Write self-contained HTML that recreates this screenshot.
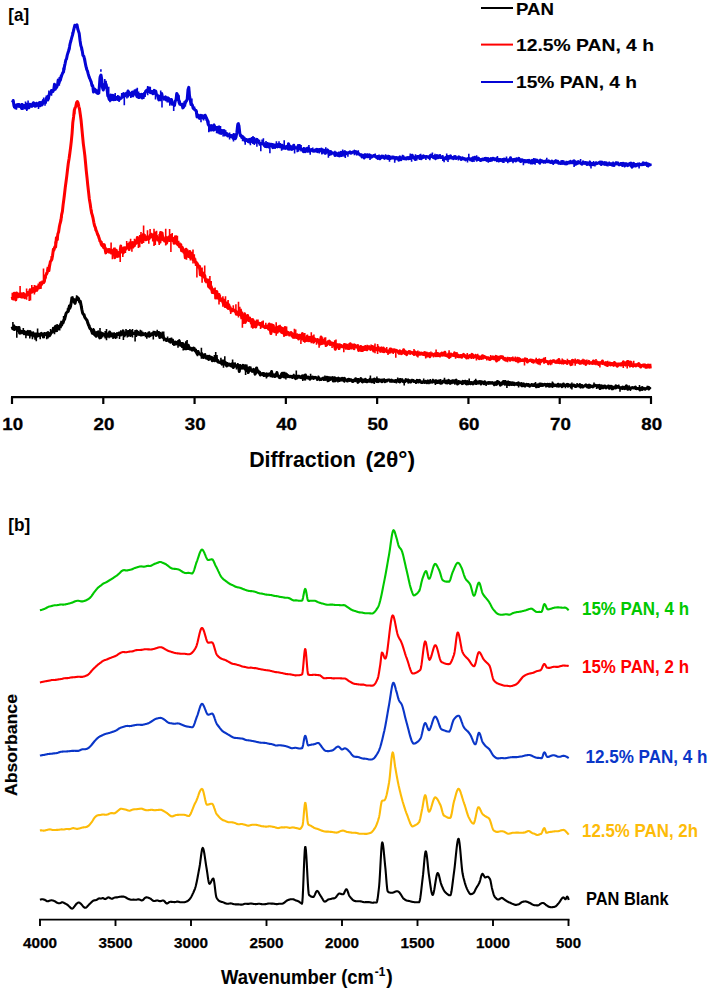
<!DOCTYPE html><html><head><meta charset="utf-8"><style>html,body{margin:0;padding:0;background:#fff;width:708px;height:989px;overflow:hidden}svg{display:block}</style></head><body><svg width="708" height="989" viewBox="0 0 708 989">
<rect width="708" height="989" fill="#fff"/>
<path d="M12.1,326.6 L12.8,328.8 L13.6,328.9 L14.3,326.7 L15.1,327.3 L15.8,327.4 L16.6,329.4 L17.4,329.0 L18.1,330.7 L18.9,327.5 L19.6,332.9 L20.4,331.0 L21.1,332.5 L21.9,331.6 L22.6,331.5 L23.4,333.0 L24.1,333.7 L24.9,332.5 L25.6,332.8 L26.4,334.2 L27.1,332.1 L27.9,331.4 L28.6,334.3 L29.4,333.0 L30.1,331.5 L30.9,333.3 L31.6,334.0 L32.4,333.1 L33.1,332.8 L33.9,335.0 L34.6,336.3 L35.4,334.6 L36.1,333.8 L36.9,335.3 L37.6,335.7 L38.4,334.2 L39.1,335.3 L39.9,335.9 L40.6,334.1 L41.4,333.3 L42.1,335.0 L42.9,335.1 L43.6,336.6 L44.4,333.5 L45.1,334.6 L45.9,334.5 L46.6,333.3 L47.4,335.8 L48.1,336.0 L48.9,333.5 L49.6,335.7 L50.4,334.1 L51.1,332.9 L51.9,331.8 L52.6,332.0 L53.4,328.3 L54.1,330.6 L54.9,330.1 L55.6,326.3 L56.4,328.9 L57.1,327.6 L57.9,328.5 L58.6,326.2 L59.4,326.2 L60.1,326.1 L60.9,323.7 L61.6,325.1 L62.4,323.2 L63.1,322.9 L63.9,319.9 L64.6,319.5 L65.3,316.4 L66.1,313.3 L66.8,312.4 L67.6,311.8 L68.3,311.3 L69.1,307.0 L69.8,308.2 L70.6,306.1 L71.3,302.0 L72.1,298.0 L72.8,300.7 L73.6,299.3 L74.3,302.2 L75.1,303.3 L75.8,299.8 L76.6,299.7 L77.3,297.4 L78.1,297.9 L78.8,299.3 L79.6,302.1 L80.3,301.4 L81.1,305.2 L81.8,309.3 L82.6,313.0 L83.3,314.2 L84.1,314.8 L84.8,317.4 L85.6,318.4 L86.3,319.6 L87.1,320.5 L87.8,323.1 L88.6,325.0 L89.3,326.8 L90.1,328.7 L90.8,328.9 L91.6,330.5 L92.3,333.2 L93.1,331.8 L93.8,330.4 L94.6,334.7 L95.3,333.8 L96.1,336.3 L96.8,333.6 L97.6,333.0 L98.3,331.8 L99.1,335.9 L99.8,337.9 L100.6,333.2 L101.3,333.6 L102.1,335.5 L102.8,333.6 L103.6,334.5 L104.3,334.4 L105.1,335.3 L105.8,336.5 L106.6,335.0 L107.3,336.3 L108.1,334.4 L108.8,335.5 L109.6,332.0 L110.3,333.0 L111.1,336.1 L111.8,334.2 L112.6,335.8 L113.3,335.8 L114.1,336.9 L114.8,336.1 L115.6,336.4 L116.3,334.8 L117.1,333.9 L117.8,333.7 L118.6,334.0 L119.3,332.9 L120.1,333.6 L120.8,334.0 L121.6,334.3 L122.3,333.3 L123.1,330.9 L123.8,333.3 L124.6,333.6 L125.3,334.6 L126.1,333.7 L126.8,331.9 L127.6,331.7 L128.3,335.4 L129.1,333.6 L129.8,335.0 L130.6,335.5 L131.3,331.4 L132.1,333.1 L132.8,333.3 L133.6,333.5 L134.3,333.6 L135.1,333.2 L135.8,333.3 L136.6,331.1 L137.3,333.0 L138.1,332.4 L138.8,333.7 L139.6,333.0 L140.3,334.7 L141.1,335.1 L141.8,334.5 L142.6,334.7 L143.3,334.5 L144.1,333.9 L144.8,334.4 L145.6,334.0 L146.3,335.3 L147.1,334.9 L147.8,335.7 L148.6,333.1 L149.3,336.2 L150.1,334.0 L150.8,333.9 L151.6,334.5 L152.3,333.7 L153.1,334.6 L153.8,333.2 L154.6,332.3 L155.3,332.6 L156.1,335.5 L156.8,333.9 L157.6,332.4 L158.3,334.3 L159.1,332.5 L159.8,337.5 L160.6,333.4 L161.3,336.6 L162.1,337.1 L162.8,334.9 L163.6,337.8 L164.3,339.2 L165.1,338.9 L165.8,339.1 L166.6,340.4 L167.3,339.7 L168.1,340.2 L168.8,339.9 L169.6,341.2 L170.3,339.4 L171.1,342.0 L171.8,340.6 L172.6,340.1 L173.3,342.3 L174.1,344.4 L174.8,343.7 L175.6,342.0 L176.3,343.9 L177.1,342.6 L177.8,343.4 L178.6,344.0 L179.3,341.0 L180.1,344.7 L180.8,343.4 L181.6,344.1 L182.3,343.4 L183.1,343.6 L183.8,344.7 L184.6,347.3 L185.3,348.8 L186.1,346.8 L186.8,348.6 L187.6,347.1 L188.3,345.2 L189.1,348.3 L189.8,349.0 L190.6,348.1 L191.3,349.4 L192.1,350.1 L192.8,348.5 L193.6,348.0 L194.3,350.0 L195.1,350.4 L195.8,350.5 L196.6,352.7 L197.3,354.0 L198.1,351.5 L198.8,353.4 L199.6,354.1 L200.3,354.2 L201.1,355.0 L201.8,353.5 L202.6,355.4 L203.3,357.5 L204.1,356.3 L204.8,354.8 L205.6,356.8 L206.3,358.1 L207.1,357.3 L207.8,356.4 L208.6,359.5 L209.3,356.2 L210.1,358.9 L210.8,358.5 L211.6,357.3 L212.3,360.7 L213.1,359.9 L213.8,358.2 L214.6,360.8 L215.3,359.7 L216.1,358.1 L216.8,360.0 L217.6,361.5 L218.3,362.2 L219.1,361.9 L219.8,362.0 L220.6,362.8 L221.3,362.1 L222.1,364.2 L222.8,363.1 L223.6,363.5 L224.3,364.1 L225.1,362.2 L225.8,362.9 L226.6,366.0 L227.3,364.7 L228.1,364.1 L228.8,365.1 L229.6,364.2 L230.3,365.4 L231.1,364.4 L231.8,365.8 L232.6,363.5 L233.3,367.5 L234.1,365.2 L234.8,364.0 L235.6,365.9 L236.3,365.9 L237.1,366.7 L237.8,365.2 L238.6,367.3 L239.3,371.6 L240.1,365.5 L240.8,367.7 L241.6,367.0 L242.3,367.8 L243.1,365.4 L243.8,366.4 L244.6,368.6 L245.3,368.1 L246.1,370.4 L246.8,367.6 L247.6,368.9 L248.3,372.6 L249.1,368.0 L249.8,368.1 L250.6,369.4 L251.3,369.6 L252.1,370.9 L252.8,370.3 L253.6,369.4 L254.3,370.8 L255.1,374.1 L255.8,372.7 L256.6,367.9 L257.4,371.4 L258.1,370.8 L258.9,372.9 L259.6,372.1 L260.4,375.0 L261.1,374.0 L261.9,374.2 L262.6,373.5 L263.4,373.5 L264.1,374.1 L264.9,375.5 L265.6,374.7 L266.4,373.8 L267.1,375.9 L267.9,374.7 L268.6,374.5 L269.4,373.8 L270.1,374.1 L270.9,374.1 L271.6,371.7 L272.4,376.2 L273.1,375.7 L273.9,374.9 L274.6,376.4 L275.4,375.8 L276.1,375.8 L276.9,372.5 L277.6,375.2 L278.4,376.1 L279.1,377.4 L279.9,377.7 L280.6,377.3 L281.4,374.4 L282.1,373.3 L282.9,376.4 L283.6,375.9 L284.4,377.0 L285.1,375.8 L285.9,376.3 L286.6,374.4 L287.4,376.6 L288.1,375.7 L288.9,376.6 L289.6,376.8 L290.4,376.2 L291.1,376.7 L291.9,376.4 L292.6,377.3 L293.4,377.1 L294.1,376.0 L294.9,376.0 L295.6,378.6 L296.4,376.6 L297.1,377.9 L297.9,377.3 L298.6,376.3 L299.4,376.2 L300.1,377.1 L300.9,377.3 L301.6,377.7 L302.4,375.8 L303.1,376.6 L303.9,377.1 L304.6,378.9 L305.4,374.9 L306.1,377.8 L306.9,376.9 L307.6,377.9 L308.4,377.0 L309.1,377.9 L309.9,379.2 L310.6,378.0 L311.4,378.1 L312.1,378.1 L312.9,377.1 L313.6,378.4 L314.4,377.7 L315.1,377.2 L315.9,378.0 L316.6,377.8 L317.4,378.8 L318.1,378.1 L318.9,377.7 L319.6,379.6 L320.4,379.2 L321.1,379.5 L321.9,378.9 L322.6,378.3 L323.4,378.1 L324.1,378.2 L324.9,379.4 L325.6,378.7 L326.4,377.3 L327.1,378.6 L327.9,377.4 L328.6,378.9 L329.4,377.7 L330.1,377.7 L330.9,379.0 L331.6,378.9 L332.4,377.5 L333.1,379.7 L333.9,381.0 L334.6,377.8 L335.4,380.8 L336.1,378.6 L336.9,378.8 L337.6,379.2 L338.4,378.1 L339.1,380.5 L339.9,379.9 L340.6,378.8 L341.4,379.3 L342.1,378.3 L342.9,379.3 L343.6,380.5 L344.4,378.3 L345.1,379.4 L345.9,379.9 L346.6,380.7 L347.4,381.0 L348.1,379.5 L348.9,379.3 L349.6,380.4 L350.4,379.7 L351.1,379.8 L351.9,381.0 L352.6,381.5 L353.4,380.4 L354.1,380.0 L354.9,380.7 L355.6,378.7 L356.4,380.3 L357.1,379.5 L357.9,382.4 L358.6,381.0 L359.4,380.6 L360.1,380.3 L360.9,378.5 L361.6,381.2 L362.4,381.9 L363.1,380.0 L363.9,381.2 L364.6,381.3 L365.4,379.4 L366.1,381.5 L366.9,381.8 L367.6,380.9 L368.4,380.6 L369.1,381.3 L369.9,379.4 L370.6,380.8 L371.4,381.6 L372.1,379.7 L372.9,381.5 L373.6,380.4 L374.4,379.0 L375.1,380.6 L375.9,379.9 L376.6,381.0 L377.4,379.7 L378.1,381.6 L378.9,380.1 L379.6,381.0 L380.4,380.2 L381.1,380.4 L381.9,381.7 L382.6,380.9 L383.4,380.4 L384.1,379.7 L384.9,381.6 L385.6,381.3 L386.4,380.4 L387.1,380.9 L387.9,379.9 L388.6,379.9 L389.4,380.0 L390.1,381.0 L390.9,380.9 L391.6,380.1 L392.4,381.3 L393.1,381.3 L393.9,380.8 L394.6,381.5 L395.4,380.5 L396.1,380.6 L396.9,381.1 L397.6,380.7 L398.4,381.3 L399.1,379.7 L399.9,381.9 L400.6,380.1 L401.4,380.6 L402.1,379.7 L402.9,381.3 L403.6,381.8 L404.4,381.7 L405.1,381.5 L405.9,379.6 L406.6,380.3 L407.4,380.6 L408.1,380.2 L408.9,381.9 L409.6,381.2 L410.4,381.0 L411.1,381.5 L411.9,380.4 L412.6,380.4 L413.4,380.5 L414.1,381.6 L414.9,381.5 L415.6,381.7 L416.4,382.2 L417.1,380.3 L417.9,380.9 L418.6,381.5 L419.4,380.4 L420.1,381.0 L420.9,382.3 L421.6,382.4 L422.4,382.4 L423.1,381.6 L423.9,381.4 L424.6,382.5 L425.4,381.3 L426.1,381.9 L426.9,382.7 L427.6,381.4 L428.4,381.2 L429.1,381.7 L429.9,382.2 L430.6,382.1 L431.4,381.9 L432.1,382.2 L432.9,380.5 L433.6,381.1 L434.4,381.9 L435.1,381.1 L435.9,380.7 L436.6,380.9 L437.4,381.1 L438.1,381.7 L438.9,381.1 L439.6,382.1 L440.4,383.2 L441.1,381.8 L441.9,382.9 L442.6,382.1 L443.4,381.0 L444.1,381.7 L444.9,381.2 L445.6,382.6 L446.4,381.1 L447.1,383.0 L447.9,382.5 L448.6,380.4 L449.4,382.7 L450.1,383.3 L450.9,381.4 L451.6,382.8 L452.4,380.7 L453.1,382.3 L453.9,380.8 L454.6,382.5 L455.4,380.7 L456.1,380.1 L456.9,382.5 L457.6,384.0 L458.4,381.7 L459.1,382.9 L459.9,382.3 L460.6,382.0 L461.4,382.7 L462.1,383.6 L462.9,381.3 L463.6,382.7 L464.4,382.6 L465.1,381.2 L465.9,383.6 L466.6,383.9 L467.4,381.6 L468.1,383.8 L468.9,382.5 L469.6,382.3 L470.4,383.6 L471.1,382.6 L471.9,382.7 L472.6,383.7 L473.4,383.5 L474.1,383.2 L474.9,381.5 L475.6,381.3 L476.4,383.5 L477.1,381.9 L477.9,382.7 L478.6,381.8 L479.4,382.5 L480.1,381.7 L480.9,384.0 L481.6,381.9 L482.4,382.6 L483.1,382.6 L483.9,383.7 L484.6,381.7 L485.4,382.8 L486.1,382.7 L486.9,383.3 L487.6,383.2 L488.4,382.5 L489.1,383.1 L489.9,382.6 L490.6,383.3 L491.4,382.9 L492.1,382.5 L492.9,383.0 L493.6,383.3 L494.4,384.8 L495.1,382.7 L495.9,383.3 L496.6,384.3 L497.4,381.5 L498.1,381.8 L498.9,382.3 L499.6,383.1 L500.4,385.1 L501.1,383.6 L501.9,384.2 L502.6,383.2 L503.4,381.5 L504.1,381.6 L504.9,384.2 L505.6,383.6 L506.4,382.5 L507.1,384.4 L507.9,382.4 L508.6,384.4 L509.4,384.7 L510.1,383.0 L510.9,382.8 L511.6,384.4 L512.4,382.9 L513.1,384.5 L513.9,383.0 L514.6,384.6 L515.4,384.1 L516.1,383.7 L516.9,383.5 L517.6,384.4 L518.4,382.8 L519.1,384.1 L519.9,384.1 L520.6,385.0 L521.4,383.6 L522.1,385.9 L522.9,384.4 L523.6,383.9 L524.4,385.8 L525.1,386.1 L525.9,384.7 L526.6,384.2 L527.4,385.0 L528.1,384.4 L528.9,384.8 L529.6,386.2 L530.4,385.3 L531.1,385.1 L531.9,385.3 L532.6,384.9 L533.4,385.6 L534.1,385.6 L534.9,384.7 L535.6,385.0 L536.4,386.8 L537.1,385.3 L537.9,384.8 L538.6,386.5 L539.4,384.9 L540.1,384.1 L540.9,385.4 L541.6,384.2 L542.4,384.5 L543.1,385.1 L543.9,384.7 L544.6,384.3 L545.4,384.4 L546.1,384.4 L546.9,385.7 L547.6,384.3 L548.4,384.4 L549.1,386.3 L549.9,384.4 L550.6,385.9 L551.4,385.8 L552.1,384.7 L552.9,383.8 L553.6,385.2 L554.4,385.4 L555.1,385.6 L555.9,385.0 L556.6,385.9 L557.4,386.0 L558.1,384.2 L558.9,386.1 L559.6,385.2 L560.4,384.7 L561.1,385.0 L561.9,386.6 L562.6,386.0 L563.4,384.0 L564.1,385.4 L564.9,385.3 L565.6,385.3 L566.4,385.1 L567.1,384.4 L567.9,386.2 L568.6,384.9 L569.4,385.3 L570.1,385.2 L570.9,385.1 L571.6,386.2 L572.4,386.0 L573.1,385.2 L573.9,385.0 L574.6,385.4 L575.4,386.5 L576.1,385.9 L576.9,386.0 L577.6,385.6 L578.4,385.7 L579.1,386.0 L579.9,384.5 L580.6,387.1 L581.4,385.4 L582.1,385.5 L582.9,387.0 L583.6,386.2 L584.4,386.1 L585.1,385.6 L585.9,384.9 L586.6,386.2 L587.4,387.0 L588.1,385.5 L588.9,387.2 L589.6,385.4 L590.4,385.7 L591.1,386.6 L591.9,386.3 L592.6,386.9 L593.4,385.8 L594.1,385.7 L594.9,385.1 L595.6,385.6 L596.4,385.8 L597.1,385.5 L597.9,386.9 L598.6,386.2 L599.4,385.3 L600.1,388.6 L600.9,386.2 L601.6,385.9 L602.4,387.8 L603.1,387.8 L603.9,386.1 L604.6,385.9 L605.4,386.3 L606.1,387.9 L606.9,386.9 L607.6,386.6 L608.4,387.2 L609.1,388.1 L609.9,386.2 L610.6,387.0 L611.4,386.3 L612.1,388.9 L612.9,388.7 L613.6,388.1 L614.4,387.3 L615.1,387.9 L615.9,385.9 L616.6,387.7 L617.4,386.5 L618.1,386.6 L618.9,387.0 L619.6,387.3 L620.4,388.0 L621.1,388.1 L621.9,387.8 L622.6,387.0 L623.4,388.2 L624.1,387.6 L624.9,388.6 L625.6,387.1 L626.4,385.7 L627.1,387.4 L627.9,389.3 L628.6,388.1 L629.4,387.7 L630.1,388.5 L630.9,388.2 L631.6,388.2 L632.4,387.5 L633.1,387.9 L633.9,388.1 L634.6,387.5 L635.4,387.1 L636.1,388.1 L636.9,388.7 L637.6,388.4 L638.4,388.4 L639.1,388.4 L639.9,389.9 L640.6,388.2 L641.4,388.8 L642.1,389.5 L642.9,388.1 L643.6,388.3 L644.4,388.9 L645.1,389.3 L645.9,388.4 L646.6,388.4 L647.4,388.2 L648.1,387.3 L648.9,389.0 L649.6,388.0 L650.4,387.0" fill="none" stroke="#000" stroke-width="3.0" stroke-linejoin="round"/>
<path d="M12.9,322.0V329.0 M14.2,324.5V331.0 M15.5,327.9V330.3 M16.8,326.1V337.7 M18.1,326.6V330.5 M19.4,326.4V334.2 M20.7,330.6V334.6 M22.0,330.3V333.4 M23.3,328.1V332.6 M24.6,330.1V333.5 M25.9,332.4V338.2 M27.2,333.1V335.3 M28.5,333.6V335.6 M29.8,330.8V338.6 M31.1,332.7V336.4 M32.4,333.3V339.3 M33.7,334.8V335.0 M35.0,334.3V339.8 M36.3,334.1V341.2 M37.6,328.6V337.5 M38.9,332.7V336.3 M40.2,333.7V339.3 M41.5,333.6V336.0 M42.8,333.0V338.2 M44.1,333.9V338.2 M45.4,334.4V335.8 M46.7,333.0V339.3 M48.0,331.0V338.4 M49.3,334.0V335.2 M50.6,329.1V335.3 M51.9,330.5V332.0 M53.2,326.9V332.1 M54.5,326.8V334.2 M55.8,328.6V332.3 M57.1,323.9V332.0 M58.4,325.3V330.5 M59.7,325.1V330.6 M61.0,320.8V328.3 M62.3,320.7V324.3 M63.6,316.0V321.4 M64.9,316.2V319.5 M66.2,312.6V316.3 M67.5,308.3V312.9 M68.8,304.7V309.0 M70.1,304.2V309.0 M71.4,296.7V303.2 M72.7,296.3V300.6 M74.0,299.5V302.5 M75.3,301.1V302.5 M76.6,295.2V300.3 M77.9,297.7V300.4 M79.2,297.9V299.4 M80.5,303.4V304.9 M81.8,305.9V310.6 M83.1,312.2V313.8 M84.4,316.1V316.5 M85.7,318.0V319.0 M87.0,320.3V321.9 M88.3,321.9V326.0 M89.6,324.8V328.3 M90.9,328.1V331.6 M92.2,329.2V334.2 M93.5,327.9V334.8 M94.8,331.8V336.3 M96.1,331.0V335.1 M97.4,333.5V335.0 M98.7,332.2V335.3 M100.0,328.1V335.6 M101.3,331.4V338.7 M102.6,334.5V337.6 M103.9,333.1V336.2 M105.2,330.9V338.5 M106.5,329.0V340.3 M107.8,332.6V336.5 M109.1,334.4V338.3 M110.4,333.3V336.0 M111.7,332.8V336.7 M113.0,332.6V339.1 M114.3,332.2V336.0 M115.6,332.9V338.9 M116.9,332.3V338.2 M118.2,334.4V335.9 M119.5,334.0V339.1 M120.8,330.2V336.6 M122.1,331.3V335.6 M123.4,333.2V340.1 M124.7,331.9V337.2 M126.0,328.9V335.1 M127.3,330.5V337.4 M128.6,330.1V335.5 M129.9,329.1V333.0 M131.2,330.5V333.3 M132.5,329.1V337.5 M133.8,331.7V334.3 M135.1,330.1V341.4 M136.4,331.0V336.9 M137.7,333.2V335.8 M139.0,332.4V335.7 M140.3,329.8V335.1 M141.6,330.4V334.8 M142.9,331.8V336.1 M144.2,334.0V335.1 M145.5,332.1V337.3 M146.8,333.3V338.7 M148.1,334.5V336.1 M149.4,331.2V335.0 M150.7,333.5V336.9 M152.0,332.6V336.0 M153.3,330.7V339.4 M154.6,333.1V334.5 M155.9,332.1V334.8 M157.2,329.8V334.9 M158.5,334.4V336.8 M159.8,332.5V338.2 M161.1,333.2V336.4 M162.4,331.4V337.6 M163.7,331.6V341.2 M165.0,337.9V339.5 M166.3,338.3V341.9 M167.6,336.5V341.0 M168.9,339.8V342.4 M170.2,339.2V343.4 M171.5,337.5V342.1 M172.8,341.1V344.9 M174.1,341.0V345.3 M175.4,341.2V344.5 M176.7,342.6V344.7 M178.0,339.9V347.8 M179.3,339.2V346.2 M180.6,341.9V346.7 M181.9,343.2V348.1 M183.2,344.5V350.5 M184.5,345.1V349.4 M185.8,341.3V349.8 M187.1,340.1V349.7 M188.4,346.1V350.1 M189.7,347.5V350.1 M191.0,347.3V349.8 M192.3,348.5V349.9 M193.6,349.6V350.9 M194.9,347.4V352.2 M196.2,348.8V352.9 M197.5,351.4V356.3 M198.8,352.2V352.6 M200.1,352.9V353.7 M201.4,347.8V358.7 M202.7,353.8V358.0 M204.0,354.9V357.0 M205.3,353.2V359.0 M206.6,355.6V357.1 M207.9,355.8V359.9 M209.2,356.3V358.9 M210.5,358.0V359.6 M211.8,357.9V360.2 M213.1,359.3V359.8 M214.4,355.0V361.4 M215.7,351.9V361.6 M217.0,354.9V361.7 M218.3,359.2V362.3 M219.6,361.7V363.8 M220.9,357.8V362.4 M222.2,359.4V363.1 M223.5,359.6V367.7 M224.8,356.3V363.6 M226.1,363.1V366.0 M227.4,362.0V364.4 M228.7,364.3V365.8 M230.0,363.0V366.1 M231.3,364.9V367.4 M232.6,359.4V365.6 M233.9,363.2V367.4 M235.2,362.6V367.2 M236.5,365.7V369.5 M237.8,363.0V367.0 M239.1,366.8V369.8 M240.4,364.5V367.9 M241.7,366.1V369.6 M243.0,364.6V369.3 M244.3,364.4V368.3 M245.6,364.2V375.0 M246.9,364.6V370.6 M248.2,367.7V371.4 M249.5,366.2V369.7 M250.8,366.5V371.7 M252.1,369.3V372.8 M253.4,368.8V372.4 M254.7,369.4V371.8 M256.0,367.6V373.2 M257.3,371.1V372.6 M258.6,372.0V372.5 M259.9,372.2V373.4 M261.2,372.8V373.4 M262.5,372.8V376.2 M263.8,372.2V377.1 M265.1,373.7V374.2 M266.4,373.7V378.4 M267.7,372.8V376.8 M269.0,373.7V376.3 M270.3,374.5V377.3 M271.6,370.0V375.5 M272.9,373.9V376.1 M274.2,374.6V375.4 M275.5,373.1V377.7 M276.8,375.0V377.1 M278.1,375.3V376.6 M279.4,375.1V376.4 M280.7,375.6V376.8 M282.0,374.7V376.5 M283.3,371.8V376.2 M284.6,371.8V376.2 M285.9,372.5V379.5 M287.2,375.4V377.1 M288.5,374.8V377.1 M289.8,375.5V377.2 M291.1,375.2V377.0 M292.4,374.8V379.1 M293.7,373.8V378.0 M295.0,376.0V377.2 M296.3,370.5V376.8 M297.6,374.7V376.9 M298.9,376.4V376.9 M300.2,376.2V379.0 M301.5,375.9V377.6 M302.8,376.6V381.0 M304.1,374.2V377.4 M305.4,375.9V380.5 M306.7,376.0V378.2 M308.0,376.0V378.9 M309.3,376.5V378.2 M310.6,373.7V378.7 M311.9,375.7V378.7 M313.2,377.4V378.5 M314.5,377.3V378.8 M315.8,377.6V378.9 M317.1,377.7V380.9 M318.4,375.5V379.3 M319.7,378.2V379.1 M321.0,378.0V380.7 M322.3,378.0V379.5 M323.6,377.7V381.0 M324.9,375.4V379.3 M326.2,377.3V380.8 M327.5,377.0V382.2 M328.8,377.7V382.0 M330.1,377.0V381.0 M331.4,378.4V380.3 M332.7,378.6V382.3 M334.0,378.5V379.6 M335.3,378.8V381.6 M336.6,377.6V381.2 M337.9,378.8V382.4 M339.2,377.7V380.4 M340.5,378.7V381.6 M341.8,378.4V381.4 M343.1,379.3V380.8 M344.4,377.7V382.7 M345.7,379.5V379.9 M347.0,378.7V380.3 M348.3,379.9V380.6 M349.6,378.5V381.0 M350.9,379.0V381.1 M352.2,379.9V381.7 M353.5,379.4V382.5 M354.8,378.9V382.1 M356.1,380.1V380.9 M357.4,378.2V381.0 M358.7,378.1V383.1 M360.0,380.0V381.2 M361.3,379.9V380.9 M362.6,380.1V382.6 M363.9,378.9V381.6 M365.2,380.1V382.4 M366.5,380.3V382.3 M367.8,379.0V381.0 M369.1,380.6V381.6 M370.4,375.6V382.1 M371.7,380.3V380.9 M373.0,380.1V383.2 M374.3,378.6V384.0 M375.6,379.5V382.3 M376.9,376.6V382.9 M378.2,378.4V381.3 M379.5,378.5V381.9 M380.8,379.2V381.2 M382.1,378.5V382.4 M383.4,379.3V381.7 M384.7,379.7V381.8 M386.0,379.8V381.0 M387.3,379.7V381.0 M388.6,380.0V380.9 M389.9,379.9V382.4 M391.2,380.5V382.6 M392.5,380.3V381.4 M393.8,380.3V381.7 M395.1,380.0V382.8 M396.4,379.8V383.4 M397.7,377.6V381.5 M399.0,380.3V380.8 M400.3,378.0V381.1 M401.6,380.0V380.9 M402.9,380.0V382.5 M404.2,380.8V385.4 M405.5,380.7V382.6 M406.8,380.8V381.7 M408.1,378.4V383.4 M409.4,379.2V381.8 M410.7,379.7V383.4 M412.0,378.7V381.2 M413.3,380.4V382.0 M414.6,381.0V382.1 M415.9,379.9V384.1 M417.2,381.0V381.5 M418.5,380.2V383.5 M419.8,379.5V382.6 M421.1,381.4V382.2 M422.4,380.9V382.4 M423.7,378.5V381.7 M425.0,381.3V381.9 M426.3,380.4V381.8 M427.6,379.5V383.2 M428.9,380.3V384.2 M430.2,379.0V383.2 M431.5,380.9V382.1 M432.8,378.7V382.1 M434.1,380.9V382.6 M435.4,381.1V385.1 M436.7,380.6V384.0 M438.0,380.4V384.0 M439.3,379.6V383.2 M440.6,379.1V382.6 M441.9,381.4V384.3 M443.2,380.0V382.9 M444.5,377.7V382.6 M445.8,381.4V382.4 M447.1,380.8V382.2 M448.4,381.4V383.1 M449.7,381.9V383.0 M451.0,381.5V382.2 M452.3,381.1V382.5 M453.6,381.7V382.4 M454.9,381.5V384.8 M456.2,379.4V382.4 M457.5,381.0V382.3 M458.8,379.9V383.3 M460.1,382.0V383.7 M461.4,381.3V384.0 M462.7,381.7V384.9 M464.0,380.7V384.0 M465.3,380.5V383.2 M466.6,382.0V384.3 M467.9,380.7V384.3 M469.2,378.6V382.6 M470.5,381.8V384.9 M471.8,381.5V382.9 M473.1,381.6V385.2 M474.4,380.9V384.0 M475.7,378.7V384.7 M477.0,382.2V383.3 M478.3,382.2V384.6 M479.6,380.3V384.1 M480.9,382.7V383.3 M482.2,380.8V382.9 M483.5,382.7V383.2 M484.8,382.3V384.5 M486.1,382.1V386.0 M487.4,382.2V383.1 M488.7,381.8V384.8 M490.0,381.6V383.6 M491.3,382.3V383.8 M492.6,382.5V384.6 M493.9,382.0V384.3 M495.2,382.6V383.6 M496.5,381.1V384.6 M497.8,382.2V384.4 M499.1,381.5V384.2 M500.4,381.9V383.3 M501.7,381.6V383.5 M503.0,382.1V384.0 M504.3,383.1V383.5 M505.6,380.0V385.0 M506.9,382.4V388.1 M508.2,380.4V385.5 M509.5,380.9V384.0 M510.8,382.8V384.0 M512.1,383.6V385.3 M513.4,383.1V384.2 M514.7,382.6V385.4 M516.0,384.0V384.3 M517.3,382.5V386.0 M518.6,383.2V387.5 M519.9,383.5V384.7 M521.2,382.5V385.1 M522.5,384.1V386.2 M523.8,384.4V385.4 M525.1,384.8V385.3 M526.4,384.1V385.5 M527.7,383.8V386.7 M529.0,384.2V387.1 M530.3,384.8V385.9 M531.6,382.9V385.5 M532.9,384.1V386.7 M534.2,382.9V385.4 M535.5,382.0V385.6 M536.8,384.9V386.1 M538.1,384.9V387.3 M539.4,382.7V385.3 M540.7,382.7V385.7 M542.0,384.4V387.1 M543.3,383.8V386.6 M544.6,383.7V386.3 M545.9,384.0V387.6 M547.2,383.5V385.2 M548.5,384.6V385.1 M549.8,384.6V385.3 M551.1,384.1V386.0 M552.4,381.6V387.9 M553.7,383.6V387.3 M555.0,384.4V386.8 M556.3,384.8V385.2 M557.6,384.4V386.4 M558.9,384.5V386.3 M560.2,384.1V386.4 M561.5,384.0V386.4 M562.8,384.1V387.2 M564.1,385.3V387.0 M565.4,384.9V388.2 M566.7,384.2V387.0 M568.0,383.3V385.8 M569.3,385.4V386.9 M570.6,384.3V388.6 M571.9,382.5V389.4 M573.2,385.5V385.8 M574.5,385.4V386.6 M575.8,385.2V388.1 M577.1,383.1V386.3 M578.4,384.4V386.0 M579.7,385.6V386.8 M581.0,384.8V386.9 M582.3,385.8V386.5 M583.6,385.9V387.0 M584.9,384.5V386.8 M586.2,384.0V386.2 M587.5,386.1V386.8 M588.8,383.8V388.4 M590.1,385.5V388.5 M591.4,386.0V387.8 M592.7,385.0V387.5 M594.0,382.5V387.5 M595.3,386.3V387.1 M596.6,384.9V388.9 M597.9,385.9V387.6 M599.2,384.0V388.1 M600.5,386.4V386.8 M601.8,386.8V386.9 M603.1,385.5V387.4 M604.4,385.7V388.5 M605.7,386.6V388.8 M607.0,386.6V387.8 M608.3,384.5V387.6 M609.6,385.6V389.6 M610.9,387.0V388.3 M612.2,385.8V387.5 M613.5,385.8V388.5 M614.8,387.0V388.1 M616.1,387.2V388.9 M617.4,386.2V387.6 M618.7,384.5V388.7 M620.0,387.4V391.7 M621.3,387.4V389.4 M622.6,386.0V389.9 M623.9,386.7V388.0 M625.2,387.6V388.1 M626.5,387.1V389.6 M627.8,386.6V387.9 M629.1,385.2V389.6 M630.4,386.7V391.1 M631.7,387.0V388.2 M633.0,387.7V388.4 M634.3,387.3V388.4 M635.6,387.5V390.0 M636.9,387.8V388.8 M638.2,387.2V388.4 M639.5,385.1V390.2 M640.8,386.9V389.5 M642.1,385.9V389.2 M643.4,387.6V389.8 M644.7,387.7V388.6 M646.0,387.8V388.9 M647.3,385.8V388.3 M648.6,386.5V390.0 M649.9,387.3V388.5" fill="none" stroke="#000" stroke-width="1.6"/>
<path d="M12.1,296.7 L12.8,298.7 L13.6,297.2 L14.3,293.2 L15.1,297.1 L15.8,299.9 L16.6,293.1 L17.4,295.3 L18.1,296.8 L18.9,294.0 L19.6,295.5 L20.4,296.6 L21.1,293.8 L21.9,296.9 L22.6,297.0 L23.4,293.5 L24.1,295.9 L24.9,297.7 L25.6,294.8 L26.4,295.4 L27.1,295.2 L27.9,292.8 L28.6,294.6 L29.4,292.9 L30.1,289.7 L30.9,292.2 L31.6,292.3 L32.4,291.7 L33.1,288.4 L33.9,290.1 L34.6,291.4 L35.4,288.8 L36.1,290.3 L36.9,290.1 L37.6,287.1 L38.4,287.9 L39.1,285.6 L39.9,287.6 L40.6,284.9 L41.4,283.4 L42.1,283.6 L42.9,282.7 L43.6,282.6 L44.4,281.4 L45.1,276.5 L45.9,274.9 L46.6,274.0 L47.4,271.6 L48.1,268.6 L48.9,270.7 L49.6,265.9 L50.4,261.6 L51.1,260.7 L51.9,259.3 L52.6,255.3 L53.4,249.3 L54.1,249.6 L54.9,246.7 L55.6,247.1 L56.4,237.7 L57.1,239.8 L57.9,233.8 L58.6,232.0 L59.4,226.5 L60.1,223.3 L60.9,220.5 L61.6,214.9 L62.4,211.3 L63.1,204.9 L63.9,199.0 L64.6,193.3 L65.3,187.1 L66.1,181.2 L66.8,175.9 L67.6,169.0 L68.3,163.3 L69.1,158.5 L69.8,153.5 L70.6,147.4 L71.3,141.4 L72.1,133.1 L72.8,122.6 L73.6,116.9 L74.3,110.2 L75.1,107.8 L75.8,106.4 L76.6,102.6 L77.3,101.5 L78.1,103.0 L78.8,106.3 L79.6,109.6 L80.3,114.5 L81.1,120.5 L81.8,127.9 L82.6,136.3 L83.3,143.6 L84.1,149.6 L84.8,155.1 L85.6,163.5 L86.3,171.1 L87.1,178.4 L87.8,185.3 L88.6,192.4 L89.3,198.7 L90.1,203.4 L90.8,208.3 L91.6,213.0 L92.3,215.1 L93.1,218.4 L93.8,222.3 L94.6,225.8 L95.3,227.4 L96.1,230.4 L96.8,231.8 L97.6,234.6 L98.3,235.5 L99.1,238.3 L99.8,240.0 L100.6,241.8 L101.3,244.4 L102.1,245.6 L102.8,244.9 L103.6,247.7 L104.3,244.8 L105.1,249.3 L105.8,252.9 L106.6,249.8 L107.3,250.3 L108.1,249.9 L108.8,251.9 L109.6,249.6 L110.3,252.4 L111.1,250.7 L111.8,250.7 L112.6,252.3 L113.3,252.3 L114.1,249.1 L114.8,257.8 L115.6,253.9 L116.3,250.2 L117.1,256.3 L117.8,253.8 L118.6,254.1 L119.3,254.9 L120.1,251.0 L120.8,246.1 L121.6,251.8 L122.3,251.9 L123.1,253.0 L123.8,248.5 L124.6,248.9 L125.3,249.7 L126.1,247.6 L126.8,247.1 L127.6,247.7 L128.3,244.5 L129.1,249.6 L129.8,243.7 L130.6,245.2 L131.3,243.9 L132.1,242.6 L132.8,244.8 L133.6,245.3 L134.3,245.8 L135.1,243.4 L135.8,240.7 L136.6,243.1 L137.3,237.6 L138.1,240.5 L138.8,241.2 L139.6,240.9 L140.3,236.9 L141.1,235.8 L141.8,242.4 L142.6,237.3 L143.3,234.6 L144.1,235.1 L144.8,237.6 L145.6,239.8 L146.3,237.0 L147.1,239.4 L147.8,237.1 L148.6,237.5 L149.3,238.5 L150.1,235.4 L150.8,236.9 L151.6,235.4 L152.3,234.9 L153.1,237.8 L153.8,234.8 L154.6,236.9 L155.3,235.3 L156.1,237.0 L156.8,236.3 L157.6,240.1 L158.3,238.2 L159.1,238.4 L159.8,242.1 L160.6,232.4 L161.3,236.4 L162.1,233.0 L162.8,239.0 L163.6,240.1 L164.3,240.6 L165.1,239.9 L165.8,237.4 L166.6,243.2 L167.3,240.1 L168.1,238.9 L168.8,237.1 L169.6,240.5 L170.3,238.6 L171.1,238.8 L171.8,240.3 L172.6,240.5 L173.3,238.4 L174.1,243.3 L174.8,238.9 L175.6,239.4 L176.3,243.3 L177.1,243.8 L177.8,244.6 L178.6,244.6 L179.3,246.6 L180.1,246.2 L180.8,244.7 L181.6,250.7 L182.3,247.5 L183.1,249.8 L183.8,252.4 L184.6,251.4 L185.3,257.8 L186.1,249.2 L186.8,251.1 L187.6,253.3 L188.3,256.5 L189.1,253.6 L189.8,251.5 L190.6,257.7 L191.3,253.9 L192.1,256.2 L192.8,259.5 L193.6,257.2 L194.3,258.9 L195.1,262.2 L195.8,262.1 L196.6,264.7 L197.3,263.5 L198.1,266.7 L198.8,266.0 L199.6,266.3 L200.3,274.8 L201.1,273.2 L201.8,275.5 L202.6,272.7 L203.3,276.0 L204.1,276.9 L204.8,275.6 L205.6,281.0 L206.3,279.5 L207.1,281.7 L207.8,280.1 L208.6,286.5 L209.3,287.2 L210.1,287.5 L210.8,285.9 L211.6,287.7 L212.3,292.5 L213.1,290.4 L213.8,292.5 L214.6,293.2 L215.3,291.5 L216.1,297.9 L216.8,291.5 L217.6,296.9 L218.3,297.0 L219.1,294.5 L219.8,299.2 L220.6,300.3 L221.3,300.0 L222.1,298.8 L222.8,302.1 L223.6,304.0 L224.3,302.8 L225.1,306.5 L225.8,305.3 L226.6,305.7 L227.3,307.6 L228.1,304.1 L228.8,305.0 L229.6,307.8 L230.3,308.4 L231.1,311.1 L231.8,311.0 L232.6,309.7 L233.3,310.4 L234.1,310.0 L234.8,310.4 L235.6,310.9 L236.3,314.1 L237.1,312.0 L237.8,312.7 L238.6,314.3 L239.3,313.4 L240.1,314.4 L240.8,311.1 L241.6,316.5 L242.3,315.6 L243.1,317.0 L243.8,317.7 L244.6,313.8 L245.3,322.4 L246.1,318.5 L246.8,318.9 L247.6,315.4 L248.3,320.4 L249.1,320.4 L249.8,319.3 L250.6,320.8 L251.3,323.1 L252.1,320.4 L252.8,319.6 L253.6,324.2 L254.3,322.5 L255.1,322.0 L255.8,327.0 L256.6,323.3 L257.4,323.0 L258.1,324.1 L258.9,323.2 L259.6,324.6 L260.4,324.8 L261.1,323.6 L261.9,324.6 L262.6,325.9 L263.4,326.3 L264.1,326.9 L264.9,327.6 L265.6,326.8 L266.4,327.5 L267.1,326.1 L267.9,326.6 L268.6,329.2 L269.4,323.9 L270.1,328.4 L270.9,333.6 L271.6,324.8 L272.4,331.0 L273.1,325.4 L273.9,329.4 L274.6,331.8 L275.4,331.8 L276.1,327.8 L276.9,327.3 L277.6,327.3 L278.4,331.3 L279.1,329.6 L279.9,330.6 L280.6,331.3 L281.4,331.8 L282.1,332.3 L282.9,331.8 L283.6,329.1 L284.4,334.6 L285.1,327.6 L285.9,334.7 L286.6,331.8 L287.4,332.8 L288.1,332.5 L288.9,333.0 L289.6,333.8 L290.4,333.6 L291.1,332.5 L291.9,336.0 L292.6,333.8 L293.4,337.3 L294.1,335.0 L294.9,334.3 L295.6,336.5 L296.4,337.5 L297.1,334.7 L297.9,336.0 L298.6,339.0 L299.4,335.2 L300.1,335.7 L300.9,337.5 L301.6,335.5 L302.4,333.6 L303.1,335.1 L303.9,338.6 L304.6,339.2 L305.4,339.3 L306.1,339.1 L306.9,336.6 L307.6,339.8 L308.4,340.7 L309.1,337.9 L309.9,340.7 L310.6,338.7 L311.4,339.8 L312.1,340.2 L312.9,337.4 L313.6,342.2 L314.4,338.7 L315.1,340.0 L315.9,339.6 L316.6,341.2 L317.4,341.3 L318.1,340.8 L318.9,343.1 L319.6,341.5 L320.4,340.6 L321.1,337.0 L321.9,341.1 L322.6,341.2 L323.4,340.5 L324.1,340.7 L324.9,343.0 L325.6,343.8 L326.4,345.2 L327.1,344.3 L327.9,341.7 L328.6,343.3 L329.4,341.1 L330.1,344.4 L330.9,344.0 L331.6,342.8 L332.4,343.8 L333.1,343.8 L333.9,343.4 L334.6,346.4 L335.4,349.2 L336.1,346.1 L336.9,346.6 L337.6,345.5 L338.4,344.9 L339.1,348.6 L339.9,345.1 L340.6,346.3 L341.4,345.7 L342.1,346.8 L342.9,346.0 L343.6,346.9 L344.4,344.5 L345.1,346.1 L345.9,348.3 L346.6,345.0 L347.4,345.6 L348.1,348.5 L348.9,347.2 L349.6,348.2 L350.4,343.8 L351.1,347.0 L351.9,345.2 L352.6,345.1 L353.4,347.6 L354.1,348.7 L354.9,345.2 L355.6,345.7 L356.4,346.5 L357.1,347.2 L357.9,345.6 L358.6,350.4 L359.4,348.2 L360.1,347.1 L360.9,346.9 L361.6,350.6 L362.4,350.6 L363.1,347.2 L363.9,348.3 L364.6,349.5 L365.4,346.5 L366.1,347.3 L366.9,349.8 L367.6,347.3 L368.4,347.7 L369.1,346.7 L369.9,347.5 L370.6,349.4 L371.4,347.6 L372.1,347.1 L372.9,348.0 L373.6,351.0 L374.4,349.2 L375.1,348.4 L375.9,349.3 L376.6,349.8 L377.4,349.5 L378.1,347.3 L378.9,349.9 L379.6,349.3 L380.4,350.7 L381.1,348.2 L381.9,351.1 L382.6,349.4 L383.4,348.1 L384.1,351.7 L384.9,349.7 L385.6,350.8 L386.4,350.3 L387.1,351.8 L387.9,351.9 L388.6,352.0 L389.4,351.6 L390.1,349.1 L390.9,349.1 L391.6,351.3 L392.4,350.1 L393.1,351.8 L393.9,351.5 L394.6,349.9 L395.4,350.4 L396.1,350.3 L396.9,350.7 L397.6,351.5 L398.4,352.5 L399.1,353.3 L399.9,350.9 L400.6,351.4 L401.4,353.7 L402.1,353.1 L402.9,352.5 L403.6,349.8 L404.4,351.3 L405.1,352.6 L405.9,351.9 L406.6,354.7 L407.4,352.7 L408.1,353.0 L408.9,351.6 L409.6,351.7 L410.4,352.2 L411.1,352.3 L411.9,352.8 L412.6,353.5 L413.4,353.4 L414.1,354.3 L414.9,351.9 L415.6,353.6 L416.4,353.7 L417.1,355.1 L417.9,353.3 L418.6,353.9 L419.4,352.8 L420.1,354.1 L420.9,354.2 L421.6,353.1 L422.4,353.4 L423.1,353.9 L423.9,354.5 L424.6,352.8 L425.4,355.0 L426.1,353.7 L426.9,356.1 L427.6,355.7 L428.4,353.8 L429.1,353.6 L429.9,356.8 L430.6,355.0 L431.4,354.9 L432.1,353.9 L432.9,354.3 L433.6,355.3 L434.4,355.1 L435.1,353.7 L435.9,355.8 L436.6,354.9 L437.4,353.6 L438.1,355.7 L438.9,354.5 L439.6,355.5 L440.4,354.2 L441.1,355.1 L441.9,353.1 L442.6,355.2 L443.4,353.3 L444.1,355.0 L444.9,352.3 L445.6,354.9 L446.4,355.7 L447.1,355.5 L447.9,356.3 L448.6,354.0 L449.4,356.7 L450.1,356.8 L450.9,354.0 L451.6,354.4 L452.4,354.7 L453.1,355.3 L453.9,355.5 L454.6,352.9 L455.4,356.0 L456.1,355.2 L456.9,354.5 L457.6,356.5 L458.4,355.3 L459.1,356.8 L459.9,356.3 L460.6,355.5 L461.4,357.0 L462.1,356.7 L462.9,355.4 L463.6,354.4 L464.4,355.5 L465.1,356.7 L465.9,355.9 L466.6,358.0 L467.4,356.6 L468.1,356.5 L468.9,356.8 L469.6,355.6 L470.4,356.4 L471.1,355.9 L471.9,354.3 L472.6,354.9 L473.4,357.5 L474.1,356.4 L474.9,356.7 L475.6,355.4 L476.4,356.4 L477.1,357.8 L477.9,357.2 L478.6,356.6 L479.4,358.7 L480.1,357.2 L480.9,356.9 L481.6,358.5 L482.4,355.7 L483.1,358.0 L483.9,356.4 L484.6,356.7 L485.4,356.9 L486.1,357.7 L486.9,357.8 L487.6,358.0 L488.4,358.0 L489.1,359.2 L489.9,359.5 L490.6,358.6 L491.4,358.7 L492.1,357.6 L492.9,356.9 L493.6,358.6 L494.4,358.1 L495.1,359.0 L495.9,356.4 L496.6,360.9 L497.4,357.0 L498.1,358.3 L498.9,359.3 L499.6,357.0 L500.4,357.9 L501.1,356.5 L501.9,357.1 L502.6,356.7 L503.4,358.7 L504.1,358.9 L504.9,358.4 L505.6,360.0 L506.4,360.2 L507.1,358.8 L507.9,358.7 L508.6,358.7 L509.4,358.5 L510.1,360.3 L510.9,359.3 L511.6,358.8 L512.4,359.0 L513.1,359.8 L513.9,358.9 L514.6,359.7 L515.4,359.4 L516.1,360.8 L516.9,360.7 L517.6,358.2 L518.4,359.5 L519.1,360.4 L519.9,359.3 L520.6,360.6 L521.4,360.2 L522.1,360.5 L522.9,359.9 L523.6,360.4 L524.4,360.6 L525.1,358.8 L525.9,359.3 L526.6,359.3 L527.4,362.0 L528.1,360.7 L528.9,360.8 L529.6,360.6 L530.4,360.0 L531.1,359.9 L531.9,361.4 L532.6,360.3 L533.4,362.2 L534.1,360.9 L534.9,360.9 L535.6,360.6 L536.4,360.8 L537.1,360.9 L537.9,362.4 L538.6,363.2 L539.4,359.9 L540.1,361.3 L540.9,361.8 L541.6,360.3 L542.4,360.6 L543.1,360.8 L543.9,359.0 L544.6,361.9 L545.4,361.3 L546.1,361.3 L546.9,361.5 L547.6,361.7 L548.4,363.6 L549.1,361.7 L549.9,362.3 L550.6,361.0 L551.4,361.9 L552.1,361.3 L552.9,361.5 L553.6,360.8 L554.4,360.9 L555.1,362.1 L555.9,362.4 L556.6,362.2 L557.4,361.1 L558.1,362.1 L558.9,359.5 L559.6,362.7 L560.4,361.8 L561.1,362.1 L561.9,363.0 L562.6,361.5 L563.4,362.8 L564.1,361.6 L564.9,362.5 L565.6,361.6 L566.4,362.3 L567.1,363.4 L567.9,361.5 L568.6,361.5 L569.4,361.8 L570.1,362.4 L570.9,364.7 L571.6,361.6 L572.4,360.3 L573.1,361.6 L573.9,360.8 L574.6,361.7 L575.4,362.3 L576.1,361.4 L576.9,361.6 L577.6,360.6 L578.4,362.5 L579.1,361.6 L579.9,363.3 L580.6,363.3 L581.4,361.6 L582.1,362.0 L582.9,362.4 L583.6,363.1 L584.4,360.9 L585.1,362.4 L585.9,364.1 L586.6,362.4 L587.4,362.7 L588.1,362.5 L588.9,361.4 L589.6,363.4 L590.4,362.8 L591.1,362.7 L591.9,363.3 L592.6,363.4 L593.4,361.0 L594.1,363.2 L594.9,362.2 L595.6,362.9 L596.4,362.2 L597.1,362.1 L597.9,363.8 L598.6,362.9 L599.4,362.7 L600.1,362.8 L600.9,363.2 L601.6,363.1 L602.4,361.0 L603.1,362.4 L603.9,363.1 L604.6,364.0 L605.4,364.6 L606.1,362.6 L606.9,365.2 L607.6,363.6 L608.4,364.0 L609.1,363.1 L609.9,363.1 L610.6,364.9 L611.4,363.5 L612.1,363.6 L612.9,364.8 L613.6,365.3 L614.4,362.5 L615.1,363.7 L615.9,363.9 L616.6,365.6 L617.4,366.2 L618.1,364.0 L618.9,364.4 L619.6,364.9 L620.4,365.1 L621.1,363.9 L621.9,365.0 L622.6,363.6 L623.4,361.9 L624.1,363.1 L624.9,364.6 L625.6,365.1 L626.4,362.5 L627.1,362.9 L627.9,364.5 L628.6,361.6 L629.4,365.1 L630.1,365.6 L630.9,362.1 L631.6,365.4 L632.4,364.6 L633.1,366.1 L633.9,365.1 L634.6,364.7 L635.4,365.1 L636.1,365.9 L636.9,365.3 L637.6,365.2 L638.4,363.9 L639.1,365.7 L639.9,365.3 L640.6,367.0 L641.4,365.4 L642.1,365.4 L642.9,365.0 L643.6,366.2 L644.4,365.4 L645.1,365.1 L645.9,367.1 L646.6,367.3 L647.4,365.5 L648.1,365.0 L648.9,366.9 L649.6,365.3 L650.4,368.5" fill="none" stroke="#ff0000" stroke-width="3.0" stroke-linejoin="round"/>
<path d="M12.3,292.8V300.0 M13.6,292.6V300.4 M14.9,296.8V298.6 M16.2,291.9V301.0 M17.5,294.5V297.9 M18.8,295.2V297.5 M20.1,286.0V296.7 M21.4,292.9V298.3 M22.7,296.0V297.8 M24.0,294.2V296.4 M25.3,295.0V295.8 M26.6,288.5V299.7 M27.9,290.9V293.9 M29.2,291.7V301.1 M30.5,288.9V300.4 M31.8,285.1V292.0 M33.1,289.7V290.8 M34.4,285.1V294.4 M35.7,285.5V290.6 M37.0,286.0V291.5 M38.3,283.5V288.1 M39.6,281.7V287.3 M40.9,281.2V288.9 M42.2,280.5V285.4 M43.5,268.6V283.2 M44.8,279.1V279.8 M46.1,272.5V278.6 M47.4,266.7V274.0 M48.7,264.7V271.8 M50.0,261.4V264.2 M51.3,255.9V260.0 M52.6,254.5V257.1 M53.9,247.0V251.4 M55.2,241.4V247.3 M56.5,239.9V243.3 M57.8,231.8V240.2 M59.1,227.6V229.6 M60.4,219.3V223.7 M61.7,213.0V218.0 M63.0,205.8V209.8 M64.3,195.8V196.7 M65.6,184.7V186.8 M66.9,174.1V176.1 M68.2,164.4V166.9 M69.5,154.1V156.2 M70.8,144.0V145.9 M72.1,132.6V133.3 M73.4,118.4V119.7 M74.7,109.5V114.2 M76.0,104.1V106.3 M77.3,103.4V104.1 M78.6,105.3V105.4 M79.9,108.0V112.5 M81.2,120.2V121.1 M82.5,135.9V136.2 M83.8,146.0V147.4 M85.1,156.9V158.5 M86.4,171.5V171.8 M87.7,183.4V184.1 M89.0,194.9V195.7 M90.3,203.4V207.0 M91.6,210.0V212.4 M92.9,217.1V218.7 M94.2,223.1V223.8 M95.5,227.6V231.0 M96.8,230.8V232.9 M98.1,233.1V235.9 M99.4,238.2V241.9 M100.7,240.8V242.8 M102.0,241.2V245.6 M103.3,243.2V247.3 M104.6,245.4V248.1 M105.9,247.3V250.2 M107.2,248.6V249.7 M108.5,248.3V251.3 M109.8,248.8V253.0 M111.1,242.6V254.4 M112.4,249.2V259.2 M113.7,252.1V256.3 M115.0,247.6V255.9 M116.3,249.5V254.2 M117.6,253.1V257.7 M118.9,251.0V257.6 M120.2,248.4V262.0 M121.5,251.2V253.0 M122.8,247.3V256.9 M124.1,246.3V253.2 M125.4,247.6V253.0 M126.7,240.9V249.3 M128.0,243.3V247.4 M129.3,241.4V248.7 M130.6,238.8V248.7 M131.9,242.6V251.8 M133.2,241.2V248.4 M134.5,238.8V242.8 M135.8,241.2V242.3 M137.1,240.1V243.8 M138.4,236.8V248.0 M139.7,235.1V247.2 M141.0,232.1V241.5 M142.3,235.0V239.0 M143.6,225.5V242.9 M144.9,234.2V240.8 M146.2,236.2V239.1 M147.5,230.2V237.2 M148.8,235.8V243.8 M150.1,228.9V237.0 M151.4,232.7V236.1 M152.7,234.5V241.6 M154.0,228.7V245.9 M155.3,231.5V245.1 M156.6,230.7V239.9 M157.9,236.9V239.3 M159.2,233.9V245.0 M160.5,237.1V243.3 M161.8,234.0V240.7 M163.1,235.6V239.9 M164.4,238.2V242.5 M165.7,228.8V245.5 M167.0,236.4V239.6 M168.3,237.3V240.4 M169.6,228.9V242.0 M170.9,234.1V251.9 M172.2,232.9V240.2 M173.5,239.5V241.9 M174.8,235.5V241.0 M176.1,235.2V243.0 M177.4,235.8V245.3 M178.7,240.8V246.0 M180.0,242.6V247.5 M181.3,248.3V249.3 M182.6,247.7V251.8 M183.9,248.8V253.0 M185.2,249.7V255.9 M186.5,251.8V259.7 M187.8,249.6V254.1 M189.1,252.4V256.0 M190.4,254.9V260.5 M191.7,251.8V258.0 M193.0,249.4V263.4 M194.3,254.2V260.2 M195.6,258.6V265.9 M196.9,261.4V277.5 M198.2,265.3V268.6 M199.5,266.9V269.9 M200.8,267.7V274.3 M202.1,267.4V282.8 M203.4,272.6V276.1 M204.7,265.5V278.9 M206.0,278.4V283.3 M207.3,279.1V282.7 M208.6,278.7V284.5 M209.9,275.9V289.5 M211.2,280.9V290.6 M212.5,289.9V293.3 M213.8,288.3V293.9 M215.1,287.6V299.3 M216.4,294.3V299.1 M217.7,294.9V299.6 M219.0,297.6V304.5 M220.3,295.1V301.6 M221.6,299.7V301.1 M222.9,296.3V306.7 M224.2,298.7V303.6 M225.5,296.3V303.3 M226.8,301.5V305.1 M228.1,300.0V310.1 M229.4,305.2V309.3 M230.7,306.4V313.9 M232.0,308.0V310.1 M233.3,305.3V311.1 M234.6,310.8V312.7 M235.9,304.3V313.1 M237.2,311.6V315.7 M238.5,301.8V317.5 M239.8,306.7V316.0 M241.1,308.8V319.3 M242.4,311.7V327.7 M243.7,315.3V324.0 M245.0,317.5V323.1 M246.3,317.5V318.4 M247.6,314.5V319.3 M248.9,316.6V321.0 M250.2,316.8V321.4 M251.5,318.3V327.8 M252.8,320.3V328.7 M254.1,320.4V327.9 M255.4,321.0V322.5 M256.7,319.6V325.4 M258.0,319.6V325.1 M259.3,323.8V324.3 M260.6,322.0V329.1 M261.9,321.3V327.7 M263.2,320.4V326.3 M264.5,324.8V325.8 M265.8,322.7V326.5 M267.1,326.2V328.3 M268.4,323.5V329.6 M269.7,324.9V329.5 M271.0,324.3V332.4 M272.3,324.1V329.0 M273.6,324.8V329.1 M274.9,328.6V332.5 M276.2,322.3V335.7 M277.5,329.1V333.8 M278.8,325.3V330.3 M280.1,324.8V331.1 M281.4,326.3V333.8 M282.7,326.9V334.3 M284.0,328.9V337.1 M285.3,329.0V335.4 M286.6,326.6V333.5 M287.9,331.3V335.7 M289.2,333.1V336.5 M290.5,331.7V335.8 M291.8,333.5V335.3 M293.1,332.9V336.1 M294.4,328.7V338.7 M295.7,329.6V336.1 M297.0,334.6V336.7 M298.3,334.4V338.9 M299.6,335.6V337.1 M300.9,336.6V343.9 M302.2,336.9V340.6 M303.5,337.4V341.9 M304.8,332.9V342.7 M306.1,336.8V342.1 M307.4,334.5V341.4 M308.7,335.8V339.8 M310.0,335.9V341.9 M311.3,332.3V343.2 M312.6,335.5V340.4 M313.9,334.6V342.9 M315.2,339.9V341.2 M316.5,339.3V344.8 M317.8,338.0V341.1 M319.1,338.9V347.8 M320.4,341.1V345.4 M321.7,337.1V344.9 M323.0,339.6V344.7 M324.3,337.5V344.0 M325.6,337.2V346.9 M326.9,341.4V345.8 M328.2,342.4V343.5 M329.5,342.1V344.1 M330.8,343.2V345.8 M332.1,342.0V347.9 M333.4,342.5V344.5 M334.7,340.2V350.2 M336.0,339.5V348.1 M337.3,343.2V347.5 M338.6,344.1V345.8 M339.9,343.4V347.7 M341.2,344.3V347.8 M342.5,345.7V347.6 M343.8,343.8V352.2 M345.1,343.4V346.5 M346.4,345.4V347.8 M347.7,344.7V346.6 M349.0,343.2V350.0 M350.3,343.5V348.2 M351.6,346.5V349.4 M352.9,344.9V348.5 M354.2,343.5V349.7 M355.5,346.8V347.9 M356.8,346.8V348.0 M358.1,345.3V349.3 M359.4,347.0V349.5 M360.7,344.9V351.4 M362.0,346.9V348.2 M363.3,346.8V348.5 M364.6,347.4V348.5 M365.9,346.8V350.8 M367.2,344.8V351.0 M368.5,346.2V349.8 M369.8,346.5V349.5 M371.1,344.6V349.3 M372.4,344.9V350.3 M373.7,345.4V349.5 M375.0,343.5V353.2 M376.3,347.1V349.4 M377.6,343.9V354.1 M378.9,349.4V350.5 M380.2,347.8V352.8 M381.5,346.6V351.0 M382.8,348.5V352.7 M384.1,349.6V352.9 M385.4,348.6V350.9 M386.7,347.0V351.2 M388.0,349.9V355.1 M389.3,349.2V353.8 M390.6,350.6V353.5 M391.9,350.7V352.2 M393.2,348.5V354.1 M394.5,350.9V351.8 M395.8,351.5V357.8 M397.1,351.0V352.2 M398.4,350.4V353.0 M399.7,351.3V353.0 M401.0,350.6V353.0 M402.3,351.9V353.8 M403.6,349.9V354.3 M404.9,350.8V355.0 M406.2,352.4V353.5 M407.5,351.9V354.0 M408.8,351.9V353.7 M410.1,350.5V354.9 M411.4,352.2V353.8 M412.7,351.2V353.5 M414.0,349.1V355.8 M415.3,351.6V354.2 M416.6,351.2V355.8 M417.9,350.6V357.5 M419.2,352.2V355.5 M420.5,353.0V354.4 M421.8,353.2V354.7 M423.1,353.5V355.9 M424.4,351.3V355.5 M425.7,351.6V358.4 M427.0,351.8V355.3 M428.3,353.6V356.1 M429.6,353.6V356.8 M430.9,351.6V354.7 M432.2,353.0V354.8 M433.5,354.2V357.5 M434.8,353.6V354.5 M436.1,349.5V356.5 M437.4,351.9V354.8 M438.7,352.4V355.6 M440.0,353.9V357.6 M441.3,352.4V356.1 M442.6,352.3V355.5 M443.9,354.3V355.2 M445.2,354.8V356.6 M446.5,354.2V356.0 M447.8,354.8V356.9 M449.1,350.2V358.9 M450.4,354.5V357.5 M451.7,354.7V356.2 M453.0,354.9V356.6 M454.3,354.8V355.4 M455.6,353.0V358.8 M456.9,352.0V357.5 M458.2,354.4V358.0 M459.5,355.3V357.4 M460.8,354.2V356.7 M462.1,353.9V358.4 M463.4,354.1V356.1 M464.7,355.3V356.7 M466.0,355.9V357.0 M467.3,353.0V357.5 M468.6,355.3V359.2 M469.9,355.8V357.6 M471.2,356.3V359.1 M472.5,353.9V358.1 M473.8,356.0V356.9 M475.1,356.8V357.6 M476.4,355.5V360.4 M477.7,353.8V357.8 M479.0,355.9V359.4 M480.3,356.3V358.1 M481.6,357.0V359.1 M482.9,356.1V359.1 M484.2,355.7V357.8 M485.5,355.9V359.0 M486.8,357.4V360.5 M488.1,356.4V358.8 M489.4,356.7V358.4 M490.7,355.0V358.4 M492.0,356.5V359.0 M493.3,357.3V358.1 M494.6,355.9V358.5 M495.9,357.1V359.1 M497.2,357.5V359.9 M498.5,357.9V361.3 M499.8,358.1V359.1 M501.1,356.6V358.9 M502.4,357.6V358.8 M503.7,358.3V360.6 M505.0,358.6V361.3 M506.3,358.8V359.8 M507.6,356.8V362.3 M508.9,357.8V360.5 M510.2,357.6V360.1 M511.5,357.2V359.7 M512.8,356.5V360.5 M514.1,358.8V360.4 M515.4,356.4V360.1 M516.7,358.9V360.1 M518.0,359.0V363.2 M519.3,357.2V362.5 M520.6,359.5V360.7 M521.9,359.0V360.9 M523.2,359.9V361.9 M524.5,359.3V365.5 M525.8,359.7V360.4 M527.1,358.1V361.9 M528.4,360.2V360.7 M529.7,360.3V361.7 M531.0,360.5V360.8 M532.3,359.4V362.7 M533.6,360.2V360.9 M534.9,360.2V360.9 M536.2,357.7V363.6 M537.5,359.0V363.2 M538.8,360.8V363.2 M540.1,359.3V365.3 M541.4,360.2V361.4 M542.7,360.5V361.7 M544.0,359.7V363.8 M545.3,356.9V362.4 M546.6,360.9V363.0 M547.9,361.2V363.7 M549.2,360.8V362.6 M550.5,361.4V365.2 M551.8,360.8V364.6 M553.1,359.6V361.8 M554.4,359.8V363.1 M555.7,361.5V362.0 M557.0,359.4V363.5 M558.3,360.8V363.7 M559.6,361.4V362.6 M560.9,360.7V363.4 M562.2,358.4V363.9 M563.5,359.5V364.5 M564.8,360.6V363.9 M566.1,361.8V362.2 M567.4,358.7V362.2 M568.7,360.7V362.8 M570.0,360.2V362.3 M571.3,361.3V362.6 M572.6,359.3V365.6 M573.9,361.2V363.1 M575.2,358.5V365.7 M576.5,361.8V363.7 M577.8,360.9V362.3 M579.1,359.4V363.1 M580.4,360.6V363.0 M581.7,359.8V362.9 M583.0,358.8V362.6 M584.3,360.4V363.2 M585.6,360.2V365.7 M586.9,359.4V363.6 M588.2,361.0V363.8 M589.5,361.7V363.5 M590.8,362.1V363.9 M592.1,361.3V363.6 M593.4,361.9V363.7 M594.7,360.7V364.4 M596.0,359.1V365.3 M597.3,361.7V363.7 M598.6,361.4V366.0 M599.9,362.0V367.6 M601.2,361.3V363.4 M602.5,362.7V364.9 M603.8,362.4V363.5 M605.1,362.9V364.7 M606.4,363.1V364.9 M607.7,360.8V367.1 M609.0,363.0V365.8 M610.3,363.4V363.7 M611.6,363.2V364.6 M612.9,362.8V363.7 M614.2,362.8V364.0 M615.5,362.6V364.3 M616.8,362.7V366.8 M618.1,363.3V364.5 M619.4,362.6V364.6 M620.7,362.7V364.6 M622.0,362.6V365.7 M623.3,362.5V368.0 M624.6,364.1V365.4 M625.9,362.6V365.7 M627.2,360.0V368.5 M628.5,363.1V365.7 M629.8,363.2V367.4 M631.1,363.5V365.7 M632.4,363.9V365.4 M633.7,360.8V365.6 M635.0,364.6V366.9 M636.3,363.3V365.4 M637.6,364.1V365.2 M638.9,362.3V366.9 M640.2,363.6V367.3 M641.5,365.0V367.2 M642.8,365.2V366.2 M644.1,363.5V366.9 M645.4,364.3V368.4 M646.7,364.2V365.9 M648.0,365.6V368.1 M649.3,365.5V367.5 M650.6,363.8V367.2" fill="none" stroke="#ff0000" stroke-width="1.6"/>
<path d="M12.5,102.4 L13.2,100.5 L14.0,106.0 L14.8,104.9 L15.5,107.8 L16.2,107.3 L17.0,104.9 L17.8,105.8 L18.5,104.5 L19.2,104.4 L20.0,105.3 L20.8,106.6 L21.5,108.0 L22.2,104.5 L23.0,107.1 L23.8,106.1 L24.5,105.8 L25.2,108.0 L26.0,105.7 L26.8,108.6 L27.5,105.9 L28.2,105.1 L29.0,107.7 L29.8,104.2 L30.5,104.6 L31.2,106.0 L32.0,106.2 L32.8,105.5 L33.5,102.7 L34.2,103.5 L35.0,106.2 L35.8,106.0 L36.5,103.3 L37.2,105.1 L38.0,104.7 L38.8,105.7 L39.5,102.6 L40.2,105.7 L41.0,102.6 L41.8,105.0 L42.5,103.9 L43.2,100.6 L44.0,101.3 L44.8,101.9 L45.5,102.6 L46.2,98.4 L47.0,99.2 L47.8,99.9 L48.5,98.2 L49.2,94.3 L50.0,93.0 L50.8,93.7 L51.5,90.5 L52.2,91.4 L53.0,91.5 L53.8,89.3 L54.5,84.2 L55.2,89.0 L56.0,87.9 L56.8,87.1 L57.5,85.0 L58.2,79.9 L59.0,83.2 L59.8,80.3 L60.5,79.7 L61.2,76.6 L62.0,74.7 L62.8,72.6 L63.5,72.0 L64.2,67.6 L65.0,64.1 L65.8,60.0 L66.5,58.9 L67.2,55.4 L68.0,52.6 L68.8,50.4 L69.5,47.1 L70.2,43.3 L71.0,40.5 L71.8,37.4 L72.5,35.1 L73.2,32.2 L74.0,28.6 L74.8,25.3 L75.5,26.4 L76.2,26.2 L77.0,24.8 L77.8,29.0 L78.5,31.2 L79.2,33.4 L80.0,40.2 L80.8,45.5 L81.5,47.4 L82.2,50.7 L83.0,55.5 L83.8,56.1 L84.5,59.1 L85.2,62.7 L86.0,66.6 L86.8,69.5 L87.5,71.1 L88.2,73.9 L89.0,76.7 L89.8,78.5 L90.5,80.2 L91.2,81.9 L92.0,85.8 L92.8,86.2 L93.5,92.0 L94.2,90.2 L95.0,89.3 L95.8,91.3 L96.5,92.5 L97.2,93.1 L98.0,93.5 L98.8,93.0 L99.5,84.7 L100.2,76.6 L101.0,75.0 L101.8,79.8 L102.5,87.7 L103.2,89.9 L104.0,88.0 L104.8,84.1 L105.5,83.6 L106.2,84.4 L107.0,89.1 L107.8,95.0 L108.5,96.8 L109.2,99.4 L110.0,100.1 L110.8,95.1 L111.5,99.7 L112.2,97.6 L113.0,95.4 L113.8,99.7 L114.5,98.9 L115.2,98.7 L116.0,97.3 L116.8,97.8 L117.5,99.2 L118.2,97.1 L119.0,99.2 L119.8,99.2 L120.5,98.2 L121.2,98.2 L122.0,96.8 L122.8,94.3 L123.5,93.7 L124.2,95.0 L125.0,95.8 L125.8,94.2 L126.5,93.1 L127.2,94.2 L128.0,91.0 L128.8,92.3 L129.5,93.3 L130.2,93.8 L131.0,93.4 L131.8,93.5 L132.5,92.0 L133.2,93.0 L134.0,94.3 L134.8,90.9 L135.5,92.0 L136.2,93.5 L137.0,96.7 L137.8,95.7 L138.5,97.5 L139.2,97.5 L140.0,95.0 L140.8,95.9 L141.5,94.3 L142.2,98.0 L143.0,96.8 L143.8,95.6 L144.5,94.4 L145.2,92.7 L146.0,91.1 L146.8,90.3 L147.5,91.3 L148.2,88.2 L149.0,88.1 L149.8,90.2 L150.5,92.6 L151.2,91.7 L152.0,91.6 L152.8,93.8 L153.5,93.1 L154.2,90.4 L155.0,92.3 L155.8,91.2 L156.5,94.7 L157.2,94.9 L158.0,96.8 L158.8,100.0 L159.5,96.2 L160.2,97.6 L161.0,97.3 L161.8,93.8 L162.5,97.3 L163.2,97.5 L164.0,99.2 L164.8,97.5 L165.5,96.9 L166.2,99.9 L167.0,99.0 L167.8,97.8 L168.5,98.2 L169.2,99.1 L170.0,101.3 L170.8,102.9 L171.5,99.4 L172.2,104.2 L173.0,103.2 L173.8,104.3 L174.5,105.5 L175.2,101.1 L176.0,100.0 L176.8,93.4 L177.5,94.7 L178.2,95.8 L179.0,102.1 L179.8,104.2 L180.5,104.3 L181.2,104.9 L182.0,104.1 L182.8,107.9 L183.5,107.2 L184.2,105.9 L185.0,103.5 L185.8,101.9 L186.5,100.9 L187.2,99.2 L188.0,89.7 L188.8,87.3 L189.5,95.6 L190.2,99.6 L191.0,104.4 L191.8,104.2 L192.5,105.6 L193.2,108.3 L194.0,108.6 L194.8,109.7 L195.5,110.3 L196.2,110.6 L197.0,116.9 L197.8,115.2 L198.5,115.4 L199.2,118.2 L200.0,115.8 L200.8,115.3 L201.5,116.6 L202.2,117.5 L203.0,118.1 L203.8,117.9 L204.5,117.6 L205.2,115.3 L206.0,117.0 L206.8,118.6 L207.5,120.7 L208.2,124.5 L209.0,125.4 L209.8,128.3 L210.5,127.0 L211.2,125.5 L212.0,127.8 L212.8,126.9 L213.5,130.0 L214.2,125.3 L215.0,127.2 L215.8,127.6 L216.5,129.1 L217.2,129.1 L218.0,127.3 L218.8,127.3 L219.5,130.8 L220.2,133.1 L221.0,133.4 L221.8,131.0 L222.5,132.7 L223.2,131.1 L224.0,130.5 L224.8,134.9 L225.5,134.5 L226.2,133.3 L227.0,133.6 L227.8,136.0 L228.5,135.5 L229.2,135.0 L230.0,136.3 L230.8,136.2 L231.5,135.9 L232.2,135.7 L233.0,138.2 L233.8,136.2 L234.5,134.9 L235.2,138.8 L236.0,137.2 L236.8,133.0 L237.5,126.5 L238.2,123.8 L239.0,125.9 L239.8,133.1 L240.5,135.8 L241.2,135.7 L242.0,137.4 L242.8,136.7 L243.5,139.3 L244.2,137.9 L245.0,141.0 L245.8,140.5 L246.5,139.5 L247.2,140.7 L248.0,141.1 L248.8,140.0 L249.5,141.9 L250.2,139.3 L251.0,141.5 L251.8,141.1 L252.5,139.2 L253.2,142.3 L254.0,138.4 L254.8,141.4 L255.5,141.0 L256.2,142.4 L257.0,139.4 L257.8,140.4 L258.5,141.3 L259.2,142.9 L260.0,143.4 L260.8,143.7 L261.5,143.7 L262.2,143.4 L263.0,142.8 L263.8,144.3 L264.5,145.8 L265.2,146.5 L266.0,144.5 L266.8,146.7 L267.5,143.5 L268.2,146.5 L269.0,144.0 L269.8,145.8 L270.5,144.3 L271.2,144.3 L272.0,144.9 L272.8,147.6 L273.5,144.9 L274.2,146.6 L275.0,146.1 L275.8,146.3 L276.5,146.4 L277.2,146.9 L278.0,144.5 L278.8,146.2 L279.5,146.7 L280.2,145.6 L281.0,146.9 L281.8,145.2 L282.5,147.5 L283.2,145.8 L284.0,146.5 L284.8,147.9 L285.5,148.4 L286.2,146.4 L287.0,146.4 L287.8,148.5 L288.5,143.8 L289.2,149.1 L290.0,149.2 L290.8,146.4 L291.5,149.2 L292.2,148.3 L293.0,148.6 L293.8,145.3 L294.5,147.7 L295.2,148.1 L296.0,148.0 L296.8,148.1 L297.5,148.4 L298.2,145.5 L299.0,148.7 L299.8,148.3 L300.5,149.1 L301.2,148.7 L302.0,149.4 L302.8,149.8 L303.5,151.7 L304.2,148.8 L305.0,151.7 L305.8,149.6 L306.5,148.9 L307.2,148.4 L308.0,151.1 L308.8,148.4 L309.5,151.2 L310.2,150.6 L311.0,149.7 L311.8,149.6 L312.5,150.9 L313.2,150.6 L314.0,151.3 L314.8,150.5 L315.5,150.0 L316.2,151.2 L317.0,149.3 L317.8,151.6 L318.5,150.8 L319.2,149.6 L320.0,149.7 L320.8,150.5 L321.5,149.0 L322.2,152.5 L323.0,152.1 L323.8,150.1 L324.5,151.3 L325.2,153.3 L326.0,152.2 L326.8,150.9 L327.5,149.9 L328.2,150.7 L329.0,153.8 L329.8,153.1 L330.5,151.6 L331.2,153.9 L332.0,153.0 L332.8,152.8 L333.5,153.1 L334.2,153.3 L335.0,155.5 L335.8,153.0 L336.5,153.6 L337.2,155.3 L338.0,155.4 L338.8,153.0 L339.5,155.9 L340.2,154.9 L341.0,152.4 L341.8,155.4 L342.5,152.3 L343.2,154.2 L344.0,152.4 L344.8,151.7 L345.5,154.0 L346.2,153.5 L347.0,153.0 L347.8,153.1 L348.5,152.8 L349.2,152.6 L350.0,151.8 L350.8,153.2 L351.5,152.6 L352.2,152.3 L353.0,152.0 L353.8,152.3 L354.5,151.2 L355.2,152.3 L356.0,151.9 L356.8,154.1 L357.5,152.4 L358.2,153.1 L359.0,153.8 L359.8,154.9 L360.5,154.9 L361.2,154.8 L362.0,156.9 L362.8,155.2 L363.5,155.7 L364.2,158.0 L365.0,154.8 L365.8,156.6 L366.5,156.2 L367.2,154.7 L368.0,155.4 L368.8,156.8 L369.5,154.8 L370.2,156.0 L371.0,157.0 L371.8,156.1 L372.5,156.6 L373.2,155.8 L374.0,155.9 L374.8,155.9 L375.5,156.2 L376.2,157.1 L377.0,156.7 L377.8,158.4 L378.5,157.2 L379.2,157.0 L380.0,158.8 L380.8,156.8 L381.5,156.2 L382.2,157.1 L383.0,156.1 L383.8,157.5 L384.5,158.3 L385.2,157.7 L386.0,156.9 L386.8,157.1 L387.5,157.7 L388.2,158.4 L389.0,157.1 L389.8,157.1 L390.5,158.5 L391.2,157.8 L392.0,157.9 L392.8,158.1 L393.5,157.0 L394.2,157.6 L395.0,158.7 L395.8,157.7 L396.5,157.7 L397.2,158.1 L398.0,158.2 L398.8,160.1 L399.5,157.2 L400.2,158.1 L401.0,159.7 L401.8,158.0 L402.5,158.3 L403.2,156.7 L404.0,158.8 L404.8,158.8 L405.5,158.7 L406.2,157.8 L407.0,158.3 L407.8,157.9 L408.5,158.6 L409.2,157.9 L410.0,158.5 L410.8,156.6 L411.5,157.5 L412.2,155.2 L413.0,157.5 L413.8,158.2 L414.5,157.3 L415.2,159.5 L416.0,156.6 L416.8,157.1 L417.5,156.5 L418.2,156.8 L419.0,156.8 L419.8,155.9 L420.5,156.3 L421.2,158.8 L422.0,156.8 L422.8,157.7 L423.5,155.8 L424.2,156.8 L425.0,157.3 L425.8,156.7 L426.5,156.4 L427.2,156.6 L428.0,156.8 L428.8,157.5 L429.5,157.8 L430.2,155.6 L431.0,155.0 L431.8,156.6 L432.5,156.8 L433.2,157.4 L434.0,157.8 L434.8,156.3 L435.5,158.7 L436.2,157.2 L437.0,155.5 L437.8,157.8 L438.5,157.3 L439.2,157.3 L440.0,155.8 L440.8,156.9 L441.5,157.4 L442.2,157.2 L443.0,157.9 L443.8,158.5 L444.5,158.7 L445.2,158.5 L446.0,157.4 L446.8,159.0 L447.5,157.9 L448.2,158.4 L449.0,157.5 L449.8,156.6 L450.5,155.9 L451.2,158.0 L452.0,157.3 L452.8,157.9 L453.5,158.7 L454.2,156.7 L455.0,156.6 L455.8,158.3 L456.5,158.4 L457.2,157.9 L458.0,157.7 L458.8,156.9 L459.5,158.2 L460.2,157.6 L461.0,158.7 L461.8,159.1 L462.5,157.9 L463.2,158.7 L464.0,158.6 L464.8,159.0 L465.5,159.8 L466.2,159.1 L467.0,159.1 L467.8,159.2 L468.5,158.2 L469.2,158.6 L470.0,158.9 L470.8,159.7 L471.5,159.8 L472.2,160.6 L473.0,157.9 L473.8,158.8 L474.5,157.4 L475.2,158.4 L476.0,157.5 L476.8,159.9 L477.5,159.6 L478.2,158.1 L479.0,159.3 L479.8,159.6 L480.5,160.5 L481.2,159.8 L482.0,159.2 L482.8,159.1 L483.5,159.7 L484.2,159.5 L485.0,158.8 L485.8,158.3 L486.5,160.2 L487.2,158.7 L488.0,159.1 L488.8,160.1 L489.5,159.4 L490.2,160.4 L491.0,158.6 L491.8,160.1 L492.5,158.5 L493.2,158.3 L494.0,158.7 L494.8,159.7 L495.5,159.1 L496.2,158.6 L497.0,160.7 L497.8,159.0 L498.5,159.7 L499.2,160.0 L500.0,159.5 L500.8,160.2 L501.5,160.4 L502.2,159.9 L503.0,160.8 L503.8,159.5 L504.5,159.2 L505.2,160.2 L506.0,159.3 L506.8,160.4 L507.5,160.1 L508.2,159.8 L509.0,160.7 L509.8,160.7 L510.5,157.8 L511.2,160.0 L512.0,160.4 L512.8,160.7 L513.5,159.9 L514.2,159.4 L515.0,160.5 L515.8,161.0 L516.5,158.8 L517.2,159.3 L518.0,160.0 L518.8,158.4 L519.5,160.1 L520.2,161.3 L521.0,159.7 L521.8,160.8 L522.5,159.9 L523.2,161.0 L524.0,161.2 L524.8,161.8 L525.5,160.8 L526.2,161.7 L527.0,161.2 L527.8,160.5 L528.5,162.1 L529.2,160.4 L530.0,161.1 L530.8,163.0 L531.5,161.7 L532.2,160.4 L533.0,161.3 L533.8,160.7 L534.5,161.0 L535.2,160.0 L536.0,161.4 L536.8,160.0 L537.5,161.6 L538.2,161.7 L539.0,162.1 L539.8,163.2 L540.5,160.1 L541.2,160.6 L542.0,160.8 L542.8,161.1 L543.5,162.3 L544.2,161.4 L545.0,161.3 L545.8,160.9 L546.5,161.3 L547.2,161.5 L548.0,161.8 L548.8,160.8 L549.5,161.9 L550.2,162.4 L551.0,162.3 L551.8,161.1 L552.5,162.8 L553.2,162.8 L554.0,162.4 L554.8,161.2 L555.5,161.1 L556.2,162.3 L557.0,161.5 L557.8,161.2 L558.5,163.0 L559.2,163.1 L560.0,162.9 L560.8,163.5 L561.5,163.2 L562.2,161.5 L563.0,163.4 L563.8,162.6 L564.5,162.9 L565.2,163.8 L566.0,162.9 L566.8,163.8 L567.5,162.7 L568.2,162.3 L569.0,162.1 L569.8,162.6 L570.5,161.4 L571.2,162.7 L572.0,162.6 L572.8,162.3 L573.5,161.0 L574.2,161.1 L575.0,163.4 L575.8,162.1 L576.5,163.9 L577.2,162.3 L578.0,163.2 L578.8,161.8 L579.5,162.5 L580.2,162.8 L581.0,163.5 L581.8,164.3 L582.5,163.8 L583.2,161.9 L584.0,163.1 L584.8,163.0 L585.5,162.6 L586.2,163.6 L587.0,164.4 L587.8,162.8 L588.5,164.1 L589.2,164.3 L590.0,162.4 L590.8,164.7 L591.5,164.6 L592.2,163.6 L593.0,164.7 L593.8,163.6 L594.5,164.3 L595.2,163.9 L596.0,162.8 L596.8,163.7 L597.5,163.4 L598.2,163.1 L599.0,162.6 L599.8,163.0 L600.5,162.6 L601.2,164.5 L602.0,162.1 L602.8,163.7 L603.5,163.2 L604.2,162.7 L605.0,164.3 L605.8,163.1 L606.5,164.7 L607.2,163.7 L608.0,164.1 L608.8,163.7 L609.5,164.4 L610.2,164.6 L611.0,163.6 L611.8,163.9 L612.5,165.3 L613.2,163.6 L614.0,165.4 L614.8,163.8 L615.5,163.7 L616.2,162.8 L617.0,163.5 L617.8,162.9 L618.5,163.8 L619.2,164.8 L620.0,164.2 L620.8,163.8 L621.5,163.5 L622.2,163.8 L623.0,163.3 L623.8,163.4 L624.5,165.9 L625.2,164.6 L626.0,163.7 L626.8,165.0 L627.5,165.6 L628.2,164.0 L629.0,164.4 L629.8,163.5 L630.5,163.3 L631.2,165.5 L632.0,167.1 L632.8,163.9 L633.5,163.3 L634.2,165.6 L635.0,165.3 L635.8,164.9 L636.5,165.6 L637.2,164.2 L638.0,164.7 L638.8,165.1 L639.5,164.2 L640.2,164.8 L641.0,164.3 L641.8,164.8 L642.5,164.6 L643.2,162.9 L644.0,164.5 L644.8,163.3 L645.5,163.7 L646.2,163.1 L647.0,165.0 L647.8,164.1 L648.5,164.0 L649.2,165.2 L650.0,164.8 L650.8,164.1" fill="none" stroke="#0505d5" stroke-width="3.0" stroke-linejoin="round"/>
<path d="M13.8,101.4V108.3 M15.1,104.0V106.2 M16.4,104.3V109.8 M17.7,103.2V105.8 M19.0,103.6V108.0 M20.3,105.5V107.6 M21.6,103.0V110.1 M22.9,104.1V109.9 M24.2,104.1V108.5 M25.5,101.6V107.4 M26.8,102.7V111.1 M28.1,100.4V109.1 M29.4,106.3V108.0 M30.7,105.7V106.5 M32.0,102.8V107.4 M33.3,104.4V107.1 M34.6,105.0V107.1 M35.9,104.7V105.7 M37.2,103.7V106.4 M38.5,102.1V109.1 M39.8,101.6V106.2 M41.1,101.8V104.1 M42.4,101.5V106.0 M43.7,97.5V103.0 M45.0,101.1V105.7 M46.3,95.4V101.4 M47.6,94.9V100.3 M48.9,90.5V99.3 M50.2,91.4V94.8 M51.5,89.6V95.8 M52.8,90.1V92.1 M54.1,88.5V91.1 M55.4,86.6V90.4 M56.7,84.8V87.6 M58.0,79.8V83.2 M59.3,77.0V85.7 M60.6,75.2V81.5 M61.9,74.9V77.2 M63.2,67.8V73.0 M64.5,64.1V70.0 M65.8,61.1V61.7 M67.1,56.0V56.7 M68.4,49.5V53.3 M69.7,44.5V49.5 M71.0,39.8V40.9 M72.3,32.3V35.5 M73.6,29.3V30.6 M74.9,24.7V26.5 M76.2,24.3V28.1 M77.5,26.7V29.4 M78.8,32.5V33.2 M80.1,39.1V44.1 M81.4,47.3V50.4 M82.7,52.9V55.8 M84.0,57.2V59.5 M85.3,58.6V64.9 M86.6,66.6V70.5 M87.9,71.4V73.0 M89.2,76.2V79.0 M90.5,80.7V81.4 M91.8,83.7V86.5 M93.1,84.6V87.4 M94.4,87.4V89.8 M95.7,88.9V91.7 M97.0,89.3V92.5 M98.3,89.7V94.0 M99.6,77.6V87.4 M100.9,69.3V71.7 M102.2,84.0V86.6 M103.5,84.3V91.2 M104.8,79.1V85.9 M106.1,80.7V83.5 M107.4,91.8V96.9 M108.7,86.7V96.2 M110.0,97.4V102.3 M111.3,95.0V99.1 M112.6,95.5V100.3 M113.9,94.4V99.4 M115.2,92.9V101.0 M116.5,96.0V100.5 M117.8,95.1V100.8 M119.1,95.8V102.0 M120.4,97.0V99.9 M121.7,93.1V97.8 M123.0,94.1V98.2 M124.3,92.8V105.3 M125.6,93.5V94.5 M126.9,92.6V98.6 M128.2,91.8V97.6 M129.5,91.5V96.2 M130.8,92.8V98.0 M132.1,91.4V97.3 M133.4,93.7V97.2 M134.7,90.9V94.0 M136.0,88.8V96.2 M137.3,87.8V95.2 M138.6,91.5V95.7 M139.9,93.0V98.6 M141.2,93.9V96.8 M142.5,93.1V97.1 M143.8,92.3V99.0 M145.1,90.4V97.0 M146.4,89.2V91.2 M147.7,85.9V95.2 M149.0,89.1V92.9 M150.3,86.8V94.1 M151.6,91.1V93.0 M152.9,90.1V94.7 M154.2,92.7V94.7 M155.5,91.5V99.5 M156.8,94.0V95.6 M158.1,95.7V97.3 M159.4,96.0V99.2 M160.7,90.6V101.2 M162.0,92.6V107.4 M163.3,97.0V98.6 M164.6,98.5V99.4 M165.9,98.9V99.8 M167.2,98.4V102.6 M168.5,98.9V102.4 M169.8,98.4V105.8 M171.1,100.7V102.7 M172.4,100.4V103.7 M173.7,102.6V110.9 M175.0,103.5V103.6 M176.3,93.8V99.6 M177.6,94.8V96.1 M178.9,95.4V101.4 M180.2,100.6V105.0 M181.5,104.0V104.8 M182.8,104.8V106.3 M184.1,101.2V106.5 M185.4,100.3V106.6 M186.7,98.8V100.4 M188.0,90.3V91.8 M189.3,91.1V92.7 M190.6,99.3V101.4 M191.9,98.5V105.2 M193.2,104.7V108.3 M194.5,106.6V111.0 M195.8,109.1V113.9 M197.1,110.9V116.3 M198.4,113.8V116.9 M199.7,115.9V119.4 M201.0,116.8V122.2 M202.3,114.3V118.8 M203.6,114.6V120.5 M204.9,114.2V116.2 M206.2,116.2V120.8 M207.5,119.1V122.4 M208.8,120.5V132.3 M210.1,125.4V131.4 M211.4,125.9V131.4 M212.7,124.5V131.0 M214.0,123.5V131.3 M215.3,127.7V130.7 M216.6,125.9V133.3 M217.9,125.9V133.4 M219.2,125.5V134.3 M220.5,125.9V131.4 M221.8,129.1V132.1 M223.1,129.6V136.4 M224.4,132.5V134.1 M225.7,130.3V134.4 M227.0,134.0V136.5 M228.3,133.4V135.8 M229.6,132.4V139.5 M230.9,133.9V138.1 M232.2,134.2V137.3 M233.5,133.0V141.4 M234.8,134.0V138.0 M236.1,134.3V139.0 M237.4,123.3V128.2 M238.7,122.4V129.7 M240.0,132.1V136.0 M241.3,134.3V138.6 M242.6,137.5V141.3 M243.9,139.2V140.6 M245.2,140.1V144.8 M246.5,138.1V142.1 M247.8,139.3V142.7 M249.1,138.0V143.3 M250.4,139.3V145.3 M251.7,137.1V141.4 M253.0,135.9V143.9 M254.3,138.2V145.0 M255.6,140.8V141.5 M256.9,137.9V146.7 M258.2,140.4V142.4 M259.5,139.7V145.8 M260.8,142.1V151.2 M262.1,139.6V144.7 M263.4,138.2V145.8 M264.7,142.5V146.4 M266.0,141.0V146.4 M267.3,144.3V146.9 M268.6,143.9V148.5 M269.9,144.8V153.2 M271.2,143.9V146.6 M272.5,142.9V148.0 M273.8,144.3V148.4 M275.1,143.5V149.1 M276.4,141.3V148.0 M277.7,145.8V147.1 M279.0,141.2V147.6 M280.3,143.0V147.0 M281.6,144.1V150.8 M282.9,146.6V149.7 M284.2,140.2V149.6 M285.5,146.8V148.6 M286.8,145.2V147.9 M288.1,143.2V150.5 M289.4,143.7V149.0 M290.7,146.5V148.0 M292.0,146.0V150.8 M293.3,144.6V149.5 M294.6,148.0V153.4 M295.9,146.3V148.8 M297.2,148.6V152.2 M298.5,146.3V151.8 M299.8,144.0V149.2 M301.1,145.0V151.4 M302.4,148.9V149.6 M303.7,147.0V151.8 M305.0,149.1V150.6 M306.3,147.6V152.4 M307.6,146.7V152.6 M308.9,144.9V151.1 M310.2,149.7V154.7 M311.5,149.5V151.6 M312.8,147.5V150.6 M314.1,150.0V151.6 M315.4,148.4V151.0 M316.7,148.6V151.7 M318.0,149.7V151.0 M319.3,148.3V153.5 M320.6,148.9V151.9 M321.9,148.6V154.5 M323.2,149.8V151.4 M324.5,150.5V154.2 M325.8,147.2V154.3 M327.1,150.8V152.2 M328.4,151.1V157.8 M329.7,151.3V156.0 M331.0,150.5V154.3 M332.3,152.4V153.7 M333.6,153.5V153.7 M334.9,150.7V154.1 M336.2,152.4V154.7 M337.5,153.6V156.1 M338.8,152.8V154.2 M340.1,153.5V154.9 M341.4,151.7V157.1 M342.7,149.5V155.2 M344.0,153.4V156.7 M345.3,153.0V157.9 M346.6,151.2V154.1 M347.9,152.9V156.8 M349.2,151.4V153.6 M350.5,151.9V153.9 M351.8,151.9V154.2 M353.1,151.6V152.8 M354.4,150.9V155.2 M355.7,150.4V153.7 M357.0,152.3V153.6 M358.3,150.3V153.7 M359.6,153.8V155.3 M360.9,153.7V155.7 M362.2,154.8V157.5 M363.5,154.6V157.6 M364.8,153.7V157.7 M366.1,155.7V155.8 M367.4,155.8V158.2 M368.7,154.9V156.3 M370.0,155.5V159.9 M371.3,154.5V158.5 M372.6,156.1V157.1 M373.9,154.0V157.1 M375.2,153.5V158.1 M376.5,156.5V158.7 M377.8,155.0V157.3 M379.1,154.6V158.1 M380.4,156.2V157.3 M381.7,156.7V159.0 M383.0,155.3V158.1 M384.3,155.6V157.8 M385.6,154.3V158.1 M386.9,155.3V159.4 M388.2,154.7V158.1 M389.5,155.1V161.8 M390.8,157.4V158.4 M392.1,155.5V157.9 M393.4,156.4V158.0 M394.7,157.7V162.8 M396.0,156.1V160.2 M397.3,156.6V158.2 M398.6,157.1V158.6 M399.9,155.5V158.7 M401.2,156.5V159.3 M402.5,154.7V158.7 M403.8,156.7V158.8 M405.1,157.3V158.9 M406.4,157.2V160.5 M407.7,156.2V159.6 M409.0,156.3V159.3 M410.3,153.4V158.0 M411.6,156.9V161.8 M412.9,155.6V157.8 M414.2,156.2V157.8 M415.5,154.3V158.5 M416.8,156.9V160.6 M418.1,155.1V158.7 M419.4,156.2V160.1 M420.7,153.7V157.3 M422.0,155.8V157.3 M423.3,155.9V158.3 M424.6,155.3V156.9 M425.9,155.8V160.0 M427.2,156.6V158.2 M428.5,155.9V157.2 M429.8,156.1V160.2 M431.1,156.4V156.9 M432.4,152.6V157.2 M433.7,155.0V158.8 M435.0,153.7V157.0 M436.3,156.0V157.9 M437.6,156.7V157.1 M438.9,154.6V157.2 M440.2,154.2V158.9 M441.5,156.0V158.8 M442.8,154.9V161.1 M444.1,156.7V162.3 M445.4,156.4V158.9 M446.7,153.5V157.7 M448.0,155.0V161.9 M449.3,155.6V159.6 M450.6,157.4V159.1 M451.9,157.2V158.6 M453.2,157.8V158.9 M454.5,156.8V158.7 M455.8,155.4V159.5 M457.1,157.4V158.7 M458.4,157.0V160.5 M459.7,156.9V159.1 M461.0,157.2V161.0 M462.3,157.4V158.4 M463.6,157.7V160.3 M464.9,157.6V158.6 M466.2,157.9V158.6 M467.5,158.5V162.4 M468.8,153.8V158.9 M470.1,158.4V161.3 M471.4,157.2V159.0 M472.7,158.5V160.7 M474.0,157.9V162.0 M475.3,156.9V160.1 M476.6,155.3V161.6 M477.9,157.1V159.6 M479.2,157.6V160.7 M480.5,158.3V159.6 M481.8,159.0V161.4 M483.1,157.9V160.7 M484.4,157.0V160.4 M485.7,158.6V159.5 M487.0,157.4V161.8 M488.3,157.2V162.8 M489.6,158.6V161.9 M490.9,158.2V160.3 M492.2,158.9V159.8 M493.5,158.5V160.6 M494.8,157.9V160.4 M496.1,158.7V160.7 M497.4,156.0V160.4 M498.7,159.5V162.6 M500.0,158.2V162.0 M501.3,158.6V161.2 M502.6,157.9V162.8 M503.9,157.7V163.1 M505.2,160.0V160.3 M506.5,156.6V160.5 M507.8,160.0V163.3 M509.1,159.7V160.8 M510.4,159.4V161.4 M511.7,159.5V160.8 M513.0,158.1V163.3 M514.3,159.8V160.7 M515.6,158.2V160.9 M516.9,159.6V160.8 M518.2,159.6V161.1 M519.5,160.3V161.5 M520.8,159.0V163.1 M522.1,159.4V161.1 M523.4,159.5V165.2 M524.7,158.9V161.2 M526.0,159.7V161.4 M527.3,159.3V162.2 M528.6,159.7V160.9 M529.9,160.9V161.4 M531.2,160.4V163.2 M532.5,159.6V164.5 M533.8,158.0V163.9 M535.1,158.5V164.7 M536.4,160.8V162.6 M537.7,160.7V162.3 M539.0,159.5V162.0 M540.3,160.1V162.0 M541.6,160.7V163.0 M542.9,161.2V162.0 M544.2,161.4V163.2 M545.5,161.6V163.8 M546.8,157.7V163.0 M548.1,161.8V162.4 M549.4,161.4V162.7 M550.7,161.9V162.1 M552.0,160.4V163.8 M553.3,162.0V165.0 M554.6,161.4V163.4 M555.9,159.3V162.4 M557.2,160.5V163.4 M558.5,161.3V164.5 M559.8,162.3V164.4 M561.1,160.3V163.6 M562.4,161.8V163.9 M563.7,160.3V162.8 M565.0,162.4V164.9 M566.3,160.8V164.2 M567.6,160.9V164.3 M568.9,161.2V164.6 M570.2,162.6V163.9 M571.5,161.1V163.9 M572.8,162.4V164.2 M574.1,159.7V166.9 M575.4,162.6V165.7 M576.7,162.8V163.4 M578.0,160.2V164.3 M579.3,162.1V163.7 M580.6,159.1V163.0 M581.9,162.3V164.5 M583.2,161.1V163.9 M584.5,162.1V164.7 M585.8,161.0V164.1 M587.1,162.8V163.5 M588.4,162.1V165.0 M589.7,160.5V166.3 M591.0,162.1V168.4 M592.3,162.3V163.8 M593.6,161.1V163.7 M594.9,162.8V166.5 M596.2,161.7V165.0 M597.5,162.4V163.7 M598.8,162.9V164.1 M600.1,160.5V164.9 M601.4,162.2V164.7 M602.7,162.5V164.5 M604.0,161.9V165.6 M605.3,161.5V164.5 M606.6,161.6V163.8 M607.9,163.3V166.6 M609.2,161.4V165.1 M610.5,163.8V166.0 M611.8,163.1V165.1 M613.1,161.6V164.2 M614.4,163.5V166.6 M615.7,161.6V164.5 M617.0,163.3V165.5 M618.3,163.9V165.1 M619.6,163.4V164.6 M620.9,161.9V165.9 M622.2,162.0V167.0 M623.5,163.2V164.5 M624.8,164.3V167.2 M626.1,163.1V165.3 M627.4,164.1V166.1 M628.7,164.2V166.4 M630.0,164.1V166.2 M631.3,161.7V167.0 M632.6,162.7V168.0 M633.9,164.4V165.4 M635.2,162.9V167.4 M636.5,163.1V165.9 M637.8,162.7V165.2 M639.1,162.4V168.6 M640.4,164.0V165.3 M641.7,164.3V165.8 M643.0,163.2V165.7 M644.3,164.1V164.5 M645.6,163.9V165.7 M646.9,164.0V167.1 M648.2,163.9V167.4 M649.5,164.2V165.8 M650.8,163.5V165.5" fill="none" stroke="#0505d5" stroke-width="1.6"/>
<line x1="11" y1="397.2" x2="652" y2="397.2" stroke="#000" stroke-width="2.2"/>
<line x1="12.00" y1="397.2" x2="12.00" y2="404" stroke="#000" stroke-width="2.2"/>
<text x="12.70" y="430.2" font-family="'Liberation Sans', sans-serif" font-weight="bold" font-size="16.2" fill="#000" text-anchor="middle" textLength="20.8" lengthAdjust="spacingAndGlyphs" stroke="#000" stroke-width="0.3">10</text>
<line x1="103.29" y1="397.2" x2="103.29" y2="404" stroke="#000" stroke-width="2.2"/>
<text x="103.99" y="430.2" font-family="'Liberation Sans', sans-serif" font-weight="bold" font-size="16.2" fill="#000" text-anchor="middle" textLength="20.8" lengthAdjust="spacingAndGlyphs" stroke="#000" stroke-width="0.3">20</text>
<line x1="194.57" y1="397.2" x2="194.57" y2="404" stroke="#000" stroke-width="2.2"/>
<text x="195.27" y="430.2" font-family="'Liberation Sans', sans-serif" font-weight="bold" font-size="16.2" fill="#000" text-anchor="middle" textLength="20.8" lengthAdjust="spacingAndGlyphs" stroke="#000" stroke-width="0.3">30</text>
<line x1="285.86" y1="397.2" x2="285.86" y2="404" stroke="#000" stroke-width="2.2"/>
<text x="286.56" y="430.2" font-family="'Liberation Sans', sans-serif" font-weight="bold" font-size="16.2" fill="#000" text-anchor="middle" textLength="20.8" lengthAdjust="spacingAndGlyphs" stroke="#000" stroke-width="0.3">40</text>
<line x1="377.14" y1="397.2" x2="377.14" y2="404" stroke="#000" stroke-width="2.2"/>
<text x="377.84" y="430.2" font-family="'Liberation Sans', sans-serif" font-weight="bold" font-size="16.2" fill="#000" text-anchor="middle" textLength="20.8" lengthAdjust="spacingAndGlyphs" stroke="#000" stroke-width="0.3">50</text>
<line x1="468.43" y1="397.2" x2="468.43" y2="404" stroke="#000" stroke-width="2.2"/>
<text x="469.13" y="430.2" font-family="'Liberation Sans', sans-serif" font-weight="bold" font-size="16.2" fill="#000" text-anchor="middle" textLength="20.8" lengthAdjust="spacingAndGlyphs" stroke="#000" stroke-width="0.3">60</text>
<line x1="559.71" y1="397.2" x2="559.71" y2="404" stroke="#000" stroke-width="2.2"/>
<text x="560.41" y="430.2" font-family="'Liberation Sans', sans-serif" font-weight="bold" font-size="16.2" fill="#000" text-anchor="middle" textLength="20.8" lengthAdjust="spacingAndGlyphs" stroke="#000" stroke-width="0.3">70</text>
<line x1="651.00" y1="397.2" x2="651.00" y2="404" stroke="#000" stroke-width="2.2"/>
<text x="651.70" y="430.2" font-family="'Liberation Sans', sans-serif" font-weight="bold" font-size="16.2" fill="#000" text-anchor="middle" textLength="20.8" lengthAdjust="spacingAndGlyphs" stroke="#000" stroke-width="0.3">80</text>
<text x="249.2" y="466.8" font-family="'Liberation Sans', sans-serif" font-weight="bold" font-size="22" fill="#000" textLength="106.5" lengthAdjust="spacingAndGlyphs" stroke="#000" stroke-width="0.05">Diffraction</text>
<text x="365.6" y="466.8" font-family="'Liberation Sans', sans-serif" font-weight="bold" font-size="22" fill="#000" textLength="49.4" lengthAdjust="spacingAndGlyphs" stroke="#000" stroke-width="0.05">(2θ°)</text>
<text x="8.3" y="21.3" font-family="'Liberation Sans', sans-serif" font-weight="bold" font-size="18.5" fill="#000" textLength="20.8" lengthAdjust="spacingAndGlyphs">[a]</text>
<line x1="481" y1="8" x2="513" y2="8" stroke="#000" stroke-width="2"/>
<text x="516" y="14.7" font-family="'Liberation Sans', sans-serif" font-weight="bold" font-size="16.5" fill="#000" textLength="38" lengthAdjust="spacingAndGlyphs" stroke="#000" stroke-width="0.1">PAN</text>
<line x1="481" y1="44.6" x2="513" y2="44.6" stroke="#ff0000" stroke-width="2"/>
<text x="516" y="50.8" font-family="'Liberation Sans', sans-serif" font-weight="bold" font-size="16.5" fill="#000" textLength="138" lengthAdjust="spacingAndGlyphs" stroke="#000" stroke-width="0.1">12.5% PAN, 4 h</text>
<line x1="481" y1="82" x2="513" y2="82" stroke="#0505d5" stroke-width="2"/>
<text x="516" y="88.1" font-family="'Liberation Sans', sans-serif" font-weight="bold" font-size="16.5" fill="#000" textLength="121" lengthAdjust="spacingAndGlyphs" stroke="#000" stroke-width="0.1">15% PAN, 4 h</text>
<path d="M39.9,610.3 L40.3,610.2 L40.7,610.1 L41.1,610.0 L41.5,609.9 L41.9,609.8 L42.3,609.6 L42.7,609.5 L43.1,609.4 L43.5,609.2 L43.9,609.1 L44.3,609.0 L44.7,608.8 L45.1,608.6 L45.5,608.4 L45.9,608.2 L46.3,608.0 L46.7,607.7 L47.1,607.5 L47.5,607.3 L47.9,607.1 L48.3,606.9 L48.7,606.7 L49.1,606.6 L49.5,606.5 L49.9,606.4 L50.3,606.3 L50.7,606.3 L51.1,606.2 L51.5,606.1 L51.9,606.0 L52.3,605.8 L52.7,605.7 L53.1,605.6 L53.5,605.5 L53.9,605.4 L54.3,605.3 L54.7,605.3 L55.1,605.3 L55.5,605.2 L55.9,605.2 L56.3,605.2 L56.7,605.2 L57.1,605.2 L57.5,605.1 L57.9,605.0 L58.3,605.0 L58.7,604.9 L59.1,604.8 L59.5,604.7 L59.9,604.6 L60.3,604.6 L60.7,604.5 L61.1,604.5 L61.5,604.5 L61.9,604.5 L62.3,604.6 L62.7,604.6 L63.1,604.6 L63.5,604.6 L63.9,604.6 L64.3,604.5 L64.7,604.5 L65.1,604.4 L65.5,604.4 L65.9,604.3 L66.3,604.2 L66.7,604.1 L67.1,604.0 L67.5,603.9 L67.9,603.8 L68.3,603.7 L68.7,603.6 L69.1,603.5 L69.5,603.4 L69.9,603.3 L70.3,603.2 L70.7,603.1 L71.1,602.9 L71.5,602.8 L71.9,602.7 L72.3,602.5 L72.7,602.4 L73.1,602.2 L73.5,602.0 L73.9,601.8 L74.3,601.7 L74.7,601.5 L75.1,601.3 L75.5,601.2 L75.9,601.1 L76.3,601.0 L76.7,600.9 L77.1,600.8 L77.5,600.8 L77.9,600.8 L78.3,600.8 L78.7,600.8 L79.1,600.9 L79.5,601.0 L79.9,601.1 L80.3,601.2 L80.7,601.3 L81.1,601.4 L81.5,601.4 L81.9,601.4 L82.3,601.4 L82.7,601.4 L83.1,601.3 L83.5,601.2 L83.9,601.1 L84.3,601.0 L84.7,600.8 L85.1,600.7 L85.5,600.5 L85.9,600.4 L86.3,600.2 L86.7,600.0 L87.1,599.8 L87.5,599.6 L87.9,599.3 L88.3,599.1 L88.7,598.8 L89.1,598.5 L89.5,598.3 L89.9,597.9 L90.3,597.5 L90.7,597.1 L91.1,596.6 L91.5,596.1 L91.9,595.5 L92.3,595.0 L92.7,594.4 L93.1,593.8 L93.5,593.2 L93.9,592.7 L94.3,592.1 L94.7,591.6 L95.1,591.1 L95.5,590.6 L95.9,590.1 L96.3,589.6 L96.7,589.1 L97.1,588.7 L97.5,588.2 L97.9,587.8 L98.3,587.4 L98.7,587.1 L99.1,586.8 L99.5,586.5 L99.9,586.2 L100.3,585.9 L100.7,585.6 L101.1,585.3 L101.5,585.0 L101.9,584.6 L102.3,584.3 L102.7,584.0 L103.1,583.7 L103.5,583.5 L103.9,583.3 L104.3,583.1 L104.7,582.9 L105.1,582.8 L105.5,582.6 L105.9,582.4 L106.3,582.2 L106.7,582.0 L107.1,581.8 L107.5,581.5 L107.9,581.3 L108.3,581.0 L108.7,580.8 L109.1,580.5 L109.5,580.3 L109.9,580.0 L110.3,579.8 L110.7,579.6 L111.1,579.3 L111.5,579.1 L111.9,578.8 L112.3,578.6 L112.7,578.3 L113.1,578.1 L113.5,577.8 L113.9,577.5 L114.3,577.2 L114.7,576.9 L115.1,576.7 L115.5,576.4 L115.9,576.1 L116.3,575.9 L116.7,575.6 L117.1,575.3 L117.5,575.0 L117.9,574.7 L118.3,574.3 L118.7,573.9 L119.1,573.6 L119.5,573.2 L119.9,572.8 L120.3,572.4 L120.7,572.0 L121.1,571.6 L121.5,571.2 L121.9,570.9 L122.3,570.7 L122.7,570.5 L123.1,570.3 L123.5,570.2 L123.9,570.1 L124.3,570.1 L124.7,570.2 L125.1,570.3 L125.5,570.4 L125.9,570.4 L126.3,570.4 L126.7,570.5 L127.1,570.4 L127.5,570.4 L127.9,570.3 L128.3,570.2 L128.7,570.1 L129.1,570.0 L129.5,569.9 L129.9,569.8 L130.3,569.8 L130.7,569.7 L131.1,569.6 L131.5,569.5 L131.9,569.3 L132.3,569.2 L132.7,569.0 L133.1,568.8 L133.5,568.6 L133.9,568.4 L134.3,568.2 L134.7,568.1 L135.1,568.0 L135.5,567.8 L135.9,567.7 L136.3,567.6 L136.7,567.4 L137.1,567.3 L137.5,567.2 L137.9,567.0 L138.3,566.9 L138.7,566.8 L139.1,566.6 L139.5,566.6 L139.9,566.5 L140.3,566.5 L140.7,566.4 L141.1,566.4 L141.5,566.4 L141.9,566.5 L142.3,566.5 L142.7,566.6 L143.1,566.6 L143.5,566.7 L143.9,566.7 L144.3,566.7 L144.7,566.6 L145.1,566.5 L145.5,566.4 L145.9,566.3 L146.3,566.2 L146.7,566.0 L147.1,566.0 L147.5,565.9 L147.9,565.9 L148.3,565.9 L148.7,565.9 L149.1,565.9 L149.5,566.0 L149.9,566.0 L150.3,565.9 L150.7,565.8 L151.1,565.7 L151.5,565.5 L151.9,565.3 L152.3,565.1 L152.7,564.9 L153.1,564.6 L153.5,564.4 L153.9,564.2 L154.3,564.0 L154.7,563.8 L155.1,563.7 L155.5,563.5 L155.9,563.4 L156.3,563.3 L156.7,563.1 L157.1,563.0 L157.5,562.8 L157.9,562.7 L158.3,562.5 L158.7,562.3 L159.1,562.2 L159.5,562.1 L159.9,562.0 L160.3,562.0 L160.7,562.0 L161.1,562.1 L161.5,562.3 L161.9,562.4 L162.3,562.6 L162.7,562.8 L163.1,563.0 L163.5,563.1 L163.9,563.3 L164.3,563.5 L164.7,563.7 L165.1,563.8 L165.5,564.0 L165.9,564.2 L166.3,564.5 L166.7,564.8 L167.1,565.1 L167.5,565.4 L167.9,565.7 L168.3,566.1 L168.7,566.4 L169.1,566.7 L169.5,567.0 L169.9,567.3 L170.3,567.6 L170.7,567.8 L171.1,568.1 L171.5,568.3 L171.9,568.5 L172.3,568.6 L172.7,568.7 L173.1,568.8 L173.5,568.8 L173.9,568.8 L174.3,568.9 L174.7,568.9 L175.1,568.9 L175.5,568.9 L175.9,569.0 L176.3,569.0 L176.7,569.1 L177.1,569.2 L177.5,569.2 L177.9,569.3 L178.3,569.4 L178.7,569.6 L179.1,569.7 L179.5,569.9 L179.9,570.1 L180.3,570.4 L180.7,570.7 L181.1,570.9 L181.5,571.2 L181.9,571.5 L182.3,571.7 L182.7,572.0 L183.1,572.2 L183.5,572.4 L183.9,572.6 L184.3,572.7 L184.7,572.9 L185.1,573.0 L185.5,573.0 L185.9,573.1 L186.3,573.1 L186.7,573.0 L187.1,573.0 L187.5,572.9 L187.9,572.9 L188.3,572.9 L188.7,572.9 L189.1,572.9 L189.5,573.0 L189.9,573.1 L190.3,573.2 L190.7,573.3 L191.1,573.3 L191.5,573.4 L191.9,573.4 L192.3,573.4 L192.7,573.0 L193.1,572.4 L193.5,571.6 L193.9,570.6 L194.3,569.5 L194.7,568.2 L195.1,566.9 L195.5,565.5 L195.9,564.2 L196.3,562.9 L196.7,561.8 L197.1,560.8 L197.5,559.7 L197.9,558.5 L198.3,557.3 L198.7,556.1 L199.1,554.9 L199.5,553.7 L199.9,552.6 L200.3,551.7 L200.7,550.9 L201.1,550.2 L201.5,549.8 L201.9,549.6 L202.3,549.7 L202.7,550.0 L203.1,550.5 L203.5,551.1 L203.9,551.9 L204.3,552.7 L204.7,553.7 L205.1,554.6 L205.5,555.6 L205.9,556.6 L206.3,557.5 L206.7,558.3 L207.1,559.0 L207.5,559.6 L207.9,559.9 L208.3,560.0 L208.7,560.0 L209.1,559.9 L209.5,559.8 L209.9,559.7 L210.3,559.6 L210.7,559.5 L211.1,559.4 L211.5,559.4 L211.9,559.3 L212.3,559.4 L212.7,559.7 L213.1,560.3 L213.5,561.0 L213.9,561.8 L214.3,562.8 L214.7,563.7 L215.1,564.7 L215.5,565.5 L215.9,566.3 L216.3,567.0 L216.7,567.8 L217.1,568.6 L217.5,569.4 L217.9,570.2 L218.3,571.1 L218.7,571.9 L219.1,572.7 L219.5,573.6 L219.9,574.4 L220.3,575.2 L220.7,575.9 L221.1,576.6 L221.5,577.2 L221.9,577.7 L222.3,578.1 L222.7,578.5 L223.1,578.9 L223.5,579.3 L223.9,579.6 L224.3,579.9 L224.7,580.2 L225.1,580.5 L225.5,580.8 L225.9,581.1 L226.3,581.4 L226.7,581.7 L227.1,582.0 L227.5,582.3 L227.9,582.6 L228.3,582.9 L228.7,583.2 L229.1,583.5 L229.5,583.7 L229.9,584.0 L230.3,584.2 L230.7,584.4 L231.1,584.5 L231.5,584.7 L231.9,584.9 L232.3,585.0 L232.7,585.2 L233.1,585.4 L233.5,585.6 L233.9,585.8 L234.3,586.1 L234.7,586.3 L235.1,586.5 L235.5,586.7 L235.9,586.8 L236.3,587.0 L236.7,587.1 L237.1,587.2 L237.5,587.3 L237.9,587.4 L238.3,587.4 L238.7,587.5 L239.1,587.6 L239.5,587.7 L239.9,587.7 L240.3,587.9 L240.7,588.0 L241.1,588.2 L241.5,588.3 L241.9,588.5 L242.3,588.7 L242.7,588.9 L243.1,589.0 L243.5,589.2 L243.9,589.3 L244.3,589.5 L244.7,589.6 L245.1,589.8 L245.5,589.9 L245.9,590.1 L246.3,590.2 L246.7,590.4 L247.1,590.5 L247.5,590.6 L247.9,590.7 L248.3,590.8 L248.7,590.9 L249.1,590.9 L249.5,591.0 L249.9,591.0 L250.3,591.1 L250.7,591.1 L251.1,591.1 L251.5,591.1 L251.9,591.2 L252.3,591.2 L252.7,591.2 L253.1,591.3 L253.5,591.4 L253.9,591.5 L254.3,591.6 L254.7,591.7 L255.1,591.8 L255.5,591.9 L255.9,592.1 L256.3,592.2 L256.7,592.4 L257.1,592.6 L257.5,592.7 L257.9,592.9 L258.3,593.0 L258.7,593.1 L259.1,593.2 L259.5,593.3 L259.9,593.4 L260.3,593.5 L260.7,593.5 L261.1,593.5 L261.5,593.6 L261.9,593.6 L262.3,593.7 L262.7,593.8 L263.1,593.9 L263.5,594.0 L263.9,594.1 L264.3,594.2 L264.7,594.3 L265.1,594.4 L265.5,594.5 L265.9,594.6 L266.3,594.6 L266.7,594.6 L267.1,594.7 L267.5,594.7 L267.9,594.7 L268.3,594.8 L268.7,594.8 L269.1,594.9 L269.5,594.9 L269.9,595.0 L270.3,595.0 L270.7,595.0 L271.1,595.1 L271.5,595.1 L271.9,595.2 L272.3,595.3 L272.7,595.4 L273.1,595.5 L273.5,595.7 L273.9,595.8 L274.3,595.9 L274.7,595.9 L275.1,596.0 L275.5,596.0 L275.9,596.1 L276.3,596.1 L276.7,596.1 L277.1,596.2 L277.5,596.2 L277.9,596.3 L278.3,596.4 L278.7,596.6 L279.1,596.7 L279.5,596.8 L279.9,596.9 L280.3,596.9 L280.7,597.0 L281.1,597.0 L281.5,597.1 L281.9,597.1 L282.3,597.2 L282.7,597.2 L283.1,597.3 L283.5,597.4 L283.9,597.5 L284.3,597.6 L284.7,597.6 L285.1,597.7 L285.5,597.7 L285.9,597.7 L286.3,597.8 L286.7,597.8 L287.1,597.8 L287.5,597.8 L287.9,597.8 L288.3,597.9 L288.7,598.0 L289.1,598.2 L289.5,598.3 L289.9,598.5 L290.3,598.8 L290.7,599.0 L291.1,599.2 L291.5,599.5 L291.9,599.7 L292.3,599.9 L292.7,600.1 L293.1,600.3 L293.5,600.4 L293.9,600.4 L294.3,600.5 L294.7,600.4 L295.1,600.4 L295.5,600.4 L295.9,600.3 L296.3,600.4 L296.7,600.4 L297.1,600.5 L297.5,600.5 L297.9,600.6 L298.3,600.7 L298.7,600.7 L299.1,600.8 L299.5,600.8 L299.9,600.8 L300.3,600.8 L300.7,600.7 L301.1,600.7 L301.5,600.7 L301.9,600.6 L302.3,600.3 L302.7,599.2 L303.1,597.4 L303.5,595.3 L303.9,593.2 L304.3,591.2 L304.7,589.7 L305.1,588.9 L305.5,589.1 L305.9,590.3 L306.3,592.2 L306.7,594.5 L307.1,596.9 L307.5,599.0 L307.9,600.4 L308.3,600.9 L308.7,600.9 L309.1,600.9 L309.5,600.9 L309.9,600.8 L310.3,600.8 L310.7,600.8 L311.1,600.8 L311.5,600.8 L311.9,600.8 L312.3,600.8 L312.7,600.8 L313.1,600.8 L313.5,600.8 L313.9,600.8 L314.3,600.8 L314.7,600.8 L315.1,600.8 L315.5,600.9 L315.9,601.1 L316.3,601.3 L316.7,601.5 L317.1,601.7 L317.5,601.9 L317.9,602.1 L318.3,602.3 L318.7,602.4 L319.1,602.6 L319.5,602.7 L319.9,602.8 L320.3,603.0 L320.7,603.1 L321.1,603.2 L321.5,603.4 L321.9,603.5 L322.3,603.5 L322.7,603.6 L323.1,603.7 L323.5,603.8 L323.9,603.9 L324.3,604.1 L324.7,604.2 L325.1,604.3 L325.5,604.4 L325.9,604.5 L326.3,604.6 L326.7,604.7 L327.1,604.8 L327.5,604.8 L327.9,604.8 L328.3,604.8 L328.7,604.8 L329.1,604.7 L329.5,604.7 L329.9,604.6 L330.3,604.6 L330.7,604.6 L331.1,604.6 L331.5,604.6 L331.9,604.6 L332.3,604.6 L332.7,604.6 L333.1,604.7 L333.5,604.7 L333.9,604.8 L334.3,604.9 L334.7,604.9 L335.1,605.0 L335.5,605.0 L335.9,605.0 L336.3,605.0 L336.7,605.0 L337.1,605.0 L337.5,605.0 L337.9,605.0 L338.3,605.0 L338.7,605.0 L339.1,605.1 L339.5,605.1 L339.9,605.1 L340.3,605.2 L340.7,605.2 L341.1,605.2 L341.5,605.3 L341.9,605.2 L342.3,605.2 L342.7,605.2 L343.1,605.1 L343.5,605.1 L343.9,605.1 L344.3,605.2 L344.7,605.3 L345.1,605.5 L345.5,605.7 L345.9,606.0 L346.3,606.3 L346.7,606.5 L347.1,606.8 L347.5,607.1 L347.9,607.3 L348.3,607.6 L348.7,607.9 L349.1,608.2 L349.5,608.5 L349.9,608.7 L350.3,609.0 L350.7,609.3 L351.1,609.5 L351.5,609.7 L351.9,610.0 L352.3,610.1 L352.7,610.3 L353.1,610.5 L353.5,610.6 L353.9,610.7 L354.3,610.8 L354.7,610.9 L355.1,611.0 L355.5,611.1 L355.9,611.3 L356.3,611.4 L356.7,611.5 L357.1,611.7 L357.5,611.9 L357.9,612.0 L358.3,612.1 L358.7,612.3 L359.1,612.3 L359.5,612.4 L359.9,612.4 L360.3,612.4 L360.7,612.5 L361.1,612.5 L361.5,612.5 L361.9,612.6 L362.3,612.6 L362.7,612.7 L363.1,612.8 L363.5,612.9 L363.9,613.0 L364.3,613.1 L364.7,613.2 L365.1,613.2 L365.5,613.3 L365.9,613.3 L366.3,613.3 L366.7,613.3 L367.1,613.3 L367.5,613.3 L367.9,613.3 L368.3,613.3 L368.7,613.3 L369.1,613.3 L369.5,613.3 L369.9,613.4 L370.3,613.4 L370.7,613.4 L371.1,613.5 L371.5,613.5 L371.9,613.5 L372.3,613.5 L372.7,613.4 L373.1,613.2 L373.5,612.9 L373.9,612.6 L374.3,612.2 L374.7,611.8 L375.1,611.4 L375.5,610.9 L375.9,610.3 L376.3,609.8 L376.7,609.2 L377.1,608.6 L377.5,608.0 L377.9,607.4 L378.3,606.6 L378.7,605.6 L379.1,604.5 L379.5,603.2 L379.9,601.8 L380.3,600.3 L380.7,598.6 L381.1,596.8 L381.5,595.0 L381.9,593.0 L382.3,591.0 L382.7,589.0 L383.1,586.9 L383.5,584.9 L383.9,582.9 L384.3,580.9 L384.7,578.9 L385.1,576.8 L385.5,574.7 L385.9,572.5 L386.3,570.3 L386.7,568.0 L387.1,565.7 L387.5,563.4 L387.9,561.1 L388.3,558.8 L388.7,556.6 L389.1,554.4 L389.5,551.9 L389.9,549.3 L390.3,546.4 L390.7,543.5 L391.1,540.6 L391.5,538.0 L391.9,535.5 L392.3,533.4 L392.7,531.8 L393.1,530.7 L393.5,530.2 L393.9,530.4 L394.3,531.0 L394.7,531.9 L395.1,533.1 L395.5,534.5 L395.9,535.9 L396.3,537.3 L396.7,538.6 L397.1,540.1 L397.5,541.7 L397.9,543.3 L398.3,544.8 L398.7,546.0 L399.1,546.9 L399.5,547.5 L399.9,547.9 L400.3,548.3 L400.7,548.8 L401.1,549.4 L401.5,550.1 L401.9,551.1 L402.3,552.2 L402.7,553.6 L403.1,555.1 L403.5,556.7 L403.9,558.4 L404.3,560.2 L404.7,562.0 L405.1,563.8 L405.5,565.6 L405.9,567.4 L406.3,569.1 L406.7,570.7 L407.1,572.5 L407.5,574.2 L407.9,576.0 L408.3,577.9 L408.7,579.7 L409.1,581.5 L409.5,583.2 L409.9,584.9 L410.3,586.4 L410.7,587.9 L411.1,589.2 L411.5,590.4 L411.9,591.5 L412.3,592.6 L412.7,593.6 L413.1,594.5 L413.5,595.1 L413.9,595.4 L414.3,595.3 L414.7,595.2 L415.1,595.0 L415.5,594.7 L415.9,594.5 L416.3,594.2 L416.7,593.8 L417.1,593.5 L417.5,593.1 L417.9,592.7 L418.3,592.2 L418.7,591.7 L419.1,591.2 L419.5,590.3 L419.9,589.1 L420.3,587.6 L420.7,585.9 L421.1,584.1 L421.5,582.3 L421.9,580.7 L422.3,579.2 L422.7,578.0 L423.1,576.9 L423.5,575.8 L423.9,574.7 L424.3,573.6 L424.7,572.6 L425.1,571.9 L425.5,571.4 L425.9,571.1 L426.3,571.3 L426.7,572.2 L427.1,573.5 L427.5,575.0 L427.9,576.5 L428.3,577.8 L428.7,578.6 L429.1,578.8 L429.5,578.6 L429.9,578.0 L430.3,577.1 L430.7,576.0 L431.1,574.7 L431.5,573.3 L431.9,571.9 L432.3,570.5 L432.7,569.0 L433.1,567.7 L433.5,566.5 L433.9,565.5 L434.3,564.7 L434.7,564.2 L435.1,563.9 L435.5,564.0 L435.9,564.2 L436.3,564.7 L436.7,565.3 L437.1,566.0 L437.5,566.8 L437.9,567.6 L438.3,568.4 L438.7,569.2 L439.1,570.0 L439.5,571.0 L439.9,572.1 L440.3,573.4 L440.7,574.8 L441.1,576.2 L441.5,577.5 L441.9,578.6 L442.3,579.5 L442.7,580.1 L443.1,580.4 L443.5,580.7 L443.9,580.9 L444.3,581.1 L444.7,581.3 L445.1,581.4 L445.5,581.5 L445.9,581.6 L446.3,581.6 L446.7,581.6 L447.1,581.6 L447.5,581.6 L447.9,581.6 L448.3,581.6 L448.7,581.7 L449.1,581.7 L449.5,581.3 L449.9,580.6 L450.3,579.6 L450.7,578.4 L451.1,577.0 L451.5,575.6 L451.9,574.3 L452.3,573.1 L452.7,572.0 L453.1,571.2 L453.5,570.2 L453.9,569.3 L454.3,568.3 L454.7,567.4 L455.1,566.5 L455.5,565.6 L455.9,564.8 L456.3,564.1 L456.7,563.6 L457.1,563.1 L457.5,562.8 L457.9,562.8 L458.3,562.9 L458.7,563.1 L459.1,563.5 L459.5,564.0 L459.9,564.6 L460.3,565.3 L460.7,566.1 L461.1,566.9 L461.5,567.7 L461.9,568.7 L462.3,569.7 L462.7,570.9 L463.1,572.2 L463.5,573.5 L463.9,574.8 L464.3,575.9 L464.7,577.0 L465.1,577.9 L465.5,578.6 L465.9,579.3 L466.3,579.8 L466.7,580.3 L467.1,580.7 L467.5,581.1 L467.9,581.5 L468.3,581.9 L468.7,582.4 L469.1,582.9 L469.5,583.4 L469.9,584.1 L470.3,584.8 L470.7,585.9 L471.1,587.2 L471.5,588.7 L471.9,590.3 L472.3,591.8 L472.7,593.3 L473.1,594.5 L473.5,595.3 L473.9,595.7 L474.3,595.6 L474.7,595.0 L475.1,594.1 L475.5,592.8 L475.9,591.4 L476.3,589.8 L476.7,588.3 L477.1,586.8 L477.5,585.4 L477.9,584.2 L478.3,583.3 L478.7,582.7 L479.1,582.6 L479.5,583.1 L479.9,584.0 L480.3,585.2 L480.7,586.6 L481.1,588.2 L481.5,589.8 L481.9,591.3 L482.3,592.6 L482.7,593.6 L483.1,594.3 L483.5,594.9 L483.9,595.5 L484.3,596.0 L484.7,596.5 L485.1,597.0 L485.5,597.4 L485.9,597.9 L486.3,598.4 L486.7,598.8 L487.1,599.3 L487.5,599.8 L487.9,600.3 L488.3,600.9 L488.7,601.4 L489.1,602.0 L489.5,602.7 L489.9,603.4 L490.3,604.1 L490.7,604.9 L491.1,605.7 L491.5,606.5 L491.9,607.2 L492.3,607.9 L492.7,608.6 L493.1,609.2 L493.5,609.7 L493.9,610.2 L494.3,610.6 L494.7,611.0 L495.1,611.5 L495.5,611.9 L495.9,612.4 L496.3,612.8 L496.7,613.2 L497.1,613.5 L497.5,613.8 L497.9,614.0 L498.3,614.1 L498.7,614.3 L499.1,614.4 L499.5,614.5 L499.9,614.6 L500.3,614.7 L500.7,614.7 L501.1,614.7 L501.5,614.7 L501.9,614.7 L502.3,614.7 L502.7,614.7 L503.1,614.6 L503.5,614.6 L503.9,614.5 L504.3,614.5 L504.7,614.4 L505.1,614.3 L505.5,614.3 L505.9,614.3 L506.3,614.3 L506.7,614.3 L507.1,614.4 L507.5,614.4 L507.9,614.5 L508.3,614.6 L508.7,614.6 L509.1,614.7 L509.5,614.7 L509.9,614.6 L510.3,614.5 L510.7,614.3 L511.1,614.1 L511.5,613.9 L511.9,613.6 L512.3,613.4 L512.7,613.2 L513.1,613.0 L513.5,612.9 L513.9,612.8 L514.3,612.7 L514.7,612.6 L515.1,612.5 L515.5,612.4 L515.9,612.3 L516.3,612.2 L516.7,612.1 L517.1,612.1 L517.5,612.0 L517.9,612.0 L518.3,612.0 L518.7,611.9 L519.1,611.8 L519.5,611.8 L519.9,611.7 L520.3,611.6 L520.7,611.6 L521.1,611.5 L521.5,611.4 L521.9,611.3 L522.3,611.2 L522.7,611.1 L523.1,611.0 L523.5,610.9 L523.9,610.8 L524.3,610.7 L524.7,610.6 L525.1,610.5 L525.5,610.4 L525.9,610.3 L526.3,610.1 L526.7,610.0 L527.1,609.8 L527.5,609.7 L527.9,609.5 L528.3,609.4 L528.7,609.2 L529.1,609.1 L529.5,609.0 L529.9,608.9 L530.3,608.8 L530.7,608.7 L531.1,608.6 L531.5,608.7 L531.9,608.8 L532.3,609.0 L532.7,609.2 L533.1,609.5 L533.5,609.9 L533.9,610.2 L534.3,610.5 L534.7,610.9 L535.1,611.2 L535.5,611.5 L535.9,611.7 L536.3,611.8 L536.7,611.9 L537.1,612.0 L537.5,612.0 L537.9,612.0 L538.3,612.0 L538.7,611.9 L539.1,611.9 L539.5,611.9 L539.9,611.9 L540.3,612.0 L540.7,612.0 L541.1,611.9 L541.5,611.9 L541.9,611.4 L542.3,610.4 L542.7,608.9 L543.1,607.3 L543.5,605.8 L543.9,604.7 L544.3,604.1 L544.7,604.1 L545.1,604.6 L545.5,605.3 L545.9,606.2 L546.3,607.1 L546.7,608.0 L547.1,608.8 L547.5,609.2 L547.9,609.4 L548.3,609.4 L548.7,609.3 L549.1,609.3 L549.5,609.2 L549.9,609.1 L550.3,608.9 L550.7,608.8 L551.1,608.7 L551.5,608.5 L551.9,608.4 L552.3,608.3 L552.7,608.1 L553.1,608.0 L553.5,607.9 L553.9,607.8 L554.3,607.7 L554.7,607.6 L555.1,607.6 L555.5,607.5 L555.9,607.5 L556.3,607.5 L556.7,607.4 L557.1,607.4 L557.5,607.4 L557.9,607.4 L558.3,607.4 L558.7,607.4 L559.1,607.4 L559.5,607.5 L559.9,607.5 L560.3,607.5 L560.7,607.6 L561.1,607.6 L561.5,607.6 L561.9,607.7 L562.3,607.7 L562.7,607.7 L563.1,607.7 L563.5,607.7 L563.9,607.7 L564.3,607.6 L564.7,607.6 L565.1,607.6 L565.5,607.7 L565.9,607.8 L566.3,608.1 L566.7,608.4 L567.1,608.7 L567.5,609.1 L567.9,609.5 L568.3,609.9 L568.7,610.3" fill="none" stroke="#00c800" stroke-width="2.1" stroke-linejoin="round"/>
<path d="M39.9,682.5 L40.3,682.4 L40.7,682.3 L41.1,682.2 L41.5,682.1 L41.9,682.0 L42.3,681.9 L42.7,681.8 L43.1,681.8 L43.5,681.7 L43.9,681.6 L44.3,681.5 L44.7,681.4 L45.1,681.3 L45.5,681.3 L45.9,681.2 L46.3,681.1 L46.7,681.1 L47.1,681.0 L47.5,680.9 L47.9,680.9 L48.3,680.8 L48.7,680.7 L49.1,680.6 L49.5,680.6 L49.9,680.5 L50.3,680.4 L50.7,680.3 L51.1,680.2 L51.5,680.1 L51.9,680.0 L52.3,680.0 L52.7,680.0 L53.1,679.9 L53.5,680.0 L53.9,680.0 L54.3,680.0 L54.7,680.0 L55.1,679.9 L55.5,679.9 L55.9,679.9 L56.3,679.8 L56.7,679.7 L57.1,679.6 L57.5,679.6 L57.9,679.5 L58.3,679.4 L58.7,679.4 L59.1,679.3 L59.5,679.3 L59.9,679.2 L60.3,679.2 L60.7,679.1 L61.1,679.0 L61.5,679.0 L61.9,678.9 L62.3,678.8 L62.7,678.7 L63.1,678.6 L63.5,678.4 L63.9,678.3 L64.3,678.3 L64.7,678.2 L65.1,678.2 L65.5,678.2 L65.9,678.1 L66.3,678.2 L66.7,678.2 L67.1,678.1 L67.5,678.1 L67.9,678.1 L68.3,678.0 L68.7,678.0 L69.1,677.9 L69.5,677.8 L69.9,677.7 L70.3,677.6 L70.7,677.5 L71.1,677.5 L71.5,677.4 L71.9,677.4 L72.3,677.4 L72.7,677.3 L73.1,677.3 L73.5,677.3 L73.9,677.2 L74.3,677.2 L74.7,677.2 L75.1,677.1 L75.5,677.1 L75.9,677.0 L76.3,677.0 L76.7,676.9 L77.1,676.9 L77.5,676.8 L77.9,676.8 L78.3,676.8 L78.7,676.8 L79.1,676.8 L79.5,676.8 L79.9,676.8 L80.3,676.9 L80.7,676.9 L81.1,676.9 L81.5,676.9 L81.9,676.9 L82.3,676.9 L82.7,676.8 L83.1,676.7 L83.5,676.6 L83.9,676.5 L84.3,676.4 L84.7,676.3 L85.1,676.1 L85.5,676.0 L85.9,675.8 L86.3,675.6 L86.7,675.5 L87.1,675.3 L87.5,675.1 L87.9,674.8 L88.3,674.5 L88.7,674.2 L89.1,673.8 L89.5,673.4 L89.9,672.9 L90.3,672.4 L90.7,672.0 L91.1,671.5 L91.5,671.0 L91.9,670.6 L92.3,670.1 L92.7,669.7 L93.1,669.2 L93.5,668.8 L93.9,668.4 L94.3,668.0 L94.7,667.6 L95.1,667.3 L95.5,666.9 L95.9,666.5 L96.3,666.1 L96.7,665.8 L97.1,665.4 L97.5,665.1 L97.9,664.7 L98.3,664.4 L98.7,664.1 L99.1,663.8 L99.5,663.5 L99.9,663.2 L100.3,662.9 L100.7,662.6 L101.1,662.3 L101.5,662.0 L101.9,661.7 L102.3,661.4 L102.7,661.1 L103.1,660.9 L103.5,660.6 L103.9,660.4 L104.3,660.3 L104.7,660.1 L105.1,660.0 L105.5,659.9 L105.9,659.8 L106.3,659.6 L106.7,659.5 L107.1,659.4 L107.5,659.2 L107.9,659.0 L108.3,658.8 L108.7,658.6 L109.1,658.5 L109.5,658.3 L109.9,658.1 L110.3,658.0 L110.7,657.9 L111.1,657.7 L111.5,657.6 L111.9,657.4 L112.3,657.2 L112.7,657.1 L113.1,656.9 L113.5,656.8 L113.9,656.6 L114.3,656.5 L114.7,656.3 L115.1,656.2 L115.5,656.0 L115.9,655.8 L116.3,655.6 L116.7,655.4 L117.1,655.1 L117.5,654.8 L117.9,654.5 L118.3,654.2 L118.7,653.9 L119.1,653.7 L119.5,653.4 L119.9,653.2 L120.3,653.0 L120.7,652.8 L121.1,652.6 L121.5,652.4 L121.9,652.3 L122.3,652.2 L122.7,652.1 L123.1,652.0 L123.5,652.0 L123.9,652.1 L124.3,652.1 L124.7,652.1 L125.1,652.2 L125.5,652.2 L125.9,652.3 L126.3,652.2 L126.7,652.2 L127.1,652.1 L127.5,652.0 L127.9,651.9 L128.3,651.8 L128.7,651.7 L129.1,651.7 L129.5,651.6 L129.9,651.6 L130.3,651.5 L130.7,651.5 L131.1,651.5 L131.5,651.5 L131.9,651.4 L132.3,651.4 L132.7,651.3 L133.1,651.2 L133.5,651.0 L133.9,650.9 L134.3,650.7 L134.7,650.6 L135.1,650.4 L135.5,650.3 L135.9,650.2 L136.3,650.1 L136.7,650.1 L137.1,650.1 L137.5,650.0 L137.9,650.0 L138.3,650.0 L138.7,650.0 L139.1,650.0 L139.5,650.0 L139.9,650.0 L140.3,650.0 L140.7,649.9 L141.1,649.9 L141.5,649.9 L141.9,649.8 L142.3,649.7 L142.7,649.7 L143.1,649.6 L143.5,649.5 L143.9,649.4 L144.3,649.3 L144.7,649.3 L145.1,649.3 L145.5,649.3 L145.9,649.3 L146.3,649.3 L146.7,649.3 L147.1,649.3 L147.5,649.3 L147.9,649.4 L148.3,649.4 L148.7,649.4 L149.1,649.4 L149.5,649.4 L149.9,649.5 L150.3,649.5 L150.7,649.5 L151.1,649.5 L151.5,649.4 L151.9,649.4 L152.3,649.3 L152.7,649.2 L153.1,649.1 L153.5,649.0 L153.9,648.9 L154.3,648.8 L154.7,648.7 L155.1,648.6 L155.5,648.5 L155.9,648.3 L156.3,648.2 L156.7,648.1 L157.1,647.9 L157.5,647.8 L157.9,647.6 L158.3,647.5 L158.7,647.4 L159.1,647.3 L159.5,647.2 L159.9,647.2 L160.3,647.2 L160.7,647.2 L161.1,647.2 L161.5,647.3 L161.9,647.5 L162.3,647.6 L162.7,647.8 L163.1,648.0 L163.5,648.2 L163.9,648.4 L164.3,648.7 L164.7,648.9 L165.1,649.2 L165.5,649.4 L165.9,649.6 L166.3,649.9 L166.7,650.1 L167.1,650.3 L167.5,650.5 L167.9,650.7 L168.3,650.9 L168.7,651.1 L169.1,651.2 L169.5,651.3 L169.9,651.4 L170.3,651.5 L170.7,651.6 L171.1,651.8 L171.5,651.9 L171.9,652.0 L172.3,652.2 L172.7,652.3 L173.1,652.4 L173.5,652.6 L173.9,652.7 L174.3,652.8 L174.7,652.9 L175.1,653.0 L175.5,653.1 L175.9,653.2 L176.3,653.3 L176.7,653.3 L177.1,653.3 L177.5,653.4 L177.9,653.4 L178.3,653.4 L178.7,653.5 L179.1,653.5 L179.5,653.6 L179.9,653.6 L180.3,653.7 L180.7,653.7 L181.1,653.7 L181.5,653.7 L181.9,653.7 L182.3,653.7 L182.7,653.7 L183.1,653.7 L183.5,653.7 L183.9,653.7 L184.3,653.7 L184.7,653.8 L185.1,653.8 L185.5,653.9 L185.9,654.0 L186.3,654.0 L186.7,654.1 L187.1,654.2 L187.5,654.2 L187.9,654.3 L188.3,654.3 L188.7,654.3 L189.1,654.2 L189.5,654.2 L189.9,654.1 L190.3,654.0 L190.7,653.8 L191.1,653.5 L191.5,653.2 L191.9,652.9 L192.3,652.5 L192.7,652.1 L193.1,651.6 L193.5,651.1 L193.9,650.6 L194.3,650.0 L194.7,649.4 L195.1,648.8 L195.5,648.1 L195.9,647.4 L196.3,646.5 L196.7,645.3 L197.1,643.9 L197.5,642.4 L197.9,640.7 L198.3,638.9 L198.7,637.2 L199.1,635.4 L199.5,633.8 L199.9,632.2 L200.3,630.9 L200.7,629.7 L201.1,628.8 L201.5,628.2 L201.9,628.0 L202.3,628.0 L202.7,628.4 L203.1,629.1 L203.5,630.0 L203.9,631.0 L204.3,632.2 L204.7,633.6 L205.1,635.0 L205.5,636.4 L205.9,637.8 L206.3,639.1 L206.7,640.3 L207.1,641.3 L207.5,642.1 L207.9,642.6 L208.3,642.7 L208.7,642.7 L209.1,642.6 L209.5,642.6 L209.9,642.5 L210.3,642.5 L210.7,642.4 L211.1,642.4 L211.5,642.4 L211.9,642.4 L212.3,642.5 L212.7,643.0 L213.1,643.7 L213.5,644.7 L213.9,645.9 L214.3,647.2 L214.7,648.6 L215.1,650.0 L215.5,651.3 L215.9,652.6 L216.3,653.7 L216.7,654.5 L217.1,655.1 L217.5,655.6 L217.9,656.0 L218.3,656.4 L218.7,656.8 L219.1,657.2 L219.5,657.5 L219.9,657.8 L220.3,658.0 L220.7,658.3 L221.1,658.5 L221.5,658.7 L221.9,658.9 L222.3,659.1 L222.7,659.2 L223.1,659.3 L223.5,659.4 L223.9,659.5 L224.3,659.7 L224.7,659.8 L225.1,659.9 L225.5,660.1 L225.9,660.3 L226.3,660.5 L226.7,660.8 L227.1,661.0 L227.5,661.2 L227.9,661.4 L228.3,661.6 L228.7,661.8 L229.1,662.1 L229.5,662.3 L229.9,662.5 L230.3,662.7 L230.7,663.0 L231.1,663.2 L231.5,663.4 L231.9,663.5 L232.3,663.7 L232.7,663.8 L233.1,663.9 L233.5,664.0 L233.9,664.0 L234.3,664.1 L234.7,664.1 L235.1,664.2 L235.5,664.3 L235.9,664.4 L236.3,664.5 L236.7,664.6 L237.1,664.8 L237.5,664.9 L237.9,665.0 L238.3,665.1 L238.7,665.2 L239.1,665.3 L239.5,665.4 L239.9,665.6 L240.3,665.7 L240.7,665.9 L241.1,666.1 L241.5,666.2 L241.9,666.4 L242.3,666.5 L242.7,666.6 L243.1,666.7 L243.5,666.7 L243.9,666.8 L244.3,666.9 L244.7,666.9 L245.1,667.0 L245.5,667.1 L245.9,667.2 L246.3,667.3 L246.7,667.4 L247.1,667.5 L247.5,667.6 L247.9,667.7 L248.3,667.8 L248.7,667.8 L249.1,667.8 L249.5,667.7 L249.9,667.7 L250.3,667.6 L250.7,667.6 L251.1,667.6 L251.5,667.7 L251.9,667.7 L252.3,667.8 L252.7,667.9 L253.1,668.0 L253.5,668.0 L253.9,668.1 L254.3,668.1 L254.7,668.1 L255.1,668.1 L255.5,668.1 L255.9,668.2 L256.3,668.3 L256.7,668.3 L257.1,668.5 L257.5,668.6 L257.9,668.7 L258.3,668.8 L258.7,668.9 L259.1,668.9 L259.5,669.0 L259.9,669.1 L260.3,669.2 L260.7,669.3 L261.1,669.3 L261.5,669.4 L261.9,669.5 L262.3,669.5 L262.7,669.6 L263.1,669.7 L263.5,669.7 L263.9,669.8 L264.3,669.9 L264.7,670.0 L265.1,670.0 L265.5,670.1 L265.9,670.2 L266.3,670.2 L266.7,670.2 L267.1,670.3 L267.5,670.3 L267.9,670.4 L268.3,670.4 L268.7,670.5 L269.1,670.5 L269.5,670.6 L269.9,670.7 L270.3,670.8 L270.7,670.9 L271.1,671.0 L271.5,671.1 L271.9,671.2 L272.3,671.3 L272.7,671.4 L273.1,671.5 L273.5,671.6 L273.9,671.7 L274.3,671.8 L274.7,671.9 L275.1,672.0 L275.5,672.1 L275.9,672.1 L276.3,672.1 L276.7,672.2 L277.1,672.2 L277.5,672.2 L277.9,672.3 L278.3,672.3 L278.7,672.4 L279.1,672.5 L279.5,672.6 L279.9,672.7 L280.3,672.7 L280.7,672.8 L281.1,672.9 L281.5,673.0 L281.9,673.0 L282.3,673.1 L282.7,673.2 L283.1,673.3 L283.5,673.4 L283.9,673.5 L284.3,673.6 L284.7,673.7 L285.1,673.8 L285.5,673.9 L285.9,673.9 L286.3,674.0 L286.7,674.1 L287.1,674.1 L287.5,674.1 L287.9,674.2 L288.3,674.2 L288.7,674.2 L289.1,674.2 L289.5,674.3 L289.9,674.3 L290.3,674.4 L290.7,674.4 L291.1,674.5 L291.5,674.6 L291.9,674.7 L292.3,674.8 L292.7,674.8 L293.1,675.0 L293.5,675.0 L293.9,675.1 L294.3,675.2 L294.7,675.3 L295.1,675.3 L295.5,675.4 L295.9,675.4 L296.3,675.3 L296.7,675.3 L297.1,675.3 L297.5,675.3 L297.9,675.3 L298.3,675.3 L298.7,675.2 L299.1,675.2 L299.5,675.2 L299.9,675.1 L300.3,675.0 L300.7,674.9 L301.1,674.8 L301.5,674.7 L301.9,674.6 L302.3,673.9 L302.7,671.4 L303.1,667.6 L303.5,663.1 L303.9,658.4 L304.3,654.1 L304.7,650.8 L305.1,649.1 L305.5,649.5 L305.9,652.1 L306.3,656.3 L306.7,661.3 L307.1,666.3 L307.5,670.7 L307.9,673.7 L308.3,674.7 L308.7,674.8 L309.1,674.8 L309.5,674.9 L309.9,674.9 L310.3,675.0 L310.7,675.0 L311.1,675.0 L311.5,675.0 L311.9,675.0 L312.3,674.9 L312.7,674.9 L313.1,674.8 L313.5,674.8 L313.9,674.8 L314.3,674.8 L314.7,674.8 L315.1,674.8 L315.5,674.9 L315.9,674.9 L316.3,674.9 L316.7,675.0 L317.1,675.0 L317.5,675.0 L317.9,675.1 L318.3,675.1 L318.7,675.1 L319.1,675.2 L319.5,675.2 L319.9,675.3 L320.3,675.5 L320.7,675.8 L321.1,676.1 L321.5,676.4 L321.9,676.8 L322.3,677.1 L322.7,677.5 L323.1,677.8 L323.5,678.0 L323.9,678.2 L324.3,678.3 L324.7,678.2 L325.1,678.2 L325.5,678.2 L325.9,678.2 L326.3,678.1 L326.7,678.1 L327.1,678.1 L327.5,678.0 L327.9,678.0 L328.3,678.0 L328.7,678.0 L329.1,678.0 L329.5,678.0 L329.9,678.0 L330.3,678.0 L330.7,678.0 L331.1,678.1 L331.5,678.1 L331.9,678.2 L332.3,678.3 L332.7,678.3 L333.1,678.4 L333.5,678.4 L333.9,678.4 L334.3,678.4 L334.7,678.3 L335.1,678.3 L335.5,678.3 L335.9,678.3 L336.3,678.3 L336.7,678.3 L337.1,678.3 L337.5,678.2 L337.9,678.2 L338.3,678.2 L338.7,678.2 L339.1,678.2 L339.5,678.2 L339.9,678.3 L340.3,678.3 L340.7,678.4 L341.1,678.4 L341.5,678.4 L341.9,678.4 L342.3,678.5 L342.7,678.5 L343.1,678.5 L343.5,678.5 L343.9,678.5 L344.3,678.5 L344.7,678.5 L345.1,678.6 L345.5,678.7 L345.9,678.9 L346.3,679.2 L346.7,679.4 L347.1,679.7 L347.5,680.1 L347.9,680.3 L348.3,680.6 L348.7,680.9 L349.1,681.2 L349.5,681.4 L349.9,681.6 L350.3,681.8 L350.7,682.1 L351.1,682.3 L351.5,682.5 L351.9,682.8 L352.3,683.0 L352.7,683.2 L353.1,683.4 L353.5,683.6 L353.9,683.7 L354.3,683.8 L354.7,683.9 L355.1,683.9 L355.5,684.0 L355.9,684.0 L356.3,684.1 L356.7,684.1 L357.1,684.2 L357.5,684.3 L357.9,684.3 L358.3,684.4 L358.7,684.4 L359.1,684.5 L359.5,684.5 L359.9,684.5 L360.3,684.6 L360.7,684.6 L361.1,684.6 L361.5,684.6 L361.9,684.6 L362.3,684.6 L362.7,684.6 L363.1,684.6 L363.5,684.6 L363.9,684.7 L364.3,684.8 L364.7,684.9 L365.1,685.1 L365.5,685.2 L365.9,685.3 L366.3,685.4 L366.7,685.5 L367.1,685.5 L367.5,685.5 L367.9,685.5 L368.3,685.5 L368.7,685.5 L369.1,685.5 L369.5,685.5 L369.9,685.5 L370.3,685.6 L370.7,685.6 L371.1,685.7 L371.5,685.7 L371.9,685.6 L372.3,685.6 L372.7,685.6 L373.1,685.5 L373.5,685.3 L373.9,685.0 L374.3,684.6 L374.7,684.2 L375.1,683.7 L375.5,683.1 L375.9,682.4 L376.3,681.6 L376.7,680.8 L377.1,679.9 L377.5,679.0 L377.9,678.0 L378.3,676.5 L378.7,674.4 L379.1,672.1 L379.5,669.5 L379.9,666.8 L380.3,664.3 L380.7,661.1 L381.1,657.4 L381.5,654.3 L381.9,652.6 L382.3,652.7 L382.7,653.2 L383.1,654.1 L383.5,655.2 L383.9,656.3 L384.3,657.3 L384.7,658.2 L385.1,658.6 L385.5,658.5 L385.9,657.8 L386.3,656.4 L386.7,654.5 L387.1,652.1 L387.5,649.3 L387.9,646.2 L388.3,642.9 L388.7,639.5 L389.1,636.1 L389.5,632.6 L389.9,629.3 L390.3,626.2 L390.7,623.3 L391.1,620.7 L391.5,618.6 L391.9,616.9 L392.3,615.8 L392.7,615.4 L393.1,615.6 L393.5,616.3 L393.9,617.4 L394.3,618.9 L394.7,620.7 L395.1,622.6 L395.5,624.7 L395.9,626.8 L396.3,628.9 L396.7,630.8 L397.1,632.6 L397.5,634.1 L397.9,635.3 L398.3,636.3 L398.7,637.2 L399.1,638.0 L399.5,638.7 L399.9,639.4 L400.3,640.1 L400.7,640.8 L401.1,641.6 L401.5,642.6 L401.9,643.6 L402.3,644.7 L402.7,645.9 L403.1,647.1 L403.5,648.4 L403.9,649.7 L404.3,651.0 L404.7,652.3 L405.1,653.6 L405.5,654.8 L405.9,656.0 L406.3,657.1 L406.7,658.1 L407.1,659.3 L407.5,660.5 L407.9,661.7 L408.3,663.0 L408.7,664.3 L409.1,665.7 L409.5,667.0 L409.9,668.2 L410.3,669.4 L410.7,670.5 L411.1,671.4 L411.5,672.2 L411.9,672.9 L412.3,673.3 L412.7,673.5 L413.1,673.5 L413.5,673.5 L413.9,673.4 L414.3,673.4 L414.7,673.3 L415.1,673.1 L415.5,673.0 L415.9,672.8 L416.3,672.6 L416.7,672.4 L417.1,672.2 L417.5,672.0 L417.9,671.7 L418.3,671.5 L418.7,671.2 L419.1,670.9 L419.5,670.6 L419.9,670.2 L420.3,669.9 L420.7,668.9 L421.1,667.1 L421.5,664.7 L421.9,661.9 L422.3,658.7 L422.7,655.3 L423.1,652.0 L423.5,648.9 L423.9,646.1 L424.3,643.8 L424.7,642.2 L425.1,641.4 L425.5,641.6 L425.9,642.6 L426.3,644.4 L426.7,646.6 L427.1,649.1 L427.5,651.7 L427.9,654.2 L428.3,656.4 L428.7,658.2 L429.1,659.4 L429.5,659.8 L429.9,659.5 L430.3,658.9 L430.7,658.0 L431.1,656.9 L431.5,655.7 L431.9,654.3 L432.3,652.8 L432.7,651.4 L433.1,649.9 L433.5,648.6 L433.9,647.3 L434.3,646.3 L434.7,645.6 L435.1,645.2 L435.5,645.2 L435.9,645.5 L436.3,646.2 L436.7,647.1 L437.1,648.3 L437.5,649.7 L437.9,651.1 L438.3,652.7 L438.7,654.3 L439.1,655.9 L439.5,657.4 L439.9,658.8 L440.3,659.9 L440.7,660.9 L441.1,661.6 L441.5,662.0 L441.9,662.2 L442.3,662.4 L442.7,662.6 L443.1,662.7 L443.5,662.9 L443.9,663.1 L444.3,663.3 L444.7,663.4 L445.1,663.6 L445.5,663.7 L445.9,663.8 L446.3,663.9 L446.7,664.0 L447.1,664.0 L447.5,664.1 L447.9,664.1 L448.3,664.1 L448.7,664.1 L449.1,664.1 L449.5,664.0 L449.9,663.8 L450.3,663.3 L450.7,662.8 L451.1,662.0 L451.5,661.2 L451.9,660.3 L452.3,659.3 L452.7,658.3 L453.1,657.2 L453.5,656.1 L453.9,655.0 L454.3,653.6 L454.7,651.4 L455.1,648.6 L455.5,645.4 L455.9,642.1 L456.3,638.9 L456.7,636.1 L457.1,634.0 L457.5,632.7 L457.9,632.5 L458.3,633.0 L458.7,634.1 L459.1,635.6 L459.5,637.4 L459.9,639.4 L460.3,641.6 L460.7,643.9 L461.1,646.1 L461.5,648.2 L461.9,650.0 L462.3,651.5 L462.7,652.6 L463.1,653.3 L463.5,654.0 L463.9,654.6 L464.3,655.2 L464.7,655.7 L465.1,656.2 L465.5,656.6 L465.9,657.0 L466.3,657.4 L466.7,657.8 L467.1,658.1 L467.5,658.5 L467.9,659.0 L468.3,659.4 L468.7,659.9 L469.1,660.5 L469.5,661.0 L469.9,661.7 L470.3,662.3 L470.7,662.9 L471.1,663.5 L471.5,664.1 L471.9,664.6 L472.3,665.1 L472.7,665.5 L473.1,665.9 L473.5,666.1 L473.9,666.3 L474.3,666.2 L474.7,665.6 L475.1,664.7 L475.5,663.4 L475.9,661.9 L476.3,660.2 L476.7,658.5 L477.1,656.8 L477.5,655.3 L477.9,653.9 L478.3,652.9 L478.7,652.3 L479.1,652.1 L479.5,652.3 L479.9,652.6 L480.3,653.2 L480.7,653.8 L481.1,654.5 L481.5,655.3 L481.9,656.1 L482.3,656.9 L482.7,657.7 L483.1,658.5 L483.5,659.2 L483.9,659.7 L484.3,660.2 L484.7,660.6 L485.1,661.0 L485.5,661.4 L485.9,661.8 L486.3,662.2 L486.7,662.6 L487.1,662.9 L487.5,663.3 L487.9,663.7 L488.3,664.1 L488.7,664.6 L489.1,665.1 L489.5,665.7 L489.9,666.6 L490.3,667.8 L490.7,669.2 L491.1,670.9 L491.5,672.6 L491.9,674.3 L492.3,676.0 L492.7,677.5 L493.1,678.8 L493.5,679.8 L493.9,680.4 L494.3,680.9 L494.7,681.3 L495.1,681.7 L495.5,682.1 L495.9,682.4 L496.3,682.7 L496.7,683.0 L497.1,683.2 L497.5,683.4 L497.9,683.6 L498.3,683.7 L498.7,683.9 L499.1,684.0 L499.5,684.2 L499.9,684.3 L500.3,684.4 L500.7,684.6 L501.1,684.7 L501.5,684.8 L501.9,685.0 L502.3,685.1 L502.7,685.2 L503.1,685.4 L503.5,685.5 L503.9,685.6 L504.3,685.7 L504.7,685.7 L505.1,685.7 L505.5,685.8 L505.9,685.8 L506.3,685.8 L506.7,685.8 L507.1,685.8 L507.5,685.8 L507.9,685.9 L508.3,686.0 L508.7,686.0 L509.1,686.1 L509.5,686.2 L509.9,686.2 L510.3,686.2 L510.7,686.2 L511.1,686.1 L511.5,686.0 L511.9,686.0 L512.3,685.9 L512.7,685.7 L513.1,685.6 L513.5,685.5 L513.9,685.3 L514.3,685.2 L514.7,685.0 L515.1,684.9 L515.5,684.7 L515.9,684.5 L516.3,684.3 L516.7,684.0 L517.1,683.7 L517.5,683.3 L517.9,682.9 L518.3,682.5 L518.7,682.0 L519.1,681.5 L519.5,681.0 L519.9,680.5 L520.3,680.0 L520.7,679.5 L521.1,679.0 L521.5,678.5 L521.9,678.0 L522.3,677.5 L522.7,677.1 L523.1,676.7 L523.5,676.4 L523.9,676.1 L524.3,675.8 L524.7,675.6 L525.1,675.3 L525.5,675.1 L525.9,674.9 L526.3,674.7 L526.7,674.6 L527.1,674.4 L527.5,674.2 L527.9,674.1 L528.3,673.9 L528.7,673.8 L529.1,673.7 L529.5,673.6 L529.9,673.5 L530.3,673.4 L530.7,673.4 L531.1,673.3 L531.5,673.2 L531.9,673.1 L532.3,673.0 L532.7,672.9 L533.1,672.8 L533.5,672.7 L533.9,672.5 L534.3,672.3 L534.7,672.1 L535.1,672.0 L535.5,671.7 L535.9,671.6 L536.3,671.4 L536.7,671.2 L537.1,671.1 L537.5,671.0 L537.9,670.9 L538.3,670.8 L538.7,670.8 L539.1,670.7 L539.5,670.6 L539.9,670.5 L540.3,670.3 L540.7,670.0 L541.1,669.7 L541.5,669.0 L541.9,668.2 L542.3,667.3 L542.7,666.3 L543.1,665.5 L543.5,664.7 L543.9,664.2 L544.3,664.0 L544.7,664.2 L545.1,664.6 L545.5,665.3 L545.9,666.0 L546.3,666.8 L546.7,667.4 L547.1,667.7 L547.5,667.8 L547.9,667.8 L548.3,667.9 L548.7,667.9 L549.1,667.9 L549.5,667.9 L549.9,667.8 L550.3,667.8 L550.7,667.6 L551.1,667.5 L551.5,667.4 L551.9,667.2 L552.3,667.1 L552.7,667.0 L553.1,666.9 L553.5,666.8 L553.9,666.8 L554.3,666.8 L554.7,666.8 L555.1,666.8 L555.5,666.8 L555.9,666.9 L556.3,666.9 L556.7,666.9 L557.1,666.9 L557.5,666.9 L557.9,666.9 L558.3,666.8 L558.7,666.7 L559.1,666.6 L559.5,666.5 L559.9,666.3 L560.3,666.2 L560.7,666.1 L561.1,666.0 L561.5,665.9 L561.9,665.8 L562.3,665.7 L562.7,665.6 L563.1,665.6 L563.5,665.5 L563.9,665.5 L564.3,665.6 L564.7,665.6 L565.1,665.6 L565.5,665.7 L565.9,665.7 L566.3,665.7 L566.7,665.8 L567.1,665.8 L567.5,665.8 L567.9,665.9 L568.3,665.9 L568.7,666.0" fill="none" stroke="#ff0000" stroke-width="2.1" stroke-linejoin="round"/>
<path d="M39.9,755.6 L40.3,755.5 L40.7,755.5 L41.1,755.4 L41.5,755.3 L41.9,755.2 L42.3,755.1 L42.7,755.1 L43.1,755.0 L43.5,755.0 L43.9,754.9 L44.3,754.9 L44.7,754.8 L45.1,754.7 L45.5,754.6 L45.9,754.5 L46.3,754.4 L46.7,754.3 L47.1,754.2 L47.5,754.1 L47.9,754.1 L48.3,754.0 L48.7,754.0 L49.1,753.9 L49.5,753.9 L49.9,753.9 L50.3,753.8 L50.7,753.8 L51.1,753.8 L51.5,753.7 L51.9,753.7 L52.3,753.6 L52.7,753.6 L53.1,753.5 L53.5,753.4 L53.9,753.4 L54.3,753.4 L54.7,753.3 L55.1,753.3 L55.5,753.3 L55.9,753.2 L56.3,753.2 L56.7,753.1 L57.1,753.0 L57.5,752.9 L57.9,752.8 L58.3,752.6 L58.7,752.5 L59.1,752.3 L59.5,752.2 L59.9,752.0 L60.3,751.9 L60.7,751.8 L61.1,751.8 L61.5,751.7 L61.9,751.7 L62.3,751.6 L62.7,751.6 L63.1,751.6 L63.5,751.5 L63.9,751.5 L64.3,751.5 L64.7,751.5 L65.1,751.5 L65.5,751.5 L65.9,751.5 L66.3,751.5 L66.7,751.4 L67.1,751.4 L67.5,751.4 L67.9,751.3 L68.3,751.3 L68.7,751.3 L69.1,751.2 L69.5,751.2 L69.9,751.1 L70.3,751.1 L70.7,751.0 L71.1,751.0 L71.5,750.9 L71.9,750.9 L72.3,750.9 L72.7,750.9 L73.1,750.9 L73.5,750.9 L73.9,750.8 L74.3,750.8 L74.7,750.8 L75.1,750.9 L75.5,750.9 L75.9,750.9 L76.3,750.9 L76.7,750.9 L77.1,750.9 L77.5,750.9 L77.9,750.9 L78.3,750.9 L78.7,750.8 L79.1,750.6 L79.5,750.5 L79.9,750.3 L80.3,750.1 L80.7,749.9 L81.1,749.7 L81.5,749.5 L81.9,749.4 L82.3,749.3 L82.7,749.3 L83.1,749.2 L83.5,749.2 L83.9,749.3 L84.3,749.3 L84.7,749.3 L85.1,749.3 L85.5,749.2 L85.9,749.1 L86.3,749.0 L86.7,748.9 L87.1,748.7 L87.5,748.5 L87.9,748.3 L88.3,748.1 L88.7,747.8 L89.1,747.4 L89.5,747.1 L89.9,746.7 L90.3,746.3 L90.7,745.9 L91.1,745.4 L91.5,745.0 L91.9,744.5 L92.3,744.0 L92.7,743.5 L93.1,743.0 L93.5,742.5 L93.9,742.0 L94.3,741.5 L94.7,741.1 L95.1,740.6 L95.5,740.2 L95.9,739.7 L96.3,739.3 L96.7,738.9 L97.1,738.5 L97.5,738.2 L97.9,737.8 L98.3,737.5 L98.7,737.2 L99.1,736.9 L99.5,736.7 L99.9,736.4 L100.3,736.2 L100.7,736.0 L101.1,735.9 L101.5,735.7 L101.9,735.5 L102.3,735.3 L102.7,735.1 L103.1,734.9 L103.5,734.7 L103.9,734.5 L104.3,734.4 L104.7,734.2 L105.1,734.1 L105.5,733.9 L105.9,733.8 L106.3,733.7 L106.7,733.6 L107.1,733.5 L107.5,733.4 L107.9,733.3 L108.3,733.2 L108.7,733.1 L109.1,733.0 L109.5,732.9 L109.9,732.8 L110.3,732.6 L110.7,732.5 L111.1,732.4 L111.5,732.2 L111.9,732.1 L112.3,732.0 L112.7,731.8 L113.1,731.7 L113.5,731.5 L113.9,731.4 L114.3,731.3 L114.7,731.1 L115.1,731.0 L115.5,730.8 L115.9,730.6 L116.3,730.4 L116.7,730.2 L117.1,729.9 L117.5,729.6 L117.9,729.3 L118.3,729.0 L118.7,728.7 L119.1,728.5 L119.5,728.3 L119.9,728.1 L120.3,727.9 L120.7,727.7 L121.1,727.6 L121.5,727.4 L121.9,727.3 L122.3,727.2 L122.7,727.1 L123.1,726.9 L123.5,726.8 L123.9,726.7 L124.3,726.6 L124.7,726.4 L125.1,726.3 L125.5,726.2 L125.9,726.1 L126.3,726.0 L126.7,726.0 L127.1,725.9 L127.5,725.9 L127.9,726.0 L128.3,726.0 L128.7,726.0 L129.1,726.1 L129.5,726.1 L129.9,726.1 L130.3,726.0 L130.7,726.0 L131.1,725.9 L131.5,725.9 L131.9,725.8 L132.3,725.7 L132.7,725.6 L133.1,725.5 L133.5,725.4 L133.9,725.4 L134.3,725.3 L134.7,725.2 L135.1,725.1 L135.5,725.0 L135.9,725.0 L136.3,724.9 L136.7,724.8 L137.1,724.8 L137.5,724.8 L137.9,724.7 L138.3,724.7 L138.7,724.7 L139.1,724.7 L139.5,724.8 L139.9,724.8 L140.3,724.8 L140.7,724.9 L141.1,724.9 L141.5,724.9 L141.9,724.9 L142.3,724.9 L142.7,724.8 L143.1,724.7 L143.5,724.6 L143.9,724.5 L144.3,724.4 L144.7,724.3 L145.1,724.2 L145.5,724.1 L145.9,724.0 L146.3,723.9 L146.7,723.8 L147.1,723.7 L147.5,723.6 L147.9,723.5 L148.3,723.3 L148.7,723.1 L149.1,722.9 L149.5,722.7 L149.9,722.4 L150.3,722.2 L150.7,722.0 L151.1,721.7 L151.5,721.5 L151.9,721.2 L152.3,721.0 L152.7,720.7 L153.1,720.4 L153.5,720.2 L153.9,719.9 L154.3,719.6 L154.7,719.4 L155.1,719.1 L155.5,718.9 L155.9,718.8 L156.3,718.7 L156.7,718.5 L157.1,718.5 L157.5,718.4 L157.9,718.3 L158.3,718.2 L158.7,718.1 L159.1,718.0 L159.5,718.0 L159.9,717.9 L160.3,717.9 L160.7,717.9 L161.1,718.0 L161.5,718.1 L161.9,718.2 L162.3,718.4 L162.7,718.6 L163.1,718.8 L163.5,719.1 L163.9,719.3 L164.3,719.6 L164.7,719.9 L165.1,720.2 L165.5,720.5 L165.9,720.8 L166.3,721.1 L166.7,721.5 L167.1,721.8 L167.5,722.1 L167.9,722.4 L168.3,722.6 L168.7,722.8 L169.1,723.0 L169.5,723.1 L169.9,723.2 L170.3,723.2 L170.7,723.2 L171.1,723.3 L171.5,723.3 L171.9,723.4 L172.3,723.5 L172.7,723.6 L173.1,723.6 L173.5,723.7 L173.9,723.7 L174.3,723.7 L174.7,723.7 L175.1,723.7 L175.5,723.7 L175.9,723.6 L176.3,723.5 L176.7,723.5 L177.1,723.5 L177.5,723.4 L177.9,723.4 L178.3,723.5 L178.7,723.5 L179.1,723.6 L179.5,723.7 L179.9,723.9 L180.3,724.0 L180.7,724.2 L181.1,724.4 L181.5,724.5 L181.9,724.7 L182.3,724.9 L182.7,725.0 L183.1,725.2 L183.5,725.4 L183.9,725.5 L184.3,725.7 L184.7,725.9 L185.1,726.0 L185.5,726.1 L185.9,726.3 L186.3,726.4 L186.7,726.4 L187.1,726.5 L187.5,726.6 L187.9,726.6 L188.3,726.7 L188.7,726.7 L189.1,726.8 L189.5,726.9 L189.9,727.0 L190.3,727.0 L190.7,727.1 L191.1,727.2 L191.5,727.2 L191.9,727.3 L192.3,727.3 L192.7,727.1 L193.1,726.7 L193.5,726.0 L193.9,725.2 L194.3,724.2 L194.7,723.1 L195.1,721.9 L195.5,720.7 L195.9,719.5 L196.3,718.3 L196.7,717.2 L197.1,716.2 L197.5,715.1 L197.9,713.9 L198.3,712.6 L198.7,711.3 L199.1,710.0 L199.5,708.7 L199.9,707.5 L200.3,706.3 L200.7,705.4 L201.1,704.6 L201.5,704.1 L201.9,703.8 L202.3,703.9 L202.7,704.2 L203.1,704.7 L203.5,705.4 L203.9,706.2 L204.3,707.1 L204.7,708.1 L205.1,709.2 L205.5,710.2 L205.9,711.2 L206.3,712.2 L206.7,713.0 L207.1,713.7 L207.5,714.3 L207.9,714.6 L208.3,714.7 L208.7,714.7 L209.1,714.6 L209.5,714.4 L209.9,714.3 L210.3,714.1 L210.7,713.9 L211.1,713.8 L211.5,713.7 L211.9,713.6 L212.3,713.6 L212.7,713.9 L213.1,714.5 L213.5,715.3 L213.9,716.2 L214.3,717.3 L214.7,718.5 L215.1,719.6 L215.5,720.8 L215.9,721.9 L216.3,722.9 L216.7,723.7 L217.1,724.4 L217.5,725.0 L217.9,725.5 L218.3,726.0 L218.7,726.5 L219.1,727.0 L219.5,727.5 L219.9,728.1 L220.3,728.6 L220.7,729.1 L221.1,729.6 L221.5,730.0 L221.9,730.5 L222.3,730.9 L222.7,731.2 L223.1,731.6 L223.5,731.8 L223.9,732.1 L224.3,732.3 L224.7,732.5 L225.1,732.7 L225.5,732.9 L225.9,733.2 L226.3,733.4 L226.7,733.7 L227.1,733.9 L227.5,734.2 L227.9,734.4 L228.3,734.6 L228.7,734.8 L229.1,735.1 L229.5,735.3 L229.9,735.5 L230.3,735.8 L230.7,736.1 L231.1,736.3 L231.5,736.6 L231.9,736.8 L232.3,737.0 L232.7,737.2 L233.1,737.4 L233.5,737.6 L233.9,737.7 L234.3,737.8 L234.7,737.9 L235.1,737.9 L235.5,737.9 L235.9,738.0 L236.3,738.0 L236.7,738.0 L237.1,738.0 L237.5,738.1 L237.9,738.1 L238.3,738.2 L238.7,738.2 L239.1,738.3 L239.5,738.3 L239.9,738.4 L240.3,738.4 L240.7,738.5 L241.1,738.5 L241.5,738.5 L241.9,738.6 L242.3,738.6 L242.7,738.7 L243.1,738.8 L243.5,739.0 L243.9,739.2 L244.3,739.3 L244.7,739.5 L245.1,739.7 L245.5,739.9 L245.9,740.0 L246.3,740.1 L246.7,740.2 L247.1,740.3 L247.5,740.3 L247.9,740.3 L248.3,740.3 L248.7,740.4 L249.1,740.4 L249.5,740.5 L249.9,740.5 L250.3,740.6 L250.7,740.7 L251.1,740.8 L251.5,740.8 L251.9,740.9 L252.3,741.0 L252.7,741.0 L253.1,741.1 L253.5,741.2 L253.9,741.2 L254.3,741.3 L254.7,741.4 L255.1,741.5 L255.5,741.6 L255.9,741.7 L256.3,741.8 L256.7,741.9 L257.1,742.0 L257.5,742.1 L257.9,742.1 L258.3,742.2 L258.7,742.3 L259.1,742.4 L259.5,742.5 L259.9,742.6 L260.3,742.6 L260.7,742.7 L261.1,742.7 L261.5,742.7 L261.9,742.7 L262.3,742.7 L262.7,742.8 L263.1,742.8 L263.5,742.8 L263.9,742.9 L264.3,742.9 L264.7,742.9 L265.1,742.9 L265.5,743.0 L265.9,743.0 L266.3,743.1 L266.7,743.2 L267.1,743.3 L267.5,743.4 L267.9,743.5 L268.3,743.6 L268.7,743.7 L269.1,743.8 L269.5,743.9 L269.9,743.9 L270.3,743.9 L270.7,744.0 L271.1,744.0 L271.5,744.1 L271.9,744.2 L272.3,744.3 L272.7,744.4 L273.1,744.5 L273.5,744.7 L273.9,744.8 L274.3,745.0 L274.7,745.1 L275.1,745.3 L275.5,745.4 L275.9,745.5 L276.3,745.5 L276.7,745.5 L277.1,745.5 L277.5,745.4 L277.9,745.4 L278.3,745.3 L278.7,745.3 L279.1,745.3 L279.5,745.3 L279.9,745.3 L280.3,745.3 L280.7,745.3 L281.1,745.4 L281.5,745.4 L281.9,745.5 L282.3,745.5 L282.7,745.6 L283.1,745.6 L283.5,745.7 L283.9,745.7 L284.3,745.8 L284.7,745.9 L285.1,746.0 L285.5,746.1 L285.9,746.2 L286.3,746.3 L286.7,746.4 L287.1,746.5 L287.5,746.7 L287.9,746.8 L288.3,746.9 L288.7,747.1 L289.1,747.3 L289.5,747.5 L289.9,747.6 L290.3,747.8 L290.7,748.0 L291.1,748.1 L291.5,748.2 L291.9,748.2 L292.3,748.2 L292.7,748.2 L293.1,748.1 L293.5,748.0 L293.9,748.0 L294.3,747.9 L294.7,747.8 L295.1,747.8 L295.5,747.8 L295.9,747.8 L296.3,747.9 L296.7,748.0 L297.1,748.1 L297.5,748.2 L297.9,748.3 L298.3,748.3 L298.7,748.4 L299.1,748.5 L299.5,748.5 L299.9,748.5 L300.3,748.5 L300.7,748.4 L301.1,748.4 L301.5,748.3 L301.9,748.3 L302.3,747.9 L302.7,746.7 L303.1,744.9 L303.5,742.6 L303.9,740.3 L304.3,738.2 L304.7,736.6 L305.1,735.8 L305.5,735.9 L305.9,736.9 L306.3,738.5 L306.7,740.4 L307.1,742.3 L307.5,744.0 L307.9,745.1 L308.3,745.4 L308.7,745.4 L309.1,745.2 L309.5,745.1 L309.9,745.0 L310.3,744.9 L310.7,744.8 L311.1,744.7 L311.5,744.6 L311.9,744.6 L312.3,744.5 L312.7,744.5 L313.1,744.4 L313.5,744.4 L313.9,744.3 L314.3,744.2 L314.7,744.1 L315.1,744.0 L315.5,743.8 L315.9,743.6 L316.3,743.4 L316.7,743.3 L317.1,743.1 L317.5,743.0 L317.9,743.0 L318.3,743.0 L318.7,743.1 L319.1,743.4 L319.5,743.8 L319.9,744.3 L320.3,744.8 L320.7,745.4 L321.1,746.0 L321.5,746.5 L321.9,747.1 L322.3,747.7 L322.7,748.2 L323.1,748.7 L323.5,749.2 L323.9,749.6 L324.3,750.0 L324.7,750.4 L325.1,750.6 L325.5,750.8 L325.9,750.9 L326.3,751.0 L326.7,751.0 L327.1,751.1 L327.5,751.1 L327.9,751.2 L328.3,751.2 L328.7,751.1 L329.1,751.1 L329.5,751.0 L329.9,750.9 L330.3,750.8 L330.7,750.8 L331.1,750.7 L331.5,750.6 L331.9,750.6 L332.3,750.5 L332.7,750.3 L333.1,750.1 L333.5,749.8 L333.9,749.5 L334.3,749.2 L334.7,748.8 L335.1,748.4 L335.5,748.1 L335.9,747.7 L336.3,747.4 L336.7,747.1 L337.1,746.9 L337.5,746.7 L337.9,746.6 L338.3,746.6 L338.7,746.7 L339.1,746.9 L339.5,747.3 L339.9,747.7 L340.3,748.2 L340.7,748.7 L341.1,749.0 L341.5,749.3 L341.9,749.5 L342.3,749.4 L342.7,749.3 L343.1,749.1 L343.5,748.8 L343.9,748.6 L344.3,748.4 L344.7,748.3 L345.1,748.3 L345.5,748.4 L345.9,748.6 L346.3,748.8 L346.7,749.1 L347.1,749.4 L347.5,749.7 L347.9,750.1 L348.3,750.5 L348.7,750.9 L349.1,751.3 L349.5,751.7 L349.9,752.2 L350.3,752.7 L350.7,753.2 L351.1,753.7 L351.5,754.3 L351.9,754.8 L352.3,755.2 L352.7,755.7 L353.1,756.0 L353.5,756.3 L353.9,756.5 L354.3,756.6 L354.7,756.7 L355.1,756.8 L355.5,756.8 L355.9,756.9 L356.3,756.9 L356.7,756.9 L357.1,756.9 L357.5,756.9 L357.9,757.0 L358.3,757.1 L358.7,757.2 L359.1,757.3 L359.5,757.5 L359.9,757.6 L360.3,757.8 L360.7,757.9 L361.1,758.1 L361.5,758.2 L361.9,758.3 L362.3,758.4 L362.7,758.5 L363.1,758.6 L363.5,758.6 L363.9,758.6 L364.3,758.6 L364.7,758.6 L365.1,758.7 L365.5,758.7 L365.9,758.7 L366.3,758.8 L366.7,758.9 L367.1,759.0 L367.5,759.1 L367.9,759.2 L368.3,759.3 L368.7,759.4 L369.1,759.5 L369.5,759.5 L369.9,759.5 L370.3,759.6 L370.7,759.5 L371.1,759.5 L371.5,759.5 L371.9,759.4 L372.3,759.3 L372.7,759.1 L373.1,758.9 L373.5,758.6 L373.9,758.3 L374.3,757.9 L374.7,757.5 L375.1,757.0 L375.5,756.5 L375.9,755.9 L376.3,755.3 L376.7,754.6 L377.1,754.0 L377.5,753.3 L377.9,752.7 L378.3,751.9 L378.7,751.1 L379.1,750.2 L379.5,749.1 L379.9,748.0 L380.3,746.8 L380.7,745.5 L381.1,744.1 L381.5,742.6 L381.9,741.0 L382.3,739.4 L382.7,737.7 L383.1,736.0 L383.5,734.3 L383.9,732.6 L384.3,730.9 L384.7,729.0 L385.1,727.1 L385.5,725.0 L385.9,722.8 L386.3,720.6 L386.7,718.3 L387.1,716.0 L387.5,713.6 L387.9,711.3 L388.3,709.0 L388.7,706.7 L389.1,704.6 L389.5,702.2 L389.9,699.7 L390.3,697.0 L390.7,694.3 L391.1,691.7 L391.5,689.3 L391.9,687.1 L392.3,685.3 L392.7,683.9 L393.1,683.0 L393.5,682.8 L393.9,683.1 L394.3,684.0 L394.7,685.2 L395.1,686.6 L395.5,688.1 L395.9,689.7 L396.3,691.1 L396.7,692.4 L397.1,693.8 L397.5,695.4 L397.9,696.9 L398.3,698.4 L398.7,699.6 L399.1,700.6 L399.5,701.3 L399.9,701.9 L400.3,702.4 L400.7,702.9 L401.1,703.4 L401.5,704.1 L401.9,704.9 L402.3,706.0 L402.7,707.3 L403.1,708.7 L403.5,710.2 L403.9,711.8 L404.3,713.5 L404.7,715.2 L405.1,716.9 L405.5,718.5 L405.9,720.1 L406.3,721.6 L406.7,723.0 L407.1,724.4 L407.5,725.9 L407.9,727.5 L408.3,729.1 L408.7,730.6 L409.1,732.2 L409.5,733.7 L409.9,735.2 L410.3,736.6 L410.7,737.9 L411.1,739.2 L411.5,740.3 L411.9,741.3 L412.3,742.1 L412.7,742.8 L413.1,743.3 L413.5,743.6 L413.9,743.7 L414.3,743.6 L414.7,743.5 L415.1,743.4 L415.5,743.2 L415.9,743.0 L416.3,742.7 L416.7,742.5 L417.1,742.2 L417.5,741.9 L417.9,741.6 L418.3,741.2 L418.7,740.8 L419.1,740.4 L419.5,739.9 L419.9,739.4 L420.3,738.9 L420.7,738.1 L421.1,737.0 L421.5,735.6 L421.9,734.0 L422.3,732.2 L422.7,730.4 L423.1,728.6 L423.5,727.0 L423.9,725.5 L424.3,724.3 L424.7,723.5 L425.1,723.1 L425.5,723.1 L425.9,723.6 L426.3,724.4 L426.7,725.5 L427.1,726.6 L427.5,727.7 L427.9,728.8 L428.3,729.6 L428.7,730.1 L429.1,730.1 L429.5,729.8 L429.9,729.2 L430.3,728.4 L430.7,727.4 L431.1,726.2 L431.5,725.0 L431.9,723.7 L432.3,722.4 L432.7,721.2 L433.1,720.0 L433.5,718.9 L433.9,718.0 L434.3,717.3 L434.7,716.8 L435.1,716.6 L435.5,716.7 L435.9,717.0 L436.3,717.5 L436.7,718.1 L437.1,719.0 L437.5,719.9 L437.9,720.9 L438.3,722.0 L438.7,723.2 L439.1,724.3 L439.5,725.5 L439.9,726.5 L440.3,727.5 L440.7,728.3 L441.1,728.9 L441.5,729.3 L441.9,729.5 L442.3,729.7 L442.7,729.9 L443.1,730.0 L443.5,730.2 L443.9,730.3 L444.3,730.4 L444.7,730.6 L445.1,730.7 L445.5,730.9 L445.9,731.0 L446.3,731.2 L446.7,731.3 L447.1,731.4 L447.5,731.5 L447.9,731.5 L448.3,731.5 L448.7,731.6 L449.1,731.6 L449.5,731.3 L449.9,730.8 L450.3,729.9 L450.7,728.8 L451.1,727.6 L451.5,726.2 L451.9,724.8 L452.3,723.4 L452.7,722.1 L453.1,721.0 L453.5,720.0 L453.9,719.3 L454.3,718.8 L454.7,718.3 L455.1,717.9 L455.5,717.5 L455.9,717.1 L456.3,716.7 L456.7,716.4 L457.1,716.1 L457.5,715.9 L457.9,715.8 L458.3,715.7 L458.7,715.7 L459.1,715.9 L459.5,716.4 L459.9,717.1 L460.3,718.0 L460.7,719.0 L461.1,720.1 L461.5,721.3 L461.9,722.4 L462.3,723.5 L462.7,724.6 L463.1,725.6 L463.5,726.5 L463.9,727.2 L464.3,727.8 L464.7,728.4 L465.1,728.9 L465.5,729.3 L465.9,729.7 L466.3,730.1 L466.7,730.4 L467.1,730.8 L467.5,731.1 L467.9,731.5 L468.3,732.0 L468.7,732.5 L469.1,733.0 L469.5,733.6 L469.9,734.2 L470.3,734.8 L470.7,735.5 L471.1,736.3 L471.5,737.2 L471.9,738.2 L472.3,739.1 L472.7,740.1 L473.1,741.1 L473.5,742.0 L473.9,742.8 L474.3,743.5 L474.7,744.0 L475.1,744.3 L475.5,744.3 L475.9,743.5 L476.3,742.3 L476.7,740.7 L477.1,738.9 L477.5,737.0 L477.9,735.3 L478.3,733.9 L478.7,733.0 L479.1,732.8 L479.5,733.1 L479.9,733.9 L480.3,734.9 L480.7,736.2 L481.1,737.6 L481.5,739.0 L481.9,740.3 L482.3,741.4 L482.7,742.3 L483.1,742.9 L483.5,743.5 L483.9,744.0 L484.3,744.6 L484.7,745.0 L485.1,745.5 L485.5,745.9 L485.9,746.3 L486.3,746.6 L486.7,746.9 L487.1,747.3 L487.5,747.6 L487.9,747.9 L488.3,748.3 L488.7,748.6 L489.1,749.0 L489.5,749.5 L489.9,750.1 L490.3,750.7 L490.7,751.3 L491.1,752.0 L491.5,752.7 L491.9,753.4 L492.3,754.1 L492.7,754.7 L493.1,755.3 L493.5,755.8 L493.9,756.2 L494.3,756.6 L494.7,756.9 L495.1,757.3 L495.5,757.5 L495.9,757.8 L496.3,758.0 L496.7,758.2 L497.1,758.3 L497.5,758.4 L497.9,758.4 L498.3,758.4 L498.7,758.4 L499.1,758.3 L499.5,758.3 L499.9,758.2 L500.3,758.2 L500.7,758.1 L501.1,758.1 L501.5,758.0 L501.9,758.0 L502.3,758.0 L502.7,758.1 L503.1,758.1 L503.5,758.2 L503.9,758.2 L504.3,758.3 L504.7,758.3 L505.1,758.3 L505.5,758.2 L505.9,758.1 L506.3,758.1 L506.7,758.0 L507.1,757.9 L507.5,757.8 L507.9,757.8 L508.3,757.7 L508.7,757.6 L509.1,757.5 L509.5,757.5 L509.9,757.4 L510.3,757.3 L510.7,757.3 L511.1,757.2 L511.5,757.2 L511.9,757.2 L512.3,757.1 L512.7,757.1 L513.1,757.1 L513.5,757.1 L513.9,757.1 L514.3,757.1 L514.7,757.1 L515.1,757.1 L515.5,757.1 L515.9,757.1 L516.3,757.1 L516.7,757.1 L517.1,757.1 L517.5,757.0 L517.9,757.0 L518.3,756.9 L518.7,756.8 L519.1,756.7 L519.5,756.7 L519.9,756.6 L520.3,756.6 L520.7,756.5 L521.1,756.5 L521.5,756.5 L521.9,756.4 L522.3,756.3 L522.7,756.2 L523.1,756.1 L523.5,756.0 L523.9,755.9 L524.3,755.7 L524.7,755.6 L525.1,755.5 L525.5,755.4 L525.9,755.4 L526.3,755.3 L526.7,755.2 L527.1,755.2 L527.5,755.1 L527.9,755.1 L528.3,755.0 L528.7,755.0 L529.1,755.0 L529.5,755.0 L529.9,755.1 L530.3,755.2 L530.7,755.3 L531.1,755.5 L531.5,755.6 L531.9,755.8 L532.3,756.0 L532.7,756.2 L533.1,756.4 L533.5,756.6 L533.9,756.8 L534.3,756.9 L534.7,757.1 L535.1,757.3 L535.5,757.5 L535.9,757.6 L536.3,757.7 L536.7,757.8 L537.1,757.8 L537.5,757.9 L537.9,757.9 L538.3,757.9 L538.7,757.9 L539.1,757.9 L539.5,758.0 L539.9,758.0 L540.3,758.1 L540.7,758.1 L541.1,758.2 L541.5,758.2 L541.9,758.0 L542.3,757.2 L542.7,756.1 L543.1,754.9 L543.5,753.7 L543.9,752.8 L544.3,752.3 L544.7,752.4 L545.1,752.9 L545.5,753.7 L545.9,754.7 L546.3,755.6 L546.7,756.4 L547.1,756.8 L547.5,756.9 L547.9,756.9 L548.3,756.9 L548.7,756.8 L549.1,756.7 L549.5,756.5 L549.9,756.3 L550.3,756.1 L550.7,756.0 L551.1,755.8 L551.5,755.6 L551.9,755.5 L552.3,755.4 L552.7,755.3 L553.1,755.3 L553.5,755.2 L553.9,755.2 L554.3,755.3 L554.7,755.4 L555.1,755.5 L555.5,755.7 L555.9,755.8 L556.3,756.0 L556.7,756.2 L557.1,756.4 L557.5,756.5 L557.9,756.7 L558.3,756.7 L558.7,756.8 L559.1,756.8 L559.5,756.8 L559.9,756.7 L560.3,756.7 L560.7,756.6 L561.1,756.4 L561.5,756.3 L561.9,756.1 L562.3,756.0 L562.7,755.9 L563.1,755.9 L563.5,755.8 L563.9,755.9 L564.3,755.9 L564.7,756.0 L565.1,756.1 L565.5,756.3 L565.9,756.4 L566.3,756.6 L566.7,756.8 L567.1,757.0 L567.5,757.3 L567.9,757.5 L568.3,757.8 L568.7,758.1" fill="none" stroke="#0a36c8" stroke-width="2.1" stroke-linejoin="round"/>
<path d="M39.9,830.5 L40.3,830.4 L40.7,830.4 L41.1,830.4 L41.5,830.4 L41.9,830.4 L42.3,830.5 L42.7,830.5 L43.1,830.6 L43.5,830.6 L43.9,830.6 L44.3,830.6 L44.7,830.5 L45.1,830.4 L45.5,830.4 L45.9,830.2 L46.3,830.1 L46.7,830.0 L47.1,829.9 L47.5,829.8 L47.9,829.7 L48.3,829.6 L48.7,829.5 L49.1,829.5 L49.5,829.4 L49.9,829.4 L50.3,829.4 L50.7,829.5 L51.1,829.6 L51.5,829.7 L51.9,829.8 L52.3,829.9 L52.7,830.0 L53.1,830.0 L53.5,830.0 L53.9,830.0 L54.3,830.0 L54.7,830.0 L55.1,830.0 L55.5,830.0 L55.9,830.0 L56.3,829.9 L56.7,829.9 L57.1,829.9 L57.5,829.9 L57.9,829.9 L58.3,829.8 L58.7,829.8 L59.1,829.7 L59.5,829.7 L59.9,829.6 L60.3,829.5 L60.7,829.5 L61.1,829.4 L61.5,829.4 L61.9,829.4 L62.3,829.4 L62.7,829.5 L63.1,829.5 L63.5,829.5 L63.9,829.5 L64.3,829.4 L64.7,829.3 L65.1,829.2 L65.5,829.2 L65.9,829.1 L66.3,829.0 L66.7,829.0 L67.1,829.0 L67.5,829.0 L67.9,829.0 L68.3,829.1 L68.7,829.1 L69.1,829.1 L69.5,829.1 L69.9,829.1 L70.3,829.0 L70.7,828.9 L71.1,828.7 L71.5,828.6 L71.9,828.4 L72.3,828.3 L72.7,828.2 L73.1,828.1 L73.5,828.1 L73.9,828.2 L74.3,828.3 L74.7,828.4 L75.1,828.5 L75.5,828.6 L75.9,828.7 L76.3,828.8 L76.7,828.9 L77.1,828.9 L77.5,828.9 L77.9,828.8 L78.3,828.7 L78.7,828.6 L79.1,828.5 L79.5,828.4 L79.9,828.3 L80.3,828.2 L80.7,828.1 L81.1,827.9 L81.5,827.8 L81.9,827.7 L82.3,827.6 L82.7,827.5 L83.1,827.4 L83.5,827.4 L83.9,827.3 L84.3,827.3 L84.7,827.3 L85.1,827.2 L85.5,827.2 L85.9,827.1 L86.3,827.0 L86.7,826.8 L87.1,826.7 L87.5,826.5 L87.9,826.2 L88.3,826.0 L88.7,825.7 L89.1,825.4 L89.5,824.9 L89.9,824.4 L90.3,823.8 L90.7,823.3 L91.1,822.8 L91.5,822.3 L91.9,821.8 L92.3,821.3 L92.7,820.6 L93.1,819.9 L93.5,819.2 L93.9,818.6 L94.3,818.0 L94.7,817.6 L95.1,817.1 L95.5,816.7 L95.9,816.3 L96.3,816.0 L96.7,815.8 L97.1,815.5 L97.5,815.4 L97.9,815.2 L98.3,815.2 L98.7,815.1 L99.1,815.1 L99.5,815.1 L99.9,815.0 L100.3,815.0 L100.7,814.9 L101.1,814.8 L101.5,814.7 L101.9,814.6 L102.3,814.6 L102.7,814.5 L103.1,814.5 L103.5,814.5 L103.9,814.6 L104.3,814.6 L104.7,814.7 L105.1,814.7 L105.5,814.8 L105.9,814.8 L106.3,814.7 L106.7,814.7 L107.1,814.6 L107.5,814.5 L107.9,814.4 L108.3,814.2 L108.7,814.0 L109.1,813.8 L109.5,813.6 L109.9,813.4 L110.3,813.3 L110.7,813.2 L111.1,813.1 L111.5,813.1 L111.9,813.1 L112.3,813.1 L112.7,813.2 L113.1,813.3 L113.5,813.3 L113.9,813.4 L114.3,813.3 L114.7,813.2 L115.1,813.0 L115.5,812.8 L115.9,812.5 L116.3,812.2 L116.7,811.9 L117.1,811.5 L117.5,811.2 L117.9,810.8 L118.3,810.5 L118.7,810.1 L119.1,809.8 L119.5,809.5 L119.9,809.2 L120.3,809.0 L120.7,808.8 L121.1,808.7 L121.5,808.7 L121.9,808.8 L122.3,808.9 L122.7,809.0 L123.1,809.1 L123.5,809.2 L123.9,809.2 L124.3,809.3 L124.7,809.4 L125.1,809.5 L125.5,809.6 L125.9,809.7 L126.3,809.8 L126.7,810.0 L127.1,810.1 L127.5,810.3 L127.9,810.4 L128.3,810.5 L128.7,810.6 L129.1,810.7 L129.5,810.7 L129.9,810.7 L130.3,810.6 L130.7,810.4 L131.1,810.2 L131.5,810.0 L131.9,809.9 L132.3,809.7 L132.7,809.6 L133.1,809.5 L133.5,809.4 L133.9,809.4 L134.3,809.3 L134.7,809.3 L135.1,809.3 L135.5,809.3 L135.9,809.2 L136.3,809.2 L136.7,809.2 L137.1,809.1 L137.5,809.1 L137.9,809.0 L138.3,809.0 L138.7,808.9 L139.1,808.9 L139.5,808.8 L139.9,808.7 L140.3,808.7 L140.7,808.7 L141.1,808.6 L141.5,808.7 L141.9,808.7 L142.3,808.8 L142.7,809.0 L143.1,809.2 L143.5,809.3 L143.9,809.5 L144.3,809.7 L144.7,809.8 L145.1,810.0 L145.5,810.1 L145.9,810.1 L146.3,810.2 L146.7,810.2 L147.1,810.3 L147.5,810.3 L147.9,810.3 L148.3,810.2 L148.7,810.1 L149.1,810.1 L149.5,810.0 L149.9,810.0 L150.3,809.9 L150.7,809.9 L151.1,809.8 L151.5,809.8 L151.9,809.8 L152.3,809.9 L152.7,809.9 L153.1,810.0 L153.5,810.1 L153.9,810.1 L154.3,810.2 L154.7,810.2 L155.1,810.2 L155.5,810.2 L155.9,810.1 L156.3,810.1 L156.7,810.0 L157.1,810.0 L157.5,810.0 L157.9,810.0 L158.3,809.9 L158.7,809.9 L159.1,809.9 L159.5,809.8 L159.9,809.8 L160.3,809.8 L160.7,809.8 L161.1,809.9 L161.5,809.9 L161.9,810.1 L162.3,810.3 L162.7,810.5 L163.1,810.7 L163.5,810.9 L163.9,811.2 L164.3,811.4 L164.7,811.6 L165.1,811.9 L165.5,812.1 L165.9,812.4 L166.3,812.6 L166.7,812.9 L167.1,813.2 L167.5,813.5 L167.9,813.8 L168.3,814.2 L168.7,814.5 L169.1,814.8 L169.5,815.2 L169.9,815.5 L170.3,815.8 L170.7,816.0 L171.1,816.2 L171.5,816.3 L171.9,816.4 L172.3,816.4 L172.7,816.3 L173.1,816.2 L173.5,816.0 L173.9,815.8 L174.3,815.7 L174.7,815.5 L175.1,815.4 L175.5,815.2 L175.9,815.1 L176.3,815.0 L176.7,815.0 L177.1,814.9 L177.5,814.9 L177.9,814.9 L178.3,814.9 L178.7,814.8 L179.1,814.8 L179.5,814.8 L179.9,814.8 L180.3,814.8 L180.7,814.7 L181.1,814.7 L181.5,814.7 L181.9,814.7 L182.3,814.7 L182.7,814.7 L183.1,814.7 L183.5,814.7 L183.9,814.8 L184.3,814.8 L184.7,814.9 L185.1,815.0 L185.5,815.1 L185.9,815.2 L186.3,815.4 L186.7,815.5 L187.1,815.7 L187.5,815.8 L187.9,815.9 L188.3,816.0 L188.7,816.0 L189.1,815.9 L189.5,815.5 L189.9,815.0 L190.3,814.4 L190.7,813.7 L191.1,812.8 L191.5,811.9 L191.9,810.9 L192.3,809.9 L192.7,808.9 L193.1,807.8 L193.5,806.8 L193.9,805.8 L194.3,804.9 L194.7,804.0 L195.1,803.2 L195.5,802.4 L195.9,801.7 L196.3,800.9 L196.7,800.0 L197.1,798.9 L197.5,797.8 L197.9,796.6 L198.3,795.5 L198.7,794.3 L199.1,793.2 L199.5,792.2 L199.9,791.3 L200.3,790.6 L200.7,789.9 L201.1,789.4 L201.5,789.1 L201.9,788.9 L202.3,789.1 L202.7,789.7 L203.1,790.7 L203.5,792.1 L203.9,793.7 L204.3,795.5 L204.7,797.4 L205.1,799.3 L205.5,801.0 L205.9,802.6 L206.3,803.8 L206.7,804.6 L207.1,804.8 L207.5,804.8 L207.9,804.7 L208.3,804.6 L208.7,804.5 L209.1,804.3 L209.5,804.2 L209.9,804.0 L210.3,803.9 L210.7,803.8 L211.1,803.7 L211.5,803.7 L211.9,803.7 L212.3,803.9 L212.7,804.3 L213.1,805.0 L213.5,805.9 L213.9,806.9 L214.3,808.1 L214.7,809.2 L215.1,810.4 L215.5,811.5 L215.9,812.6 L216.3,813.5 L216.7,814.2 L217.1,814.7 L217.5,815.1 L217.9,815.6 L218.3,816.0 L218.7,816.5 L219.1,816.9 L219.5,817.4 L219.9,817.8 L220.3,818.2 L220.7,818.6 L221.1,818.9 L221.5,819.2 L221.9,819.5 L222.3,819.8 L222.7,820.0 L223.1,820.2 L223.5,820.3 L223.9,820.5 L224.3,820.6 L224.7,820.7 L225.1,820.9 L225.5,821.1 L225.9,821.3 L226.3,821.4 L226.7,821.6 L227.1,821.8 L227.5,822.0 L227.9,822.1 L228.3,822.2 L228.7,822.2 L229.1,822.3 L229.5,822.3 L229.9,822.3 L230.3,822.2 L230.7,822.2 L231.1,822.2 L231.5,822.3 L231.9,822.3 L232.3,822.4 L232.7,822.4 L233.1,822.5 L233.5,822.6 L233.9,822.7 L234.3,822.8 L234.7,822.9 L235.1,823.1 L235.5,823.2 L235.9,823.4 L236.3,823.6 L236.7,823.8 L237.1,824.0 L237.5,824.1 L237.9,824.2 L238.3,824.3 L238.7,824.3 L239.1,824.3 L239.5,824.2 L239.9,824.2 L240.3,824.1 L240.7,824.0 L241.1,824.0 L241.5,824.0 L241.9,824.0 L242.3,824.1 L242.7,824.2 L243.1,824.3 L243.5,824.4 L243.9,824.5 L244.3,824.6 L244.7,824.7 L245.1,824.8 L245.5,825.0 L245.9,825.1 L246.3,825.2 L246.7,825.4 L247.1,825.5 L247.5,825.6 L247.9,825.7 L248.3,825.7 L248.7,825.6 L249.1,825.6 L249.5,825.5 L249.9,825.4 L250.3,825.2 L250.7,825.1 L251.1,825.0 L251.5,824.9 L251.9,824.8 L252.3,824.8 L252.7,824.7 L253.1,824.7 L253.5,824.7 L253.9,824.7 L254.3,824.7 L254.7,824.7 L255.1,824.8 L255.5,824.8 L255.9,824.8 L256.3,824.9 L256.7,824.9 L257.1,825.0 L257.5,825.1 L257.9,825.2 L258.3,825.3 L258.7,825.4 L259.1,825.5 L259.5,825.6 L259.9,825.7 L260.3,825.8 L260.7,826.0 L261.1,826.1 L261.5,826.2 L261.9,826.2 L262.3,826.3 L262.7,826.3 L263.1,826.4 L263.5,826.4 L263.9,826.4 L264.3,826.5 L264.7,826.5 L265.1,826.6 L265.5,826.6 L265.9,826.7 L266.3,826.7 L266.7,826.6 L267.1,826.6 L267.5,826.5 L267.9,826.5 L268.3,826.4 L268.7,826.4 L269.1,826.3 L269.5,826.3 L269.9,826.3 L270.3,826.3 L270.7,826.4 L271.1,826.5 L271.5,826.5 L271.9,826.6 L272.3,826.7 L272.7,826.8 L273.1,826.9 L273.5,826.9 L273.9,827.0 L274.3,827.0 L274.7,827.1 L275.1,827.3 L275.5,827.4 L275.9,827.5 L276.3,827.7 L276.7,827.8 L277.1,827.9 L277.5,828.0 L277.9,828.1 L278.3,828.1 L278.7,828.0 L279.1,828.0 L279.5,827.8 L279.9,827.7 L280.3,827.6 L280.7,827.5 L281.1,827.4 L281.5,827.4 L281.9,827.4 L282.3,827.4 L282.7,827.4 L283.1,827.5 L283.5,827.4 L283.9,827.4 L284.3,827.4 L284.7,827.4 L285.1,827.3 L285.5,827.3 L285.9,827.3 L286.3,827.3 L286.7,827.3 L287.1,827.3 L287.5,827.4 L287.9,827.5 L288.3,827.6 L288.7,827.7 L289.1,827.8 L289.5,827.9 L289.9,827.9 L290.3,827.8 L290.7,827.8 L291.1,827.7 L291.5,827.6 L291.9,827.5 L292.3,827.5 L292.7,827.4 L293.1,827.4 L293.5,827.5 L293.9,827.6 L294.3,827.6 L294.7,827.7 L295.1,827.8 L295.5,827.9 L295.9,828.0 L296.3,828.1 L296.7,828.1 L297.1,828.2 L297.5,828.3 L297.9,828.4 L298.3,828.5 L298.7,828.7 L299.1,828.8 L299.5,828.9 L299.9,828.9 L300.3,828.8 L300.7,828.5 L301.1,828.0 L301.5,827.4 L301.9,826.7 L302.3,826.0 L302.7,824.8 L303.1,821.9 L303.5,817.8 L303.9,813.1 L304.3,808.6 L304.7,805.0 L305.1,802.9 L305.5,803.0 L305.9,805.1 L306.3,808.5 L306.7,812.6 L307.1,816.9 L307.5,820.7 L307.9,823.4 L308.3,824.5 L308.7,824.8 L309.1,825.0 L309.5,825.2 L309.9,825.4 L310.3,825.6 L310.7,825.7 L311.1,825.9 L311.5,826.2 L311.9,826.4 L312.3,826.7 L312.7,826.9 L313.1,827.2 L313.5,827.5 L313.9,827.7 L314.3,827.9 L314.7,828.1 L315.1,828.2 L315.5,828.4 L315.9,828.5 L316.3,828.6 L316.7,828.7 L317.1,828.8 L317.5,829.0 L317.9,829.1 L318.3,829.2 L318.7,829.4 L319.1,829.5 L319.5,829.7 L319.9,829.9 L320.3,830.1 L320.7,830.2 L321.1,830.4 L321.5,830.5 L321.9,830.7 L322.3,830.8 L322.7,831.0 L323.1,831.1 L323.5,831.2 L323.9,831.3 L324.3,831.4 L324.7,831.5 L325.1,831.5 L325.5,831.6 L325.9,831.6 L326.3,831.6 L326.7,831.6 L327.1,831.6 L327.5,831.6 L327.9,831.6 L328.3,831.6 L328.7,831.7 L329.1,831.7 L329.5,831.8 L329.9,831.8 L330.3,831.9 L330.7,831.9 L331.1,831.9 L331.5,831.9 L331.9,832.0 L332.3,832.0 L332.7,832.1 L333.1,832.2 L333.5,832.2 L333.9,832.3 L334.3,832.4 L334.7,832.4 L335.1,832.5 L335.5,832.5 L335.9,832.6 L336.3,832.6 L336.7,832.6 L337.1,832.5 L337.5,832.5 L337.9,832.3 L338.3,832.2 L338.7,832.0 L339.1,831.8 L339.5,831.6 L339.9,831.4 L340.3,831.2 L340.7,831.1 L341.1,830.9 L341.5,830.8 L341.9,830.7 L342.3,830.7 L342.7,830.6 L343.1,830.6 L343.5,830.7 L343.9,830.7 L344.3,830.9 L344.7,831.0 L345.1,831.2 L345.5,831.4 L345.9,831.6 L346.3,831.7 L346.7,831.9 L347.1,832.0 L347.5,832.0 L347.9,832.1 L348.3,832.1 L348.7,832.2 L349.1,832.2 L349.5,832.3 L349.9,832.4 L350.3,832.4 L350.7,832.5 L351.1,832.6 L351.5,832.6 L351.9,832.7 L352.3,832.7 L352.7,832.7 L353.1,832.8 L353.5,832.8 L353.9,832.8 L354.3,832.8 L354.7,832.8 L355.1,832.8 L355.5,832.8 L355.9,832.9 L356.3,832.9 L356.7,833.0 L357.1,833.1 L357.5,833.2 L357.9,833.3 L358.3,833.5 L358.7,833.6 L359.1,833.7 L359.5,833.8 L359.9,833.8 L360.3,833.8 L360.7,833.8 L361.1,833.8 L361.5,833.8 L361.9,833.7 L362.3,833.7 L362.7,833.7 L363.1,833.7 L363.5,833.7 L363.9,833.8 L364.3,833.8 L364.7,833.9 L365.1,833.9 L365.5,833.9 L365.9,833.9 L366.3,833.9 L366.7,833.9 L367.1,833.8 L367.5,833.7 L367.9,833.6 L368.3,833.5 L368.7,833.4 L369.1,833.3 L369.5,833.2 L369.9,833.1 L370.3,833.0 L370.7,832.8 L371.1,832.6 L371.5,832.3 L371.9,832.0 L372.3,831.6 L372.7,831.1 L373.1,830.6 L373.5,830.1 L373.9,829.5 L374.3,829.0 L374.7,828.4 L375.1,827.7 L375.5,827.0 L375.9,826.2 L376.3,825.3 L376.7,824.4 L377.1,823.3 L377.5,822.2 L377.9,821.0 L378.3,819.7 L378.7,818.4 L379.1,816.9 L379.5,814.9 L379.9,812.4 L380.3,809.5 L380.7,806.7 L381.1,804.2 L381.5,802.2 L381.9,801.1 L382.3,800.8 L382.7,800.6 L383.1,800.5 L383.5,800.5 L383.9,800.4 L384.3,800.3 L384.7,800.0 L385.1,799.4 L385.5,798.6 L385.9,797.4 L386.3,796.1 L386.7,794.5 L387.1,792.7 L387.5,790.8 L387.9,788.8 L388.3,786.7 L388.7,784.5 L389.1,782.2 L389.5,779.3 L389.9,775.6 L390.3,771.4 L390.7,767.0 L391.1,762.7 L391.5,758.8 L391.9,755.6 L392.3,753.4 L392.7,752.4 L393.1,752.9 L393.5,754.7 L393.9,757.3 L394.3,760.4 L394.7,763.6 L395.1,766.5 L395.5,768.8 L395.9,771.1 L396.3,773.4 L396.7,775.6 L397.1,777.8 L397.5,779.9 L397.9,782.0 L398.3,783.9 L398.7,785.8 L399.1,787.5 L399.5,789.2 L399.9,790.9 L400.3,792.5 L400.7,794.2 L401.1,795.8 L401.5,797.3 L401.9,798.8 L402.3,800.2 L402.7,801.7 L403.1,803.0 L403.5,804.3 L403.9,805.7 L404.3,806.9 L404.7,808.2 L405.1,809.4 L405.5,810.6 L405.9,811.7 L406.3,812.8 L406.7,813.8 L407.1,814.8 L407.5,815.9 L407.9,817.0 L408.3,818.2 L408.7,819.3 L409.1,820.4 L409.5,821.4 L409.9,822.5 L410.3,823.5 L410.7,824.3 L411.1,825.1 L411.5,825.7 L411.9,826.2 L412.3,826.4 L412.7,826.4 L413.1,826.3 L413.5,826.1 L413.9,825.9 L414.3,825.7 L414.7,825.5 L415.1,825.3 L415.5,825.1 L415.9,824.9 L416.3,824.6 L416.7,824.4 L417.1,824.1 L417.5,823.8 L417.9,823.4 L418.3,823.0 L418.7,822.6 L419.1,822.2 L419.5,821.3 L419.9,819.9 L420.3,818.2 L420.7,816.3 L421.1,814.2 L421.5,812.2 L421.9,810.3 L422.3,808.4 L422.7,806.2 L423.1,803.8 L423.5,801.4 L423.9,799.2 L424.3,797.3 L424.7,795.9 L425.1,795.2 L425.5,795.4 L425.9,796.5 L426.3,798.4 L426.7,800.8 L427.1,803.4 L427.5,806.1 L427.9,808.4 L428.3,810.3 L428.7,811.5 L429.1,811.7 L429.5,811.4 L429.9,810.8 L430.3,810.0 L430.7,809.0 L431.1,807.8 L431.5,806.5 L431.9,805.2 L432.3,803.8 L432.7,802.4 L433.1,801.2 L433.5,800.0 L433.9,799.0 L434.3,798.2 L434.7,797.7 L435.1,797.4 L435.5,797.4 L435.9,797.6 L436.3,797.9 L436.7,798.3 L437.1,798.8 L437.5,799.4 L437.9,800.1 L438.3,800.8 L438.7,801.6 L439.1,802.4 L439.5,803.2 L439.9,804.0 L440.3,804.8 L440.7,805.7 L441.1,807.0 L441.5,808.4 L441.9,809.9 L442.3,811.4 L442.7,812.8 L443.1,814.0 L443.5,815.0 L443.9,815.5 L444.3,815.7 L444.7,815.9 L445.1,816.2 L445.5,816.4 L445.9,816.6 L446.3,816.9 L446.7,817.1 L447.1,817.3 L447.5,817.5 L447.9,817.7 L448.3,817.8 L448.7,817.9 L449.1,817.9 L449.5,817.9 L449.9,817.9 L450.3,817.9 L450.7,817.4 L451.1,816.2 L451.5,814.6 L451.9,812.5 L452.3,810.2 L452.7,807.8 L453.1,805.5 L453.5,803.5 L453.9,801.7 L454.3,800.4 L454.7,798.9 L455.1,797.4 L455.5,795.9 L455.9,794.5 L456.3,793.1 L456.7,791.8 L457.1,790.7 L457.5,789.9 L457.9,789.2 L458.3,788.9 L458.7,788.9 L459.1,789.2 L459.5,789.7 L459.9,790.5 L460.3,791.4 L460.7,792.5 L461.1,793.8 L461.5,795.0 L461.9,796.4 L462.3,797.7 L462.7,799.0 L463.1,800.3 L463.5,801.5 L463.9,802.6 L464.3,803.8 L464.7,804.9 L465.1,806.2 L465.5,807.5 L465.9,808.9 L466.3,810.3 L466.7,811.6 L467.1,812.9 L467.5,814.2 L467.9,815.3 L468.3,816.4 L468.7,817.3 L469.1,818.0 L469.5,818.8 L469.9,819.5 L470.3,820.3 L470.7,821.0 L471.1,821.6 L471.5,822.2 L471.9,822.7 L472.3,823.1 L472.7,823.3 L473.1,823.5 L473.5,823.6 L473.9,823.3 L474.3,822.4 L474.7,821.2 L475.1,819.6 L475.5,817.8 L475.9,815.9 L476.3,813.9 L476.7,812.0 L477.1,810.3 L477.5,808.8 L477.9,807.8 L478.3,807.2 L478.7,807.2 L479.1,807.5 L479.5,808.1 L479.9,808.8 L480.3,809.6 L480.7,810.5 L481.1,811.4 L481.5,812.2 L481.9,813.0 L482.3,813.7 L482.7,814.2 L483.1,814.6 L483.5,814.9 L483.9,815.2 L484.3,815.5 L484.7,815.8 L485.1,816.1 L485.5,816.3 L485.9,816.5 L486.3,816.8 L486.7,817.0 L487.1,817.2 L487.5,817.4 L487.9,817.6 L488.3,817.9 L488.7,818.2 L489.1,818.6 L489.5,819.2 L489.9,820.0 L490.3,821.1 L490.7,822.3 L491.1,823.6 L491.5,825.0 L491.9,826.3 L492.3,827.5 L492.7,828.6 L493.1,829.5 L493.5,830.2 L493.9,830.6 L494.3,830.9 L494.7,831.1 L495.1,831.3 L495.5,831.5 L495.9,831.7 L496.3,831.8 L496.7,831.9 L497.1,831.9 L497.5,831.9 L497.9,831.9 L498.3,831.8 L498.7,831.7 L499.1,831.6 L499.5,831.5 L499.9,831.4 L500.3,831.3 L500.7,831.3 L501.1,831.2 L501.5,831.2 L501.9,831.2 L502.3,831.2 L502.7,831.3 L503.1,831.4 L503.5,831.5 L503.9,831.6 L504.3,831.8 L504.7,832.0 L505.1,832.2 L505.5,832.4 L505.9,832.7 L506.3,832.9 L506.7,833.2 L507.1,833.4 L507.5,833.6 L507.9,833.7 L508.3,833.7 L508.7,833.7 L509.1,833.7 L509.5,833.6 L509.9,833.5 L510.3,833.4 L510.7,833.3 L511.1,833.2 L511.5,833.0 L511.9,832.9 L512.3,832.8 L512.7,832.7 L513.1,832.7 L513.5,832.7 L513.9,832.7 L514.3,832.7 L514.7,832.7 L515.1,832.7 L515.5,832.7 L515.9,832.6 L516.3,832.6 L516.7,832.6 L517.1,832.6 L517.5,832.6 L517.9,832.6 L518.3,832.6 L518.7,832.7 L519.1,832.7 L519.5,832.8 L519.9,832.8 L520.3,832.8 L520.7,832.8 L521.1,832.8 L521.5,832.8 L521.9,832.8 L522.3,832.7 L522.7,832.7 L523.1,832.7 L523.5,832.6 L523.9,832.6 L524.3,832.6 L524.7,832.5 L525.1,832.4 L525.5,832.2 L525.9,832.0 L526.3,831.8 L526.7,831.6 L527.1,831.5 L527.5,831.3 L527.9,831.1 L528.3,831.0 L528.7,831.0 L529.1,831.1 L529.5,831.3 L529.9,831.5 L530.3,831.8 L530.7,832.0 L531.1,832.3 L531.5,832.6 L531.9,832.9 L532.3,833.1 L532.7,833.3 L533.1,833.4 L533.5,833.5 L533.9,833.6 L534.3,833.7 L534.7,833.9 L535.1,834.1 L535.5,834.3 L535.9,834.5 L536.3,834.7 L536.7,834.9 L537.1,835.0 L537.5,835.0 L537.9,834.9 L538.3,834.8 L538.7,834.7 L539.1,834.5 L539.5,834.4 L539.9,834.2 L540.3,834.1 L540.7,834.0 L541.1,833.9 L541.5,833.4 L541.9,832.6 L542.3,831.7 L542.7,830.7 L543.1,829.8 L543.5,828.9 L543.9,828.3 L544.3,828.0 L544.7,828.3 L545.1,829.3 L545.5,830.6 L545.9,831.9 L546.3,832.7 L546.7,832.7 L547.1,832.7 L547.5,832.5 L547.9,832.4 L548.3,832.3 L548.7,832.2 L549.1,832.1 L549.5,832.0 L549.9,832.0 L550.3,831.9 L550.7,831.9 L551.1,831.9 L551.5,831.8 L551.9,831.7 L552.3,831.7 L552.7,831.6 L553.1,831.5 L553.5,831.5 L553.9,831.4 L554.3,831.4 L554.7,831.3 L555.1,831.3 L555.5,831.3 L555.9,831.3 L556.3,831.3 L556.7,831.3 L557.1,831.3 L557.5,831.3 L557.9,831.2 L558.3,831.2 L558.7,831.1 L559.1,831.0 L559.5,830.9 L559.9,830.7 L560.3,830.6 L560.7,830.5 L561.1,830.3 L561.5,830.2 L561.9,830.1 L562.3,830.1 L562.7,830.0 L563.1,829.9 L563.5,829.9 L563.9,830.0 L564.3,830.2 L564.7,830.4 L565.1,830.7 L565.5,831.1 L565.9,831.5 L566.3,831.9 L566.7,832.3 L567.1,832.8 L567.5,833.2 L567.9,833.7 L568.3,834.1 L568.7,834.6" fill="none" stroke="#fdbb08" stroke-width="2.1" stroke-linejoin="round"/>
<path d="M39.9,899.7 L40.3,899.6 L40.7,899.5 L41.1,899.4 L41.5,899.3 L41.9,899.2 L42.3,899.2 L42.7,899.3 L43.1,899.3 L43.5,899.4 L43.9,899.5 L44.3,899.7 L44.7,899.8 L45.1,900.0 L45.5,900.3 L45.9,900.5 L46.3,900.8 L46.7,901.0 L47.1,901.2 L47.5,901.3 L47.9,901.3 L48.3,901.2 L48.7,901.0 L49.1,900.9 L49.5,900.7 L49.9,900.6 L50.3,900.5 L50.7,900.4 L51.1,900.3 L51.5,900.3 L51.9,900.3 L52.3,900.4 L52.7,900.5 L53.1,900.6 L53.5,900.7 L53.9,900.9 L54.3,901.1 L54.7,901.2 L55.1,901.5 L55.5,901.7 L55.9,902.0 L56.3,902.3 L56.7,902.5 L57.1,902.7 L57.5,902.9 L57.9,903.1 L58.3,903.2 L58.7,903.3 L59.1,903.3 L59.5,903.3 L59.9,903.2 L60.3,903.1 L60.7,902.9 L61.1,902.7 L61.5,902.5 L61.9,902.3 L62.3,902.3 L62.7,902.3 L63.1,902.4 L63.5,902.6 L63.9,902.8 L64.3,903.1 L64.7,903.3 L65.1,903.5 L65.5,903.7 L65.9,903.9 L66.3,904.1 L66.7,904.3 L67.1,904.6 L67.5,904.9 L67.9,905.2 L68.3,905.6 L68.7,906.0 L69.1,906.3 L69.5,906.7 L69.9,907.1 L70.3,907.6 L70.7,907.9 L71.1,908.3 L71.5,908.5 L71.9,908.6 L72.3,908.6 L72.7,908.4 L73.1,908.1 L73.5,907.7 L73.9,907.2 L74.3,906.7 L74.7,906.2 L75.1,905.6 L75.5,905.0 L75.9,904.5 L76.3,904.0 L76.7,903.6 L77.1,903.3 L77.5,903.0 L77.9,902.8 L78.3,902.6 L78.7,902.5 L79.1,902.6 L79.5,902.7 L79.9,903.0 L80.3,903.3 L80.7,903.6 L81.1,904.0 L81.5,904.4 L81.9,904.9 L82.3,905.4 L82.7,905.9 L83.1,906.4 L83.5,906.8 L83.9,907.2 L84.3,907.5 L84.7,907.7 L85.1,907.8 L85.5,907.8 L85.9,907.7 L86.3,907.4 L86.7,907.1 L87.1,906.7 L87.5,906.2 L87.9,905.8 L88.3,905.3 L88.7,904.9 L89.1,904.4 L89.5,904.1 L89.9,903.7 L90.3,903.3 L90.7,903.0 L91.1,902.6 L91.5,902.2 L91.9,901.8 L92.3,901.4 L92.7,901.1 L93.1,900.8 L93.5,900.6 L93.9,900.4 L94.3,900.4 L94.7,900.3 L95.1,900.3 L95.5,900.3 L95.9,900.1 L96.3,900.0 L96.7,899.8 L97.1,899.6 L97.5,899.3 L97.9,899.0 L98.3,898.7 L98.7,898.5 L99.1,898.4 L99.5,898.4 L99.9,898.5 L100.3,898.5 L100.7,898.6 L101.1,898.5 L101.5,898.4 L101.9,898.3 L102.3,898.1 L102.7,898.0 L103.1,898.1 L103.5,898.3 L103.9,898.6 L104.3,898.8 L104.7,899.0 L105.1,899.1 L105.5,899.0 L105.9,898.8 L106.3,898.6 L106.7,898.3 L107.1,898.0 L107.5,897.7 L107.9,897.5 L108.3,897.4 L108.7,897.4 L109.1,897.5 L109.5,897.7 L109.9,898.0 L110.3,898.2 L110.7,898.4 L111.1,898.6 L111.5,898.7 L111.9,898.7 L112.3,898.7 L112.7,898.5 L113.1,898.3 L113.5,898.1 L113.9,897.9 L114.3,897.7 L114.7,897.6 L115.1,897.5 L115.5,897.4 L115.9,897.4 L116.3,897.4 L116.7,897.4 L117.1,897.4 L117.5,897.3 L117.9,897.2 L118.3,897.1 L118.7,897.0 L119.1,896.9 L119.5,896.8 L119.9,896.8 L120.3,896.7 L120.7,896.7 L121.1,896.6 L121.5,896.6 L121.9,896.6 L122.3,896.6 L122.7,896.6 L123.1,896.6 L123.5,896.6 L123.9,896.7 L124.3,896.8 L124.7,896.9 L125.1,897.1 L125.5,897.3 L125.9,897.5 L126.3,897.8 L126.7,898.0 L127.1,898.3 L127.5,898.5 L127.9,898.7 L128.3,898.9 L128.7,899.0 L129.1,899.2 L129.5,899.3 L129.9,899.5 L130.3,899.6 L130.7,899.7 L131.1,899.8 L131.5,899.8 L131.9,899.8 L132.3,899.8 L132.7,899.7 L133.1,899.6 L133.5,899.6 L133.9,899.6 L134.3,899.7 L134.7,899.7 L135.1,899.8 L135.5,899.8 L135.9,899.8 L136.3,899.8 L136.7,899.7 L137.1,899.6 L137.5,899.4 L137.9,899.3 L138.3,899.3 L138.7,899.4 L139.1,899.4 L139.5,899.5 L139.9,899.7 L140.3,899.9 L140.7,900.1 L141.1,900.3 L141.5,900.4 L141.9,900.4 L142.3,900.3 L142.7,900.2 L143.1,899.9 L143.5,899.5 L143.9,899.0 L144.3,898.6 L144.7,898.2 L145.1,897.8 L145.5,897.5 L145.9,897.4 L146.3,897.3 L146.7,897.4 L147.1,897.4 L147.5,897.5 L147.9,897.6 L148.3,897.7 L148.7,897.9 L149.1,898.0 L149.5,898.2 L149.9,898.4 L150.3,898.6 L150.7,898.8 L151.1,899.2 L151.5,899.5 L151.9,899.8 L152.3,900.1 L152.7,900.5 L153.1,900.7 L153.5,900.9 L153.9,901.0 L154.3,901.0 L154.7,901.0 L155.1,900.9 L155.5,900.8 L155.9,900.7 L156.3,900.5 L156.7,900.5 L157.1,900.4 L157.5,900.5 L157.9,900.6 L158.3,900.7 L158.7,900.9 L159.1,901.0 L159.5,901.1 L159.9,901.1 L160.3,901.1 L160.7,901.1 L161.1,901.0 L161.5,900.9 L161.9,900.7 L162.3,900.6 L162.7,900.5 L163.1,900.5 L163.5,900.6 L163.9,900.8 L164.3,901.1 L164.7,901.5 L165.1,902.0 L165.5,902.5 L165.9,902.9 L166.3,903.3 L166.7,903.5 L167.1,903.5 L167.5,903.3 L167.9,903.1 L168.3,902.8 L168.7,902.5 L169.1,902.2 L169.5,902.0 L169.9,901.9 L170.3,901.8 L170.7,901.8 L171.1,901.8 L171.5,901.9 L171.9,901.9 L172.3,901.9 L172.7,902.0 L173.1,902.0 L173.5,902.0 L173.9,902.1 L174.3,902.1 L174.7,902.1 L175.1,902.1 L175.5,902.0 L175.9,901.9 L176.3,901.8 L176.7,901.6 L177.1,901.6 L177.5,901.6 L177.9,901.6 L178.3,901.7 L178.7,901.8 L179.1,902.0 L179.5,902.1 L179.9,902.2 L180.3,902.2 L180.7,902.2 L181.1,902.2 L181.5,902.2 L181.9,902.2 L182.3,902.2 L182.7,902.3 L183.1,902.3 L183.5,902.3 L183.9,902.3 L184.3,902.2 L184.7,902.2 L185.1,902.1 L185.5,901.9 L185.9,901.8 L186.3,901.6 L186.7,901.5 L187.1,901.3 L187.5,901.1 L187.9,900.8 L188.3,900.5 L188.7,900.1 L189.1,899.8 L189.5,899.3 L189.9,898.8 L190.3,898.3 L190.7,897.7 L191.1,897.1 L191.5,896.4 L191.9,895.6 L192.3,894.8 L192.7,893.9 L193.1,893.1 L193.5,892.2 L193.9,891.3 L194.3,890.4 L194.7,889.5 L195.1,888.3 L195.5,887.0 L195.9,885.5 L196.3,883.8 L196.7,882.0 L197.1,880.0 L197.5,878.0 L197.9,875.8 L198.3,873.6 L198.7,871.4 L199.1,869.2 L199.5,867.1 L199.9,864.7 L200.3,861.7 L200.7,858.6 L201.1,855.5 L201.5,852.6 L201.9,850.3 L202.3,848.6 L202.7,847.9 L203.1,848.3 L203.5,849.4 L203.9,851.1 L204.3,853.3 L204.7,855.8 L205.1,858.6 L205.5,861.4 L205.9,864.2 L206.3,866.7 L206.7,869.0 L207.1,871.6 L207.5,874.4 L207.9,877.3 L208.3,879.9 L208.7,882.0 L209.1,883.4 L209.5,883.9 L209.9,883.7 L210.3,883.2 L210.7,882.5 L211.1,881.7 L211.5,880.9 L211.9,880.1 L212.3,879.4 L212.7,878.8 L213.1,878.5 L213.5,878.7 L213.9,880.2 L214.3,882.6 L214.7,885.7 L215.1,889.0 L215.5,892.3 L215.9,895.1 L216.3,897.0 L216.7,897.9 L217.1,898.6 L217.5,899.2 L217.9,899.7 L218.3,900.2 L218.7,900.6 L219.1,900.8 L219.5,901.1 L219.9,901.3 L220.3,901.5 L220.7,901.6 L221.1,901.8 L221.5,901.9 L221.9,901.9 L222.3,902.0 L222.7,902.1 L223.1,902.3 L223.5,902.4 L223.9,902.6 L224.3,902.8 L224.7,903.0 L225.1,903.2 L225.5,903.3 L225.9,903.5 L226.3,903.6 L226.7,903.7 L227.1,903.7 L227.5,903.8 L227.9,903.8 L228.3,903.7 L228.7,903.7 L229.1,903.6 L229.5,903.5 L229.9,903.5 L230.3,903.4 L230.7,903.4 L231.1,903.4 L231.5,903.5 L231.9,903.6 L232.3,903.7 L232.7,903.9 L233.1,904.0 L233.5,904.1 L233.9,904.2 L234.3,904.2 L234.7,904.3 L235.1,904.3 L235.5,904.4 L235.9,904.4 L236.3,904.4 L236.7,904.4 L237.1,904.4 L237.5,904.4 L237.9,904.4 L238.3,904.4 L238.7,904.4 L239.1,904.4 L239.5,904.5 L239.9,904.5 L240.3,904.6 L240.7,904.6 L241.1,904.6 L241.5,904.6 L241.9,904.6 L242.3,904.6 L242.7,904.5 L243.1,904.4 L243.5,904.2 L243.9,904.1 L244.3,903.9 L244.7,903.8 L245.1,903.7 L245.5,903.7 L245.9,903.7 L246.3,903.8 L246.7,903.8 L247.1,903.9 L247.5,903.9 L247.9,903.9 L248.3,903.9 L248.7,903.9 L249.1,903.8 L249.5,903.7 L249.9,903.6 L250.3,903.6 L250.7,903.5 L251.1,903.5 L251.5,903.6 L251.9,903.6 L252.3,903.7 L252.7,903.8 L253.1,903.8 L253.5,903.9 L253.9,904.0 L254.3,904.0 L254.7,904.0 L255.1,904.1 L255.5,904.1 L255.9,904.1 L256.3,904.1 L256.7,904.0 L257.1,904.0 L257.5,903.9 L257.9,903.8 L258.3,903.8 L258.7,903.7 L259.1,903.7 L259.5,903.8 L259.9,903.8 L260.3,903.9 L260.7,904.0 L261.1,904.1 L261.5,904.1 L261.9,904.2 L262.3,904.2 L262.7,904.2 L263.1,904.2 L263.5,904.2 L263.9,904.2 L264.3,904.2 L264.7,904.2 L265.1,904.1 L265.5,904.1 L265.9,904.1 L266.3,904.0 L266.7,903.9 L267.1,903.8 L267.5,903.7 L267.9,903.6 L268.3,903.6 L268.7,903.5 L269.1,903.5 L269.5,903.5 L269.9,903.5 L270.3,903.5 L270.7,903.6 L271.1,903.6 L271.5,903.6 L271.9,903.6 L272.3,903.6 L272.7,903.6 L273.1,903.6 L273.5,903.7 L273.9,903.7 L274.3,903.8 L274.7,903.9 L275.1,903.9 L275.5,904.0 L275.9,904.1 L276.3,904.1 L276.7,904.1 L277.1,904.1 L277.5,904.1 L277.9,904.0 L278.3,903.9 L278.7,903.8 L279.1,903.8 L279.5,903.7 L279.9,903.7 L280.3,903.7 L280.7,903.7 L281.1,903.7 L281.5,903.7 L281.9,903.7 L282.3,903.7 L282.7,903.6 L283.1,903.5 L283.5,903.2 L283.9,903.0 L284.3,902.7 L284.7,902.4 L285.1,902.0 L285.5,901.7 L285.9,901.3 L286.3,901.0 L286.7,900.7 L287.1,900.5 L287.5,900.3 L287.9,900.1 L288.3,900.0 L288.7,899.8 L289.1,899.7 L289.5,899.5 L289.9,899.4 L290.3,899.3 L290.7,899.3 L291.1,899.2 L291.5,899.2 L291.9,899.2 L292.3,899.2 L292.7,899.2 L293.1,899.2 L293.5,899.3 L293.9,899.5 L294.3,899.7 L294.7,899.9 L295.1,900.1 L295.5,900.3 L295.9,900.5 L296.3,900.6 L296.7,900.7 L297.1,900.8 L297.5,901.0 L297.9,901.1 L298.3,901.3 L298.7,901.5 L299.1,901.7 L299.5,902.0 L299.9,902.3 L300.3,902.6 L300.7,902.9 L301.1,903.2 L301.5,903.5 L301.9,903.7 L302.3,902.4 L302.7,897.1 L303.1,888.8 L303.5,878.8 L303.9,868.3 L304.3,858.7 L304.7,851.2 L305.1,847.0 L305.5,847.1 L305.9,850.2 L306.3,855.4 L306.7,862.1 L307.1,869.6 L307.5,877.1 L307.9,884.1 L308.3,889.9 L308.7,893.7 L309.1,895.0 L309.5,895.4 L309.9,895.7 L310.3,896.0 L310.7,896.3 L311.1,896.5 L311.5,896.7 L311.9,896.8 L312.3,896.9 L312.7,896.9 L313.1,897.0 L313.5,896.9 L313.9,896.5 L314.3,895.9 L314.7,895.1 L315.1,894.1 L315.5,893.2 L315.9,892.3 L316.3,891.6 L316.7,891.1 L317.1,890.9 L317.5,891.0 L317.9,891.4 L318.3,891.9 L318.7,892.5 L319.1,893.2 L319.5,894.0 L319.9,894.7 L320.3,895.4 L320.7,896.0 L321.1,896.6 L321.5,897.2 L321.9,897.9 L322.3,898.6 L322.7,899.3 L323.1,900.0 L323.5,900.6 L323.9,901.1 L324.3,901.5 L324.7,901.6 L325.1,901.6 L325.5,901.5 L325.9,901.3 L326.3,900.9 L326.7,900.6 L327.1,900.3 L327.5,900.0 L327.9,899.7 L328.3,899.5 L328.7,899.4 L329.1,899.2 L329.5,899.2 L329.9,899.2 L330.3,899.1 L330.7,899.0 L331.1,898.9 L331.5,898.8 L331.9,898.6 L332.3,898.5 L332.7,898.4 L333.1,898.4 L333.5,898.4 L333.9,898.4 L334.3,898.3 L334.7,898.1 L335.1,897.9 L335.5,897.6 L335.9,897.2 L336.3,896.8 L336.7,896.2 L337.1,895.7 L337.5,895.1 L337.9,894.6 L338.3,894.1 L338.7,893.8 L339.1,893.6 L339.5,893.5 L339.9,893.6 L340.3,893.7 L340.7,893.8 L341.1,894.0 L341.5,894.1 L341.9,894.3 L342.3,894.3 L342.7,894.3 L343.1,894.2 L343.5,894.0 L343.9,893.5 L344.3,892.7 L344.7,891.8 L345.1,890.9 L345.5,890.1 L345.9,889.5 L346.3,889.2 L346.7,889.3 L347.1,889.8 L347.5,890.8 L347.9,891.9 L348.3,893.2 L348.7,894.4 L349.1,895.4 L349.5,896.1 L349.9,896.7 L350.3,897.2 L350.7,897.7 L351.1,898.1 L351.5,898.6 L351.9,899.0 L352.3,899.4 L352.7,899.8 L353.1,900.1 L353.5,900.4 L353.9,900.7 L354.3,900.8 L354.7,901.0 L355.1,901.1 L355.5,901.1 L355.9,901.2 L356.3,901.2 L356.7,901.2 L357.1,901.2 L357.5,901.3 L357.9,901.3 L358.3,901.3 L358.7,901.3 L359.1,901.3 L359.5,901.3 L359.9,901.3 L360.3,901.3 L360.7,901.4 L361.1,901.4 L361.5,901.5 L361.9,901.6 L362.3,901.8 L362.7,901.9 L363.1,902.0 L363.5,902.1 L363.9,902.2 L364.3,902.2 L364.7,902.2 L365.1,902.2 L365.5,902.1 L365.9,902.1 L366.3,902.1 L366.7,902.1 L367.1,902.1 L367.5,902.1 L367.9,902.1 L368.3,902.1 L368.7,902.1 L369.1,902.1 L369.5,902.2 L369.9,902.3 L370.3,902.4 L370.7,902.4 L371.1,902.5 L371.5,902.6 L371.9,902.7 L372.3,902.7 L372.7,902.7 L373.1,902.7 L373.5,902.6 L373.9,902.6 L374.3,902.5 L374.7,902.5 L375.1,902.5 L375.5,902.5 L375.9,902.5 L376.3,902.5 L376.7,902.4 L377.1,901.3 L377.5,899.3 L377.9,896.6 L378.3,893.4 L378.7,890.0 L379.1,886.5 L379.5,881.5 L379.9,875.0 L380.3,867.7 L380.7,860.2 L381.1,853.2 L381.5,847.4 L381.9,843.6 L382.3,842.4 L382.7,843.3 L383.1,845.5 L383.5,848.7 L383.9,852.6 L384.3,856.9 L384.7,861.2 L385.1,865.3 L385.5,869.2 L385.9,874.0 L386.3,879.1 L386.7,884.0 L387.1,888.1 L387.5,890.8 L387.9,891.6 L388.3,891.9 L388.7,892.2 L389.1,892.4 L389.5,892.5 L389.9,892.6 L390.3,892.7 L390.7,892.7 L391.1,892.8 L391.5,892.8 L391.9,892.8 L392.3,892.8 L392.7,892.7 L393.1,892.6 L393.5,892.5 L393.9,892.3 L394.3,892.1 L394.7,891.9 L395.1,891.7 L395.5,891.5 L395.9,891.4 L396.3,891.3 L396.7,891.3 L397.1,891.3 L397.5,891.3 L397.9,891.4 L398.3,891.5 L398.7,891.8 L399.1,892.2 L399.5,892.6 L399.9,893.1 L400.3,893.7 L400.7,894.3 L401.1,894.9 L401.5,895.5 L401.9,896.2 L402.3,896.9 L402.7,897.5 L403.1,898.1 L403.5,898.6 L403.9,898.9 L404.3,899.2 L404.7,899.5 L405.1,899.7 L405.5,900.0 L405.9,900.2 L406.3,900.4 L406.7,900.6 L407.1,900.7 L407.5,900.8 L407.9,900.8 L408.3,900.9 L408.7,900.9 L409.1,901.0 L409.5,901.1 L409.9,901.2 L410.3,901.3 L410.7,901.4 L411.1,901.5 L411.5,901.7 L411.9,901.8 L412.3,901.8 L412.7,901.9 L413.1,902.0 L413.5,902.0 L413.9,902.1 L414.3,902.2 L414.7,902.2 L415.1,902.3 L415.5,902.3 L415.9,902.3 L416.3,902.3 L416.7,902.3 L417.1,902.2 L417.5,902.2 L417.9,902.2 L418.3,902.2 L418.7,902.2 L419.1,902.2 L419.5,901.5 L419.9,900.0 L420.3,897.7 L420.7,894.9 L421.1,891.6 L421.5,888.1 L421.9,884.6 L422.3,881.1 L422.7,877.8 L423.1,874.4 L423.5,870.1 L423.9,865.5 L424.3,861.0 L424.7,856.8 L425.1,853.6 L425.5,851.7 L425.9,851.4 L426.3,852.6 L426.7,855.0 L427.1,858.2 L427.5,861.9 L427.9,865.9 L428.3,869.8 L428.7,873.3 L429.1,876.1 L429.5,878.9 L429.9,881.8 L430.3,884.7 L430.7,887.4 L431.1,889.9 L431.5,892.0 L431.9,893.6 L432.3,894.6 L432.7,894.9 L433.1,894.5 L433.5,893.3 L433.9,891.6 L434.3,889.5 L434.7,887.1 L435.1,884.5 L435.5,882.0 L435.9,879.5 L436.3,877.2 L436.7,875.3 L437.1,873.9 L437.5,873.1 L437.9,873.0 L438.3,873.6 L438.7,874.6 L439.1,875.9 L439.5,877.5 L439.9,879.2 L440.3,880.9 L440.7,882.5 L441.1,883.9 L441.5,885.0 L441.9,886.0 L442.3,886.9 L442.7,887.8 L443.1,888.7 L443.5,889.5 L443.9,890.3 L444.3,891.0 L444.7,891.6 L445.1,892.0 L445.5,892.4 L445.9,892.8 L446.3,893.2 L446.7,893.6 L447.1,893.9 L447.5,894.2 L447.9,894.5 L448.3,894.8 L448.7,895.0 L449.1,895.2 L449.5,895.3 L449.9,895.3 L450.3,895.3 L450.7,894.8 L451.1,893.3 L451.5,891.3 L451.9,888.7 L452.3,885.7 L452.7,882.5 L453.1,879.3 L453.5,876.1 L453.9,873.1 L454.3,870.2 L454.7,866.9 L455.1,863.1 L455.5,859.2 L455.9,855.2 L456.3,851.3 L456.7,847.7 L457.1,844.5 L457.5,841.8 L457.9,839.9 L458.3,838.9 L458.7,838.9 L459.1,840.3 L459.5,842.9 L459.9,846.3 L460.3,850.4 L460.7,854.9 L461.1,859.6 L461.5,864.0 L461.9,868.1 L462.3,871.6 L462.7,874.1 L463.1,875.9 L463.5,877.7 L463.9,879.3 L464.3,880.8 L464.7,882.3 L465.1,883.6 L465.5,884.9 L465.9,886.0 L466.3,887.1 L466.7,888.1 L467.1,889.1 L467.5,889.9 L467.9,890.7 L468.3,891.4 L468.7,892.1 L469.1,892.8 L469.5,893.3 L469.9,893.8 L470.3,894.0 L470.7,894.2 L471.1,894.2 L471.5,894.1 L471.9,894.0 L472.3,893.8 L472.7,893.6 L473.1,893.3 L473.5,893.1 L473.9,892.7 L474.3,892.1 L474.7,891.3 L475.1,890.4 L475.5,889.5 L475.9,888.7 L476.3,888.0 L476.7,887.3 L477.1,886.7 L477.5,886.0 L477.9,885.4 L478.3,884.7 L478.7,883.9 L479.1,883.2 L479.5,882.3 L479.9,881.1 L480.3,879.7 L480.7,878.1 L481.1,876.6 L481.5,875.3 L481.9,874.3 L482.3,873.8 L482.7,874.0 L483.1,874.5 L483.5,875.1 L483.9,875.7 L484.3,876.4 L484.7,877.1 L485.1,877.5 L485.5,877.4 L485.9,877.3 L486.3,877.1 L486.7,876.9 L487.1,876.8 L487.5,876.7 L487.9,876.7 L488.3,876.9 L488.7,877.3 L489.1,877.8 L489.5,878.3 L489.9,879.0 L490.3,879.9 L490.7,881.6 L491.1,883.7 L491.5,885.9 L491.9,887.9 L492.3,889.5 L492.7,891.0 L493.1,892.5 L493.5,893.9 L493.9,895.1 L494.3,896.1 L494.7,896.8 L495.1,897.3 L495.5,897.7 L495.9,898.1 L496.3,898.5 L496.7,898.9 L497.1,899.2 L497.5,899.4 L497.9,899.5 L498.3,899.6 L498.7,899.5 L499.1,899.3 L499.5,899.0 L499.9,898.7 L500.3,898.7 L500.7,898.3 L501.1,898.0 L501.5,897.9 L501.9,897.9 L502.3,898.0 L502.7,898.2 L503.1,898.5 L503.5,898.9 L503.9,899.2 L504.3,899.5 L504.7,899.8 L505.1,900.0 L505.5,900.3 L505.9,900.5 L506.3,900.8 L506.7,901.1 L507.1,901.3 L507.5,901.6 L507.9,901.8 L508.3,902.0 L508.7,902.2 L509.1,902.4 L509.5,902.5 L509.9,902.6 L510.3,902.8 L510.7,903.0 L511.1,903.2 L511.5,903.4 L511.9,903.6 L512.3,903.8 L512.7,903.9 L513.1,904.1 L513.5,904.2 L513.9,904.4 L514.3,904.5 L514.7,904.7 L515.1,904.8 L515.5,904.9 L515.9,904.9 L516.3,904.9 L516.7,904.8 L517.1,904.7 L517.5,904.6 L517.9,904.5 L518.3,904.4 L518.7,904.3 L519.1,904.1 L519.5,903.8 L519.9,903.5 L520.3,903.3 L520.7,902.9 L521.1,902.6 L521.5,902.3 L521.9,902.1 L522.3,901.9 L522.7,901.8 L523.1,901.7 L523.5,901.6 L523.9,901.6 L524.3,901.5 L524.7,901.5 L525.1,901.4 L525.5,901.4 L525.9,901.5 L526.3,901.5 L526.7,901.7 L527.1,901.8 L527.5,902.0 L527.9,902.1 L528.3,902.3 L528.7,902.5 L529.1,902.7 L529.5,902.8 L529.9,903.0 L530.3,903.2 L530.7,903.5 L531.1,903.7 L531.5,904.0 L531.9,904.2 L532.3,904.4 L532.7,904.6 L533.1,904.8 L533.5,904.9 L533.9,905.1 L534.3,905.2 L534.7,905.2 L535.1,905.3 L535.5,905.3 L535.9,905.3 L536.3,905.3 L536.7,905.4 L537.1,905.4 L537.5,905.4 L537.9,905.4 L538.3,905.3 L538.7,905.1 L539.1,904.9 L539.5,904.6 L539.9,904.2 L540.3,903.9 L540.7,903.7 L541.1,903.4 L541.5,903.3 L541.9,903.1 L542.3,903.0 L542.7,903.0 L543.1,903.0 L543.5,903.1 L543.9,903.3 L544.3,903.5 L544.7,903.8 L545.1,904.2 L545.5,904.5 L545.9,904.8 L546.3,905.2 L546.7,905.4 L547.1,905.7 L547.5,906.0 L547.9,906.2 L548.3,906.5 L548.7,906.7 L549.1,906.8 L549.5,907.0 L549.9,907.1 L550.3,907.1 L550.7,907.2 L551.1,907.2 L551.5,907.2 L551.9,907.2 L552.3,907.2 L552.7,907.1 L553.1,907.1 L553.5,907.0 L553.9,906.9 L554.3,906.9 L554.7,906.8 L555.1,906.6 L555.5,906.4 L555.9,906.2 L556.3,905.8 L556.7,905.4 L557.1,905.0 L557.5,904.5 L557.9,904.1 L558.3,903.6 L558.7,903.2 L559.1,902.7 L559.5,902.1 L559.9,901.5 L560.3,900.9 L560.7,900.2 L561.1,899.6 L561.5,899.0 L561.9,898.4 L562.3,898.0 L562.7,897.7 L563.1,897.5 L563.5,897.4 L563.9,897.6 L564.3,898.1 L564.7,898.7 L565.1,899.2 L565.5,899.3 L565.9,898.8 L566.3,898.0 L566.7,897.2 L567.1,896.6 L567.5,896.7 L567.9,897.4 L568.3,898.4 L568.7,899.9" fill="none" stroke="#000" stroke-width="2.1" stroke-linejoin="round"/>
<line x1="39" y1="919.6" x2="569.5" y2="919.6" stroke="#000" stroke-width="1.9"/>
<line x1="40.00" y1="919.6" x2="40.00" y2="926" stroke="#000" stroke-width="1.9"/>
<text x="40.00" y="947.7" font-family="'Liberation Sans', sans-serif" font-weight="bold" font-size="14" fill="#000" text-anchor="middle" textLength="34" lengthAdjust="spacingAndGlyphs" stroke="#000" stroke-width="0.25">4000</text>
<line x1="115.50" y1="919.6" x2="115.50" y2="926" stroke="#000" stroke-width="1.9"/>
<text x="115.50" y="947.7" font-family="'Liberation Sans', sans-serif" font-weight="bold" font-size="14" fill="#000" text-anchor="middle" textLength="34" lengthAdjust="spacingAndGlyphs" stroke="#000" stroke-width="0.25">3500</text>
<line x1="191.00" y1="919.6" x2="191.00" y2="926" stroke="#000" stroke-width="1.9"/>
<text x="191.00" y="947.7" font-family="'Liberation Sans', sans-serif" font-weight="bold" font-size="14" fill="#000" text-anchor="middle" textLength="34" lengthAdjust="spacingAndGlyphs" stroke="#000" stroke-width="0.25">3000</text>
<line x1="266.50" y1="919.6" x2="266.50" y2="926" stroke="#000" stroke-width="1.9"/>
<text x="266.50" y="947.7" font-family="'Liberation Sans', sans-serif" font-weight="bold" font-size="14" fill="#000" text-anchor="middle" textLength="34" lengthAdjust="spacingAndGlyphs" stroke="#000" stroke-width="0.25">2500</text>
<line x1="342.00" y1="919.6" x2="342.00" y2="926" stroke="#000" stroke-width="1.9"/>
<text x="342.00" y="947.7" font-family="'Liberation Sans', sans-serif" font-weight="bold" font-size="14" fill="#000" text-anchor="middle" textLength="34" lengthAdjust="spacingAndGlyphs" stroke="#000" stroke-width="0.25">2000</text>
<line x1="417.50" y1="919.6" x2="417.50" y2="926" stroke="#000" stroke-width="1.9"/>
<text x="417.50" y="947.7" font-family="'Liberation Sans', sans-serif" font-weight="bold" font-size="14" fill="#000" text-anchor="middle" textLength="34" lengthAdjust="spacingAndGlyphs" stroke="#000" stroke-width="0.25">1500</text>
<line x1="493.00" y1="919.6" x2="493.00" y2="926" stroke="#000" stroke-width="1.9"/>
<text x="493.00" y="947.7" font-family="'Liberation Sans', sans-serif" font-weight="bold" font-size="14" fill="#000" text-anchor="middle" textLength="34" lengthAdjust="spacingAndGlyphs" stroke="#000" stroke-width="0.25">1000</text>
<line x1="568.50" y1="919.6" x2="568.50" y2="926" stroke="#000" stroke-width="1.9"/>
<text x="568.50" y="947.7" font-family="'Liberation Sans', sans-serif" font-weight="bold" font-size="14" fill="#000" text-anchor="middle" textLength="25" lengthAdjust="spacingAndGlyphs" stroke="#000" stroke-width="0.25">500</text>
<text x="221" y="983.5" font-family="'Liberation Sans', sans-serif" font-weight="bold" font-size="19.5" fill="#000" textLength="153" lengthAdjust="spacingAndGlyphs" stroke="#000" stroke-width="0.1">Wavenumber (cm</text>
<text x="374.8" y="976.2" font-family="'Liberation Sans', sans-serif" font-weight="bold" font-size="12" fill="#000" textLength="10.5" lengthAdjust="spacingAndGlyphs" stroke="#000" stroke-width="0.1">-1</text>
<text x="386.2" y="983.5" font-family="'Liberation Sans', sans-serif" font-weight="bold" font-size="19.5" fill="#000" stroke="#000" stroke-width="0.1">)</text>
<text x="8.2" y="531.0" font-family="'Liberation Sans', sans-serif" font-weight="bold" font-size="18" fill="#000" textLength="22" lengthAdjust="spacingAndGlyphs">[b]</text>
<text transform="translate(16.6,796) rotate(-90)" x="0" y="0" font-family="'Liberation Sans', sans-serif" font-weight="bold" font-size="17.2" textLength="102" lengthAdjust="spacingAndGlyphs" stroke="#000" stroke-width="0.15">Absorbance</text>
<text x="582" y="614.5" font-family="'Liberation Sans', sans-serif" font-weight="bold" font-size="18" fill="#00c800" textLength="107" lengthAdjust="spacingAndGlyphs">15% PAN, 4 h</text>
<text x="582" y="672.5" font-family="'Liberation Sans', sans-serif" font-weight="bold" font-size="18" fill="#ff0000" textLength="107" lengthAdjust="spacingAndGlyphs">15% PAN, 2 h</text>
<text x="585.5" y="763" font-family="'Liberation Sans', sans-serif" font-weight="bold" font-size="18" fill="#0a36c8" textLength="122" lengthAdjust="spacingAndGlyphs">12.5% PAN, 4 h</text>
<text x="582" y="837" font-family="'Liberation Sans', sans-serif" font-weight="bold" font-size="18" fill="#fdbb08" textLength="116" lengthAdjust="spacingAndGlyphs">12.5% PAN, 2h</text>
<text x="586" y="905" font-family="'Liberation Sans', sans-serif" font-weight="bold" font-size="18" fill="#000" textLength="82.5" lengthAdjust="spacingAndGlyphs">PAN Blank</text>
</svg></body></html>
